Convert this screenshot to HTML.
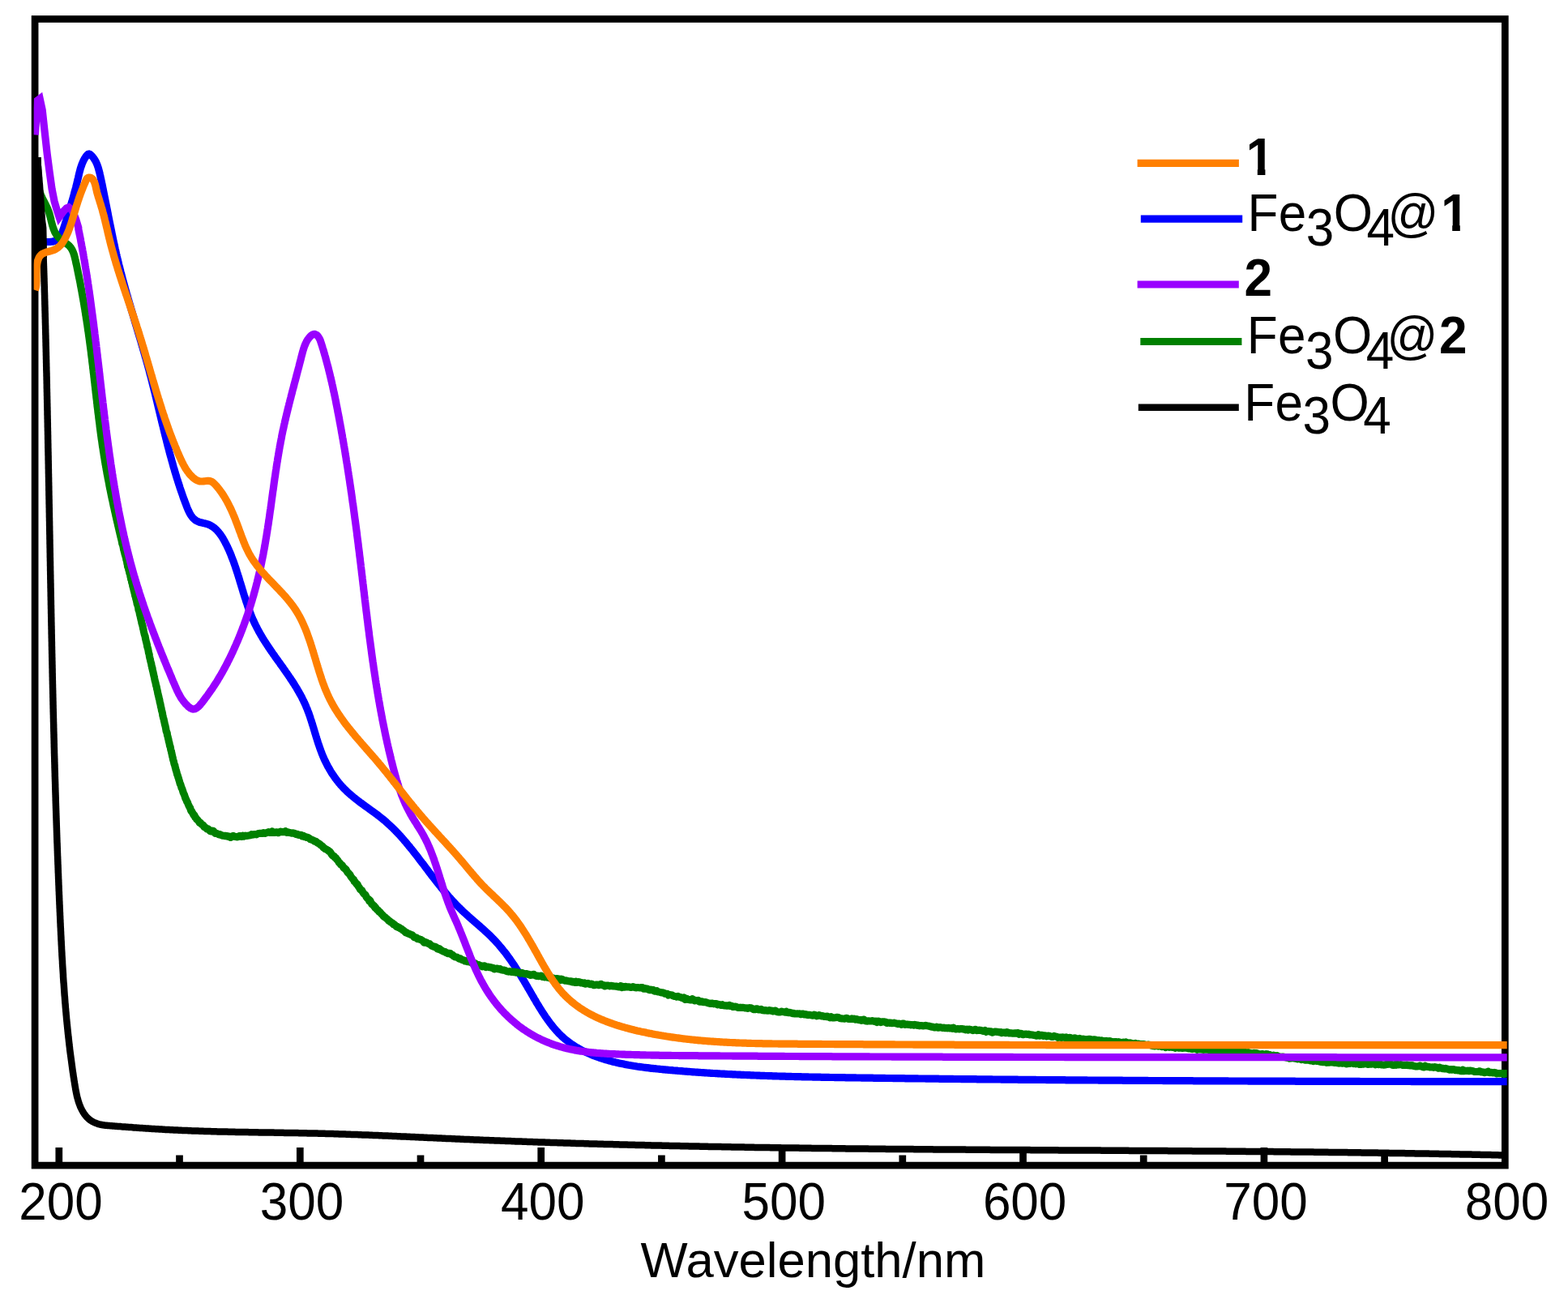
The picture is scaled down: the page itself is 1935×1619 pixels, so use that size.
<!DOCTYPE html>
<html lang="en"><head><meta charset="utf-8"><title>UV-Vis spectra</title>
<style>html,body{margin:0;padding:0;background:#fff}body{width:1935px;height:1619px;overflow:hidden}svg{display:block}text{font-family:"Liberation Sans",Arial,Helvetica,sans-serif;fill:#000}.c{fill:none;stroke-linejoin:miter;stroke-linecap:butt}</style></head><body>
<svg width="1935" height="1619" viewBox="0 0 1935 1619">
<defs><clipPath id="plot"><rect x="41.7" y="23.5" width="1818.0" height="1414.6"/></clipPath></defs>
<rect x="0" y="0" width="1935" height="1619" fill="#fff"/>
<rect x="43.1" y="23.5" width="1814.2" height="1414.6" fill="none" stroke="#000" stroke-width="8.7"/>
<line x1="72.8" y1="1438.1" x2="72.8" y2="1416.0" stroke="#000" stroke-width="8.7"/>
<line x1="221.5" y1="1438.1" x2="221.5" y2="1425.5" stroke="#000" stroke-width="8.7"/>
<line x1="370.3" y1="1438.1" x2="370.3" y2="1416.0" stroke="#000" stroke-width="8.7"/>
<line x1="519.0" y1="1438.1" x2="519.0" y2="1425.5" stroke="#000" stroke-width="8.7"/>
<line x1="667.7" y1="1438.1" x2="667.7" y2="1416.0" stroke="#000" stroke-width="8.7"/>
<line x1="816.4" y1="1438.1" x2="816.4" y2="1425.5" stroke="#000" stroke-width="8.7"/>
<line x1="965.1" y1="1438.1" x2="965.1" y2="1416.0" stroke="#000" stroke-width="8.7"/>
<line x1="1113.8" y1="1438.1" x2="1113.8" y2="1425.5" stroke="#000" stroke-width="8.7"/>
<line x1="1262.5" y1="1438.1" x2="1262.5" y2="1416.0" stroke="#000" stroke-width="8.7"/>
<line x1="1411.2" y1="1438.1" x2="1411.2" y2="1425.5" stroke="#000" stroke-width="8.7"/>
<line x1="1559.9" y1="1438.1" x2="1559.9" y2="1416.0" stroke="#000" stroke-width="8.7"/>
<line x1="1708.6" y1="1438.1" x2="1708.6" y2="1425.5" stroke="#000" stroke-width="8.7"/>
<g clip-path="url(#plot)">
<path class="c" d="M43.2,299.0 L44.5,298.7 L45.8,298.5 L47.2,298.4 L48.7,298.3 L50.2,298.3 L51.8,298.3 L53.4,298.4 L55.1,298.5 L56.7,298.5 L58.4,298.5 L60.1,298.5 L61.7,298.5 L63.3,298.3 L64.8,298.1 L66.2,297.8 L67.6,297.4 L68.9,296.8 L70.0,296.1 L71.1,295.3 L72.1,294.4 L73.0,293.4 L73.9,292.3 L74.6,291.1 L75.4,289.8 L76.0,288.5 L76.6,287.1 L77.2,285.7 L77.7,284.2 L78.3,282.7 L78.7,281.2 L79.2,279.7 L79.7,278.2 L80.2,276.7 L80.6,275.2 L81.1,273.8 L81.6,272.3 L82.0,270.8 L82.5,269.4 L82.9,267.9 L83.4,266.5 L83.8,265.1 L84.3,263.6 L84.7,262.2 L85.2,260.8 L85.6,259.4 L86.0,258.0 L86.4,256.6 L86.9,255.2 L87.3,253.8 L87.7,252.3 L88.1,250.9 L88.5,249.5 L89.0,248.1 L89.4,246.7 L89.8,245.3 L90.2,243.9 L90.6,242.5 L91.0,241.1 L91.4,239.6 L91.7,238.2 L92.1,236.8 L92.5,235.3 L92.9,233.9 L93.3,232.5 L93.7,231.0 L94.0,229.5 L94.4,228.1 L94.8,226.6 L95.1,225.1 L95.5,223.6 L95.8,222.1 L96.2,220.6 L96.6,219.0 L96.9,217.5 L97.3,216.0 L97.6,214.4 L98.0,212.9 L98.4,211.4 L98.8,209.8 L99.2,208.3 L99.7,206.8 L100.2,205.3 L100.7,203.9 L101.2,202.4 L101.8,201.0 L102.4,199.6 L103.0,198.3 L103.7,196.9 L104.4,195.7 L105.2,194.4 L106.0,193.2 L106.9,192.0 L107.9,191.0 L108.8,190.3 L109.9,190.0 L110.9,190.4 L111.9,191.1 L112.9,192.0 L113.9,193.0 L114.7,194.0 L115.6,195.1 L116.3,196.2 L117.1,197.4 L117.8,198.6 L118.4,199.8 L119.0,201.1 L119.6,202.4 L120.1,203.8 L120.6,205.2 L121.1,206.6 L121.5,208.0 L121.9,209.5 L122.3,211.0 L122.7,212.5 L123.1,214.0 L123.4,215.5 L123.8,217.1 L124.1,218.6 L124.4,220.1 L124.8,221.7 L125.1,223.2 L125.4,224.7 L125.7,226.2 L126.0,227.8 L126.4,229.3 L126.7,230.8 L127.0,232.3 L127.3,233.9 L127.6,235.4 L127.9,236.9 L128.2,238.4 L128.5,239.9 L128.8,241.4 L129.1,242.9 L129.4,244.4 L129.7,245.9 L130.0,247.4 L130.3,248.9 L130.6,250.4 L130.9,251.9 L131.2,253.4 L131.5,254.9 L131.8,256.4 L132.1,257.9 L132.4,259.3 L132.7,260.8 L133.0,262.3 L133.3,263.8 L133.5,265.3 L133.8,266.7 L134.1,268.2 L134.4,269.7 L134.7,271.2 L135.0,272.6 L135.3,274.1 L135.6,275.6 L135.9,277.1 L136.2,278.5 L136.5,280.0 L136.8,281.5 L137.1,282.9 L137.4,284.4 L137.7,285.8 L138.0,287.3 L138.3,288.8 L138.6,290.2 L138.9,291.7 L139.2,293.1 L139.5,294.6 L139.8,296.1 L140.1,297.5 L140.4,299.0 L140.7,300.4 L141.1,301.9 L141.4,303.3 L141.7,304.8 L142.0,306.2 L142.3,307.7 L142.7,309.1 L143.0,310.6 L143.3,312.0 L143.6,313.5 L144.0,314.9 L144.3,316.4 L144.7,317.8 L145.0,319.3 L145.3,320.7 L145.7,322.2 L146.0,323.6 L146.4,325.1 L146.7,326.5 L147.1,327.9 L147.5,329.4 L147.8,330.8 L148.2,332.3 L148.6,333.7 L148.9,335.2 L149.3,336.6 L149.7,338.1 L150.1,339.5 L150.5,341.0 L150.8,342.4 L151.2,343.9 L151.6,345.3 L152.0,346.7 L152.4,348.2 L152.8,349.6 L153.2,351.1 L153.6,352.5 L154.0,354.0 L154.4,355.4 L154.8,356.9 L155.2,358.3 L155.6,359.8 L156.0,361.2 L156.4,362.6 L156.9,364.1 L157.3,365.5 L157.7,367.0 L158.1,368.4 L158.5,369.9 L158.9,371.3 L159.4,372.8 L159.8,374.2 L160.2,375.6 L160.6,377.1 L161.1,378.5 L161.5,380.0 L161.9,381.4 L162.3,382.9 L162.8,384.3 L163.2,385.8 L163.6,387.2 L164.1,388.6 L164.5,390.1 L164.9,391.5 L165.4,393.0 L165.8,394.4 L166.2,395.9 L166.6,397.3 L167.1,398.8 L167.5,400.2 L167.9,401.6 L168.4,403.1 L168.8,404.5 L169.2,406.0 L169.7,407.4 L170.1,408.9 L170.5,410.3 L171.0,411.8 L171.4,413.2 L171.8,414.7 L172.3,416.1 L172.7,417.5 L173.1,419.0 L173.6,420.4 L174.0,421.9 L174.4,423.3 L174.8,424.8 L175.3,426.2 L175.7,427.7 L176.1,429.1 L176.5,430.6 L176.9,432.0 L177.4,433.5 L177.8,434.9 L178.2,436.4 L178.6,437.8 L179.0,439.3 L179.4,440.7 L179.9,442.1 L180.3,443.6 L180.7,445.0 L181.1,446.5 L181.5,447.9 L181.9,449.4 L182.3,450.8 L182.7,452.3 L183.1,453.7 L183.5,455.2 L183.9,456.6 L184.3,458.1 L184.6,459.5 L185.0,461.0 L185.4,462.4 L185.8,463.9 L186.2,465.3 L186.6,466.8 L186.9,468.2 L187.3,469.7 L187.7,471.1 L188.0,472.6 L188.4,474.1 L188.8,475.5 L189.1,477.0 L189.5,478.4 L189.9,479.9 L190.2,481.3 L190.6,482.8 L191.0,484.2 L191.3,485.7 L191.7,487.1 L192.0,488.6 L192.4,490.0 L192.7,491.5 L193.1,492.9 L193.4,494.4 L193.8,495.8 L194.1,497.3 L194.5,498.8 L194.8,500.2 L195.2,501.7 L195.5,503.1 L195.9,504.6 L196.2,506.0 L196.6,507.5 L196.9,508.9 L197.3,510.4 L197.6,511.8 L198.0,513.3 L198.3,514.7 L198.7,516.2 L199.0,517.6 L199.4,519.1 L199.7,520.6 L200.1,522.0 L200.4,523.5 L200.8,524.9 L201.2,526.4 L201.5,527.8 L201.9,529.3 L202.2,530.7 L202.6,532.2 L202.9,533.6 L203.3,535.1 L203.6,536.5 L204.0,538.0 L204.4,539.4 L204.7,540.9 L205.1,542.3 L205.5,543.8 L205.8,545.2 L206.2,546.7 L206.6,548.1 L206.9,549.6 L207.3,551.1 L207.7,552.5 L208.1,554.0 L208.5,555.4 L208.8,556.9 L209.2,558.3 L209.6,559.8 L210.0,561.2 L210.4,562.7 L210.8,564.1 L211.2,565.5 L211.6,567.0 L212.0,568.4 L212.4,569.9 L212.8,571.3 L213.2,572.8 L213.6,574.2 L214.0,575.7 L214.4,577.1 L214.9,578.6 L215.3,580.0 L215.7,581.5 L216.1,582.9 L216.6,584.4 L217.0,585.8 L217.4,587.2 L217.9,588.7 L218.3,590.1 L218.8,591.6 L219.2,593.0 L219.7,594.5 L220.2,595.9 L220.6,597.3 L221.1,598.8 L221.6,600.2 L222.0,601.7 L222.5,603.1 L223.0,604.5 L223.5,606.0 L224.0,607.4 L224.5,608.9 L225.0,610.3 L225.5,611.7 L226.0,613.2 L226.5,614.6 L227.0,616.0 L227.6,617.5 L228.1,618.9 L228.6,620.4 L229.2,621.8 L229.7,623.2 L230.3,624.7 L230.8,626.1 L231.4,627.5 L232.0,628.9 L232.6,630.3 L233.3,631.6 L233.9,633.0 L234.6,634.2 L235.4,635.5 L236.2,636.7 L237.0,637.8 L237.9,638.9 L238.9,639.9 L239.9,640.8 L241.0,641.7 L242.2,642.5 L243.5,643.2 L244.8,643.8 L246.2,644.3 L247.7,644.8 L249.3,645.1 L250.8,645.5 L252.4,645.8 L254.0,646.2 L255.5,646.6 L257.0,647.1 L258.4,647.7 L259.8,648.4 L261.1,649.1 L262.3,649.9 L263.5,650.7 L264.7,651.6 L265.8,652.6 L266.9,653.6 L267.9,654.6 L268.9,655.7 L269.9,656.9 L270.8,658.0 L271.7,659.2 L272.5,660.4 L273.4,661.6 L274.2,662.9 L275.0,664.2 L275.7,665.4 L276.5,666.7 L277.2,668.0 L277.9,669.4 L278.6,670.7 L279.3,672.0 L280.0,673.4 L280.6,674.7 L281.2,676.1 L281.9,677.5 L282.5,678.8 L283.1,680.2 L283.7,681.6 L284.3,683.0 L284.8,684.4 L285.4,685.8 L285.9,687.2 L286.5,688.6 L287.0,690.0 L287.5,691.4 L288.1,692.8 L288.6,694.2 L289.1,695.6 L289.6,697.1 L290.1,698.5 L290.6,699.9 L291.0,701.3 L291.5,702.8 L292.0,704.2 L292.4,705.6 L292.9,707.1 L293.4,708.5 L293.8,710.0 L294.3,711.4 L294.7,712.8 L295.2,714.3 L295.6,715.7 L296.0,717.2 L296.5,718.6 L296.9,720.1 L297.4,721.5 L297.8,723.0 L298.2,724.4 L298.7,725.8 L299.1,727.3 L299.6,728.7 L300.0,730.2 L300.4,731.6 L300.9,733.1 L301.3,734.5 L301.8,735.9 L302.2,737.4 L302.7,738.8 L303.2,740.2 L303.6,741.7 L304.1,743.1 L304.6,744.5 L305.1,745.9 L305.5,747.3 L306.0,748.8 L306.5,750.2 L307.0,751.6 L307.6,753.0 L308.1,754.4 L308.6,755.8 L309.2,757.2 L309.7,758.6 L310.3,759.9 L310.8,761.3 L311.4,762.7 L312.0,764.1 L312.6,765.4 L313.2,766.8 L313.8,768.1 L314.4,769.5 L315.1,770.8 L315.7,772.1 L316.4,773.5 L317.1,774.8 L317.8,776.1 L318.5,777.4 L319.2,778.7 L319.9,780.0 L320.6,781.3 L321.4,782.6 L322.1,783.9 L322.9,785.2 L323.7,786.5 L324.4,787.8 L325.2,789.0 L326.0,790.3 L326.8,791.6 L327.6,792.8 L328.4,794.1 L329.2,795.3 L330.1,796.6 L330.9,797.8 L331.7,799.1 L332.6,800.3 L333.4,801.6 L334.3,802.8 L335.1,804.1 L336.0,805.3 L336.8,806.5 L337.7,807.8 L338.6,809.0 L339.4,810.2 L340.3,811.5 L341.2,812.7 L342.1,813.9 L342.9,815.1 L343.8,816.4 L344.7,817.6 L345.6,818.8 L346.4,820.1 L347.3,821.3 L348.2,822.5 L349.1,823.7 L349.9,825.0 L350.8,826.2 L351.7,827.4 L352.5,828.7 L353.4,829.9 L354.3,831.1 L355.1,832.4 L356.0,833.6 L356.8,834.9 L357.7,836.1 L358.5,837.4 L359.3,838.6 L360.2,839.9 L361.0,841.1 L361.8,842.4 L362.6,843.6 L363.4,844.9 L364.2,846.2 L365.0,847.4 L365.8,848.7 L366.5,850.0 L367.3,851.3 L368.0,852.6 L368.8,853.9 L369.5,855.2 L370.2,856.5 L371.0,857.8 L371.7,859.1 L372.4,860.4 L373.0,861.7 L373.7,863.1 L374.4,864.4 L375.0,865.8 L375.6,867.1 L376.3,868.5 L376.9,869.8 L377.5,871.2 L378.0,872.6 L378.6,874.0 L379.2,875.3 L379.7,876.7 L380.2,878.1 L380.8,879.5 L381.3,880.9 L381.8,882.4 L382.3,883.8 L382.8,885.2 L383.2,886.6 L383.7,888.1 L384.2,889.5 L384.6,890.9 L385.1,892.4 L385.5,893.8 L386.0,895.3 L386.4,896.7 L386.9,898.1 L387.3,899.6 L387.7,901.0 L388.2,902.5 L388.6,903.9 L389.0,905.4 L389.5,906.8 L389.9,908.3 L390.4,909.7 L390.8,911.2 L391.3,912.6 L391.7,914.1 L392.2,915.5 L392.6,917.0 L393.1,918.4 L393.6,919.8 L394.1,921.3 L394.6,922.7 L395.1,924.1 L395.6,925.5 L396.1,926.9 L396.7,928.3 L397.2,929.8 L397.8,931.2 L398.3,932.5 L398.9,933.9 L399.5,935.3 L400.1,936.7 L400.8,938.1 L401.4,939.4 L402.1,940.8 L402.7,942.1 L403.4,943.5 L404.1,944.8 L404.8,946.1 L405.6,947.4 L406.3,948.7 L407.1,950.0 L407.8,951.3 L408.6,952.6 L409.4,953.9 L410.2,955.1 L411.1,956.4 L411.9,957.6 L412.8,958.8 L413.6,960.1 L414.5,961.3 L415.4,962.5 L416.3,963.6 L417.3,964.8 L418.2,966.0 L419.2,967.1 L420.1,968.3 L421.1,969.4 L422.1,970.5 L423.1,971.6 L424.2,972.7 L425.2,973.7 L426.3,974.8 L427.3,975.8 L428.4,976.9 L429.5,977.9 L430.6,978.9 L431.7,979.9 L432.9,980.9 L434.0,981.8 L435.2,982.8 L436.3,983.7 L437.5,984.7 L438.7,985.6 L439.8,986.5 L441.0,987.5 L442.2,988.4 L443.4,989.3 L444.6,990.2 L445.9,991.1 L447.1,992.0 L448.3,992.9 L449.5,993.8 L450.7,994.7 L452.0,995.5 L453.2,996.4 L454.4,997.3 L455.7,998.2 L456.9,999.1 L458.1,1000.0 L459.3,1000.8 L460.6,1001.7 L461.8,1002.6 L463.0,1003.5 L464.2,1004.4 L465.4,1005.3 L466.6,1006.2 L467.8,1007.2 L469.0,1008.1 L470.2,1009.0 L471.4,1010.0 L472.5,1010.9 L473.7,1011.9 L474.8,1012.8 L476.0,1013.8 L477.1,1014.8 L478.2,1015.8 L479.3,1016.8 L480.4,1017.8 L481.5,1018.8 L482.6,1019.9 L483.7,1020.9 L484.8,1021.9 L485.8,1023.0 L486.9,1024.0 L487.9,1025.1 L489.0,1026.2 L490.0,1027.3 L491.0,1028.3 L492.1,1029.4 L493.1,1030.5 L494.1,1031.6 L495.1,1032.8 L496.1,1033.9 L497.1,1035.0 L498.1,1036.1 L499.0,1037.3 L500.0,1038.4 L501.0,1039.5 L502.0,1040.7 L502.9,1041.8 L503.9,1043.0 L504.8,1044.2 L505.8,1045.3 L506.7,1046.5 L507.7,1047.6 L508.6,1048.8 L509.5,1050.0 L510.5,1051.2 L511.4,1052.4 L512.3,1053.5 L513.2,1054.7 L514.2,1055.9 L515.1,1057.1 L516.0,1058.3 L516.9,1059.5 L517.8,1060.7 L518.7,1061.9 L519.6,1063.1 L520.5,1064.3 L521.5,1065.4 L522.4,1066.6 L523.3,1067.8 L524.2,1069.0 L525.1,1070.2 L526.0,1071.4 L526.9,1072.6 L527.8,1073.8 L528.7,1075.0 L529.6,1076.2 L530.5,1077.4 L531.4,1078.6 L532.3,1079.8 L533.2,1080.9 L534.1,1082.1 L535.1,1083.3 L536.0,1084.5 L536.9,1085.7 L537.8,1086.8 L538.7,1088.0 L539.6,1089.2 L540.6,1090.4 L541.5,1091.5 L542.4,1092.7 L543.4,1093.9 L544.3,1095.0 L545.3,1096.2 L546.2,1097.3 L547.1,1098.5 L548.1,1099.6 L549.1,1100.8 L550.0,1101.9 L551.0,1103.0 L552.0,1104.2 L552.9,1105.3 L553.9,1106.4 L554.9,1107.6 L555.9,1108.7 L556.9,1109.8 L557.9,1110.9 L558.9,1112.0 L559.9,1113.1 L561.0,1114.2 L562.0,1115.3 L563.0,1116.4 L564.1,1117.4 L565.1,1118.5 L566.2,1119.6 L567.3,1120.6 L568.3,1121.7 L569.4,1122.7 L570.5,1123.8 L571.6,1124.8 L572.7,1125.9 L573.8,1126.9 L575.0,1127.9 L576.1,1128.9 L577.2,1130.0 L578.3,1131.0 L579.5,1132.0 L580.6,1133.0 L581.8,1134.0 L582.9,1135.0 L584.1,1136.0 L585.2,1137.0 L586.4,1138.0 L587.5,1139.0 L588.7,1140.0 L589.8,1141.0 L591.0,1142.0 L592.1,1143.0 L593.2,1144.0 L594.4,1145.0 L595.5,1146.0 L596.7,1147.0 L597.8,1148.0 L598.9,1149.1 L600.0,1150.1 L601.1,1151.1 L602.2,1152.1 L603.3,1153.2 L604.4,1154.2 L605.5,1155.3 L606.5,1156.3 L607.6,1157.4 L608.6,1158.5 L609.7,1159.5 L610.7,1160.6 L611.7,1161.7 L612.7,1162.8 L613.7,1163.9 L614.7,1165.0 L615.7,1166.1 L616.6,1167.3 L617.6,1168.4 L618.5,1169.5 L619.5,1170.7 L620.4,1171.8 L621.3,1173.0 L622.3,1174.1 L623.2,1175.3 L624.1,1176.5 L625.0,1177.6 L625.8,1178.8 L626.7,1180.0 L627.6,1181.2 L628.5,1182.4 L629.3,1183.6 L630.2,1184.8 L631.0,1186.0 L631.9,1187.3 L632.7,1188.5 L633.5,1189.7 L634.4,1190.9 L635.2,1192.2 L636.0,1193.4 L636.8,1194.7 L637.6,1195.9 L638.4,1197.2 L639.2,1198.4 L640.0,1199.7 L640.8,1201.0 L641.6,1202.2 L642.4,1203.5 L643.2,1204.8 L643.9,1206.1 L644.7,1207.4 L645.5,1208.7 L646.3,1209.9 L647.0,1211.2 L647.8,1212.5 L648.6,1213.8 L649.3,1215.1 L650.1,1216.4 L650.9,1217.8 L651.6,1219.1 L652.4,1220.4 L653.2,1221.7 L653.9,1223.0 L654.7,1224.3 L655.5,1225.7 L656.2,1227.0 L657.0,1228.3 L657.8,1229.6 L658.5,1230.9 L659.3,1232.3 L660.1,1233.6 L660.9,1234.9 L661.6,1236.2 L662.4,1237.6 L663.2,1238.9 L664.0,1240.2 L664.8,1241.5 L665.6,1242.8 L666.4,1244.1 L667.2,1245.4 L668.0,1246.7 L668.8,1248.0 L669.7,1249.3 L670.5,1250.6 L671.3,1251.8 L672.2,1253.1 L673.0,1254.4 L673.9,1255.6 L674.8,1256.9 L675.6,1258.1 L676.5,1259.3 L677.4,1260.5 L678.3,1261.7 L679.2,1262.9 L680.1,1264.1 L681.0,1265.3 L682.0,1266.5 L682.9,1267.6 L683.9,1268.8 L684.9,1269.9 L685.8,1271.0 L686.8,1272.1 L687.8,1273.2 L688.8,1274.3 L689.9,1275.4 L690.9,1276.4 L692.0,1277.4 L693.0,1278.5 L694.1,1279.5 L695.2,1280.5 L696.3,1281.4 L697.4,1282.4 L698.6,1283.3 L699.7,1284.2 L700.9,1285.1 L702.0,1286.0 L703.2,1286.9 L704.4,1287.8 L705.6,1288.6 L706.9,1289.4 L708.1,1290.2 L709.4,1291.0 L710.6,1291.8 L711.9,1292.6 L713.2,1293.3 L714.5,1294.1 L715.8,1294.8 L717.1,1295.5 L718.4,1296.2 L719.7,1296.9 L721.1,1297.5 L722.4,1298.2 L723.8,1298.8 L725.1,1299.4 L726.5,1300.0 L727.9,1300.6 L729.3,1301.2 L730.6,1301.8 L732.0,1302.4 L733.4,1302.9 L734.9,1303.4 L736.3,1304.0 L737.7,1304.5 L739.1,1305.0 L740.6,1305.5 L742.0,1305.9 L743.4,1306.4 L744.9,1306.9 L746.3,1307.3 L747.8,1307.8 L749.2,1308.2 L750.7,1308.6 L752.1,1309.0 L753.6,1309.4 L755.1,1309.8 L756.5,1310.2 L758.0,1310.5 L759.5,1310.9 L760.9,1311.2 L762.4,1311.6 L763.9,1311.9 L765.3,1312.2 L766.8,1312.5 L768.3,1312.8 L769.8,1313.1 L771.2,1313.4 L772.7,1313.7 L774.2,1314.0 L775.7,1314.3 L777.2,1314.5 L778.6,1314.8 L780.1,1315.0 L781.6,1315.3 L783.1,1315.5 L784.6,1315.7 L786.1,1316.0 L787.5,1316.2 L789.0,1316.4 L790.5,1316.6 L792.0,1316.8 L793.5,1317.0 L795.0,1317.2 L796.5,1317.4 L798.0,1317.6 L799.4,1317.7 L800.9,1317.9 L802.4,1318.1 L803.9,1318.3 L805.4,1318.4 L806.9,1318.6 L808.4,1318.7 L809.9,1318.9 L811.4,1319.0 L812.9,1319.2 L814.4,1319.3 L815.9,1319.5 L817.4,1319.6 L818.9,1319.8 L820.4,1319.9 L821.9,1320.1 L823.3,1320.2 L824.8,1320.3 L826.3,1320.5 L827.8,1320.6 L829.3,1320.7 L830.8,1320.9 L832.3,1321.0 L833.8,1321.1 L835.3,1321.2 L836.8,1321.4 L838.3,1321.5 L839.8,1321.6 L841.3,1321.7 L842.8,1321.8 L844.3,1322.0 L845.8,1322.1 L847.3,1322.2 L848.8,1322.3 L850.3,1322.4 L851.8,1322.5 L853.3,1322.7 L854.8,1322.8 L856.3,1322.9 L857.8,1323.0 L859.3,1323.1 L860.8,1323.2 L862.3,1323.3 L863.7,1323.4 L865.2,1323.5 L866.7,1323.6 L868.2,1323.7 L869.7,1323.8 L871.2,1323.9 L872.7,1324.0 L874.2,1324.1 L875.7,1324.2 L877.2,1324.3 L878.7,1324.4 L880.2,1324.5 L881.7,1324.5 L883.2,1324.6 L884.7,1324.7 L886.2,1324.8 L887.7,1324.9 L889.2,1325.0 L890.7,1325.1 L892.2,1325.1 L893.7,1325.2 L895.2,1325.3 L896.7,1325.4 L898.2,1325.5 L899.7,1325.5 L901.2,1325.6 L902.7,1325.7 L904.2,1325.8 L905.7,1325.8 L907.2,1325.9 L908.7,1326.0 L910.2,1326.1 L911.7,1326.1 L913.2,1326.2 L914.7,1326.3 L916.2,1326.3 L917.7,1326.4 L919.2,1326.5 L920.7,1326.5 L922.2,1326.6 L923.7,1326.7 L925.2,1326.7 L926.7,1326.8 L928.2,1326.9 L929.7,1326.9 L931.2,1327.0 L932.7,1327.0 L934.2,1327.1 L935.7,1327.2 L937.2,1327.2 L938.7,1327.3 L940.2,1327.3 L941.7,1327.4 L943.2,1327.4 L944.7,1327.5 L946.2,1327.5 L947.7,1327.6 L949.2,1327.6 L950.7,1327.7 L952.2,1327.7 L953.7,1327.8 L955.2,1327.8 L956.7,1327.9 L958.2,1327.9 L959.7,1328.0 L961.2,1328.0 L962.7,1328.1 L964.2,1328.1 L965.7,1328.1 L967.2,1328.2 L968.7,1328.2 L970.2,1328.3 L971.7,1328.3 L973.2,1328.4 L974.7,1328.4 L976.2,1328.4 L977.7,1328.5 L979.2,1328.5 L980.7,1328.6 L982.2,1328.6 L983.7,1328.6 L985.2,1328.7 L986.7,1328.7 L988.2,1328.7 L989.7,1328.8 L991.2,1328.8 L992.7,1328.8 L994.2,1328.9 L995.7,1328.9 L997.2,1328.9 L998.7,1329.0 L1000.2,1329.0 L1001.7,1329.0 L1003.2,1329.1 L1004.7,1329.1 L1006.2,1329.1 L1007.7,1329.2 L1009.2,1329.2 L1010.7,1329.2 L1012.2,1329.2 L1013.7,1329.3 L1015.2,1329.3 L1016.7,1329.3 L1018.2,1329.4 L1019.7,1329.4 L1021.2,1329.4 L1022.7,1329.4 L1024.2,1329.5 L1025.7,1329.5 L1027.2,1329.5 L1028.7,1329.5 L1030.2,1329.6 L1031.7,1329.6 L1033.2,1329.6 L1034.7,1329.6 L1036.2,1329.7 L1037.7,1329.7 L1039.2,1329.7 L1040.7,1329.7 L1042.2,1329.7 L1043.7,1329.8 L1045.2,1329.8 L1046.7,1329.8 L1048.2,1329.8 L1049.7,1329.9 L1051.2,1329.9 L1052.8,1329.9 L1054.3,1329.9 L1055.8,1329.9 L1057.3,1330.0 L1058.8,1330.0 L1060.3,1330.0 L1061.8,1330.0 L1063.3,1330.1 L1064.8,1330.1 L1066.3,1330.1 L1067.8,1330.1 L1069.3,1330.1 L1070.8,1330.2 L1072.3,1330.2 L1073.8,1330.2 L1075.3,1330.2 L1076.8,1330.2 L1078.3,1330.3 L1079.8,1330.3 L1081.3,1330.3 L1082.8,1330.3 L1084.3,1330.3 L1085.8,1330.4 L1087.3,1330.4 L1088.8,1330.4 L1090.3,1330.4 L1091.8,1330.4 L1093.3,1330.5 L1094.8,1330.5 L1096.3,1330.5 L1097.8,1330.5 L1099.3,1330.5 L1100.8,1330.5 L1102.3,1330.6 L1103.8,1330.6 L1105.3,1330.6 L1106.8,1330.6 L1108.3,1330.6 L1109.8,1330.7 L1111.3,1330.7 L1112.8,1330.7 L1114.3,1330.7 L1115.8,1330.7 L1117.3,1330.8 L1118.8,1330.8 L1120.3,1330.8 L1121.8,1330.8 L1123.3,1330.8 L1124.8,1330.8 L1126.3,1330.9 L1127.8,1330.9 L1129.3,1330.9 L1130.8,1330.9 L1132.3,1330.9 L1133.8,1331.0 L1135.3,1331.0 L1136.8,1331.0 L1138.3,1331.0 L1139.8,1331.0 L1141.3,1331.0 L1142.8,1331.1 L1144.3,1331.1 L1145.8,1331.1 L1147.3,1331.1 L1148.8,1331.1 L1150.3,1331.2 L1151.8,1331.2 L1153.4,1331.2 L1154.9,1331.2 L1156.4,1331.2 L1157.9,1331.2 L1159.4,1331.3 L1160.9,1331.3 L1162.4,1331.3 L1163.9,1331.3 L1165.4,1331.3 L1166.9,1331.3 L1168.4,1331.4 L1169.9,1331.4 L1171.4,1331.4 L1172.9,1331.4 L1174.4,1331.4 L1175.9,1331.4 L1177.4,1331.5 L1178.9,1331.5 L1180.4,1331.5 L1181.9,1331.5 L1183.4,1331.5 L1184.9,1331.5 L1186.4,1331.6 L1187.9,1331.6 L1189.4,1331.6 L1190.9,1331.6 L1192.4,1331.6 L1193.9,1331.6 L1195.4,1331.6 L1196.9,1331.7 L1198.4,1331.7 L1199.9,1331.7 L1201.4,1331.7 L1202.9,1331.7 L1204.4,1331.7 L1205.9,1331.8 L1207.4,1331.8 L1208.9,1331.8 L1210.4,1331.8 L1211.9,1331.8 L1213.4,1331.8 L1214.9,1331.8 L1216.4,1331.9 L1217.9,1331.9 L1219.4,1331.9 L1220.9,1331.9 L1222.4,1331.9 L1223.9,1331.9 L1225.4,1332.0 L1226.9,1332.0 L1228.4,1332.0 L1229.9,1332.0 L1231.4,1332.0 L1232.9,1332.0 L1234.4,1332.0 L1235.9,1332.1 L1237.4,1332.1 L1238.9,1332.1 L1240.4,1332.1 L1241.9,1332.1 L1243.4,1332.1 L1244.9,1332.1 L1246.4,1332.2 L1247.9,1332.2 L1249.4,1332.2 L1250.9,1332.2 L1252.4,1332.2 L1253.9,1332.2 L1255.4,1332.2 L1256.9,1332.3 L1258.4,1332.3 L1260.0,1332.3 L1261.5,1332.3 L1263.0,1332.3 L1264.5,1332.3 L1266.0,1332.3 L1267.5,1332.3 L1269.0,1332.4 L1270.5,1332.4 L1272.0,1332.4 L1273.5,1332.4 L1275.0,1332.4 L1276.5,1332.4 L1278.0,1332.4 L1279.5,1332.5 L1281.0,1332.5 L1282.5,1332.5 L1284.0,1332.5 L1285.5,1332.5 L1287.0,1332.5 L1288.5,1332.5 L1290.0,1332.5 L1291.5,1332.6 L1293.0,1332.6 L1294.5,1332.6 L1296.0,1332.6 L1297.5,1332.6 L1299.0,1332.6 L1300.5,1332.6 L1302.0,1332.6 L1303.5,1332.7 L1305.0,1332.7 L1306.5,1332.7 L1308.0,1332.7 L1309.5,1332.7 L1311.0,1332.7 L1312.5,1332.7 L1314.0,1332.7 L1315.5,1332.8 L1317.0,1332.8 L1318.5,1332.8 L1320.0,1332.8 L1321.5,1332.8 L1323.0,1332.8 L1324.5,1332.8 L1326.0,1332.8 L1327.5,1332.8 L1329.0,1332.9 L1330.5,1332.9 L1332.0,1332.9 L1333.5,1332.9 L1335.0,1332.9 L1336.5,1332.9 L1338.0,1332.9 L1339.5,1332.9 L1341.0,1332.9 L1342.5,1333.0 L1344.0,1333.0 L1345.5,1333.0 L1347.0,1333.0 L1348.5,1333.0 L1350.0,1333.0 L1351.5,1333.0 L1353.0,1333.0 L1354.5,1333.0 L1356.0,1333.1 L1357.5,1333.1 L1359.0,1333.1 L1360.5,1333.1 L1362.0,1333.1 L1363.5,1333.1 L1365.0,1333.1 L1366.5,1333.1 L1368.0,1333.1 L1369.5,1333.1 L1371.1,1333.2 L1372.6,1333.2 L1374.1,1333.2 L1375.6,1333.2 L1377.1,1333.2 L1378.6,1333.2 L1380.1,1333.2 L1381.6,1333.2 L1383.1,1333.2 L1384.6,1333.2 L1386.1,1333.3 L1387.6,1333.3 L1389.1,1333.3 L1390.6,1333.3 L1392.1,1333.3 L1393.6,1333.3 L1395.1,1333.3 L1396.6,1333.3 L1398.1,1333.3 L1399.6,1333.3 L1401.1,1333.4 L1402.6,1333.4 L1404.1,1333.4 L1405.6,1333.4 L1407.1,1333.4 L1408.6,1333.4 L1410.1,1333.4 L1411.6,1333.4 L1413.1,1333.4 L1414.6,1333.4 L1416.1,1333.4 L1417.6,1333.5 L1419.1,1333.5 L1420.6,1333.5 L1422.1,1333.5 L1423.6,1333.5 L1425.1,1333.5 L1426.6,1333.5 L1428.1,1333.5 L1429.6,1333.5 L1431.1,1333.5 L1432.6,1333.5 L1434.1,1333.5 L1435.6,1333.6 L1437.1,1333.6 L1438.6,1333.6 L1440.1,1333.6 L1441.6,1333.6 L1443.1,1333.6 L1444.6,1333.6 L1446.1,1333.6 L1447.6,1333.6 L1449.1,1333.6 L1450.6,1333.6 L1452.1,1333.6 L1453.6,1333.7 L1455.1,1333.7 L1456.6,1333.7 L1458.1,1333.7 L1459.6,1333.7 L1461.1,1333.7 L1462.6,1333.7 L1464.1,1333.7 L1465.6,1333.7 L1467.1,1333.7 L1468.6,1333.7 L1470.1,1333.7 L1471.6,1333.7 L1473.1,1333.8 L1474.6,1333.8 L1476.1,1333.8 L1477.6,1333.8 L1479.1,1333.8 L1480.6,1333.8 L1482.1,1333.8 L1483.6,1333.8 L1485.2,1333.8 L1486.7,1333.8 L1488.2,1333.8 L1489.7,1333.8 L1491.2,1333.8 L1492.7,1333.8 L1494.2,1333.9 L1495.7,1333.9 L1497.2,1333.9 L1498.7,1333.9 L1500.2,1333.9 L1501.7,1333.9 L1503.2,1333.9 L1504.7,1333.9 L1506.2,1333.9 L1507.7,1333.9 L1509.2,1333.9 L1510.7,1333.9 L1512.2,1333.9 L1513.7,1333.9 L1515.2,1333.9 L1516.7,1334.0 L1518.2,1334.0 L1519.7,1334.0 L1521.2,1334.0 L1522.7,1334.0 L1524.2,1334.0 L1525.7,1334.0 L1527.2,1334.0 L1528.7,1334.0 L1530.2,1334.0 L1531.7,1334.0 L1533.2,1334.0 L1534.7,1334.0 L1536.2,1334.0 L1537.7,1334.0 L1539.2,1334.0 L1540.7,1334.1 L1542.2,1334.1 L1543.7,1334.1 L1545.2,1334.1 L1546.7,1334.1 L1548.2,1334.1 L1549.7,1334.1 L1551.2,1334.1 L1552.7,1334.1 L1554.2,1334.1 L1555.7,1334.1 L1557.2,1334.1 L1558.7,1334.1 L1560.2,1334.1 L1561.7,1334.1 L1563.2,1334.1 L1564.7,1334.1 L1566.2,1334.1 L1567.7,1334.2 L1569.2,1334.2 L1570.7,1334.2 L1572.2,1334.2 L1573.7,1334.2 L1575.2,1334.2 L1576.7,1334.2 L1578.2,1334.2 L1579.7,1334.2 L1581.2,1334.2 L1582.7,1334.2 L1584.2,1334.2 L1585.7,1334.2 L1587.2,1334.2 L1588.7,1334.2 L1590.2,1334.2 L1591.7,1334.2 L1593.2,1334.2 L1594.7,1334.2 L1596.2,1334.2 L1597.7,1334.2 L1599.3,1334.3 L1600.8,1334.3 L1602.3,1334.3 L1603.8,1334.3 L1605.3,1334.3 L1606.8,1334.3 L1608.3,1334.3 L1609.8,1334.3 L1611.3,1334.3 L1612.8,1334.3 L1614.3,1334.3 L1615.8,1334.3 L1617.3,1334.3 L1618.8,1334.3 L1620.3,1334.3 L1621.8,1334.3 L1623.3,1334.3 L1624.8,1334.3 L1626.3,1334.3 L1627.8,1334.3 L1629.3,1334.3 L1630.8,1334.3 L1632.3,1334.3 L1633.8,1334.3 L1635.3,1334.4 L1636.8,1334.4 L1638.3,1334.4 L1639.8,1334.4 L1641.3,1334.4 L1642.8,1334.4 L1644.3,1334.4 L1645.8,1334.4 L1647.3,1334.4 L1648.8,1334.4 L1650.3,1334.4 L1651.8,1334.4 L1653.3,1334.4 L1654.8,1334.4 L1656.3,1334.4 L1657.8,1334.4 L1659.3,1334.4 L1660.8,1334.4 L1662.3,1334.4 L1663.8,1334.4 L1665.3,1334.4 L1666.8,1334.4 L1668.3,1334.4 L1669.8,1334.4 L1671.3,1334.4 L1672.8,1334.4 L1674.3,1334.4 L1675.8,1334.4 L1677.3,1334.4 L1678.8,1334.5 L1680.3,1334.5 L1681.8,1334.5 L1683.3,1334.5 L1684.8,1334.5 L1686.3,1334.5 L1687.8,1334.5 L1689.3,1334.5 L1690.8,1334.5 L1692.3,1334.5 L1693.8,1334.5 L1695.3,1334.5 L1696.8,1334.5 L1698.3,1334.5 L1699.8,1334.5 L1701.3,1334.5 L1702.8,1334.5 L1704.3,1334.5 L1705.8,1334.5 L1707.3,1334.5 L1708.9,1334.5 L1710.4,1334.5 L1711.9,1334.5 L1713.4,1334.5 L1714.9,1334.5 L1716.4,1334.5 L1717.9,1334.5 L1719.4,1334.5 L1720.9,1334.5 L1722.4,1334.5 L1723.9,1334.5 L1725.4,1334.5 L1726.9,1334.5 L1728.4,1334.5 L1729.9,1334.5 L1731.4,1334.5 L1732.9,1334.5 L1734.4,1334.5 L1735.9,1334.5 L1737.4,1334.5 L1738.9,1334.5 L1740.4,1334.5 L1741.9,1334.6 L1743.4,1334.6 L1744.9,1334.6 L1746.4,1334.6 L1747.9,1334.6 L1749.4,1334.6 L1750.9,1334.6 L1752.4,1334.6 L1753.9,1334.6 L1755.4,1334.6 L1756.9,1334.6 L1758.4,1334.6 L1759.9,1334.6 L1761.4,1334.6 L1762.9,1334.6 L1764.4,1334.6 L1765.9,1334.6 L1767.4,1334.6 L1768.9,1334.6 L1770.4,1334.6 L1771.9,1334.6 L1773.4,1334.6 L1774.9,1334.6 L1776.4,1334.6 L1777.9,1334.6 L1779.4,1334.6 L1780.9,1334.6 L1782.4,1334.6 L1783.9,1334.6 L1785.4,1334.6 L1786.9,1334.6 L1788.4,1334.6 L1789.9,1334.6 L1791.4,1334.6 L1792.9,1334.6 L1794.4,1334.6 L1795.9,1334.6 L1797.4,1334.6 L1798.9,1334.6 L1800.4,1334.6 L1801.9,1334.6 L1803.4,1334.6 L1804.9,1334.6 L1806.4,1334.6 L1807.9,1334.6 L1809.4,1334.6 L1811.0,1334.6 L1812.5,1334.6 L1814.0,1334.6 L1815.5,1334.6 L1817.0,1334.6 L1818.5,1334.6 L1820.0,1334.6 L1821.5,1334.6 L1823.0,1334.6 L1824.5,1334.6 L1826.0,1334.6 L1827.5,1334.6 L1829.0,1334.6 L1830.5,1334.6 L1832.0,1334.6 L1833.5,1334.6 L1835.0,1334.6 L1836.5,1334.6 L1838.0,1334.6 L1839.5,1334.6 L1841.0,1334.6 L1842.5,1334.6 L1844.0,1334.6 L1845.5,1334.6 L1847.0,1334.6 L1848.5,1334.6 L1850.0,1334.6 L1851.5,1334.6 L1853.0,1334.6 L1854.5,1334.6 L1856.0,1334.6 L1857.5,1334.6 L1859.0,1334.6 L1860.5,1334.6 L1862.0,1334.6" stroke="#0000ff" stroke-width="9.2"/>
<path class="c" d="M47.5,224.0 L47.5,225.7 L47.5,227.3 L47.6,228.9 L47.7,230.5 L48.0,232.0 L48.3,233.5 L48.6,235.0 L49.0,236.4 L49.5,237.8 L50.0,239.2 L50.5,240.6 L51.1,241.9 L51.7,243.2 L52.3,244.6 L52.9,245.9 L53.6,247.2 L54.2,248.5 L54.9,249.8 L55.6,251.1 L56.3,252.4 L56.9,253.7 L57.6,255.1 L58.2,256.4 L58.8,257.8 L59.4,259.2 L59.9,260.6 L60.4,262.0 L60.9,263.5 L61.3,265.0 L61.7,266.5 L62.1,268.0 L62.5,269.5 L62.9,271.0 L63.2,272.6 L63.6,274.1 L64.0,275.6 L64.4,277.1 L64.8,278.6 L65.3,280.1 L65.7,281.5 L66.3,282.9 L66.8,284.3 L67.4,285.7 L68.0,287.0 L68.7,288.2 L69.5,289.5 L70.3,290.6 L71.2,291.8 L72.2,292.8 L73.2,293.8 L74.3,294.8 L75.5,295.7 L76.6,296.6 L77.8,297.5 L79.0,298.4 L80.2,299.2 L81.4,300.1 L82.6,301.0 L83.7,301.9 L84.8,302.8 L85.8,303.8 L86.7,304.8 L87.6,306.0 L88.3,307.1 L89.0,308.3 L89.6,309.6 L90.2,310.9 L90.7,312.2 L91.2,313.6 L91.6,315.0 L92.0,316.5 L92.4,317.9 L92.7,319.4 L93.1,320.8 L93.4,322.3 L93.7,323.8 L94.0,325.3 L94.4,326.7 L94.7,328.2 L95.0,329.7 L95.3,331.2 L95.6,332.6 L95.9,334.1 L96.2,335.6 L96.5,337.1 L96.8,338.5 L97.1,340.0 L97.4,341.5 L97.7,343.0 L98.0,344.4 L98.3,345.9 L98.6,347.4 L98.9,348.9 L99.2,350.3 L99.4,351.8 L99.7,353.3 L100.0,354.8 L100.3,356.3 L100.5,357.7 L100.8,359.2 L101.1,360.7 L101.3,362.2 L101.6,363.7 L101.9,365.1 L102.1,366.6 L102.4,368.1 L102.7,369.6 L102.9,371.0 L103.2,372.5 L103.4,374.0 L103.7,375.5 L103.9,377.0 L104.2,378.5 L104.4,379.9 L104.7,381.4 L104.9,382.9 L105.1,384.4 L105.4,385.9 L105.6,387.3 L105.8,388.8 L106.1,390.3 L106.3,391.8 L106.5,393.3 L106.8,394.8 L107.0,396.2 L107.2,397.7 L107.4,399.2 L107.7,400.7 L107.9,402.2 L108.1,403.7 L108.3,405.1 L108.5,406.6 L108.7,408.1 L109.0,409.6 L109.2,411.1 L109.4,412.6 L109.6,414.1 L109.8,415.5 L110.0,417.0 L110.2,418.5 L110.4,420.0 L110.6,421.5 L110.8,423.0 L111.0,424.5 L111.2,426.0 L111.4,427.4 L111.6,428.9 L111.8,430.4 L112.0,431.9 L112.2,433.4 L112.4,434.9 L112.5,436.4 L112.7,437.9 L112.9,439.4 L113.1,440.9 L113.3,442.3 L113.5,443.8 L113.6,445.3 L113.8,446.8 L114.0,448.3 L114.2,449.8 L114.4,451.3 L114.5,452.8 L114.7,454.3 L114.9,455.8 L115.1,457.3 L115.2,458.8 L115.4,460.3 L115.6,461.7 L115.8,463.2 L115.9,464.7 L116.1,466.2 L116.3,467.7 L116.4,469.2 L116.6,470.7 L116.8,472.2 L117.0,473.7 L117.1,475.2 L117.3,476.7 L117.5,478.2 L117.6,479.7 L117.8,481.2 L118.0,482.7 L118.1,484.2 L118.3,485.7 L118.5,487.2 L118.7,488.6 L118.8,490.1 L119.0,491.6 L119.2,493.1 L119.4,494.6 L119.5,496.1 L119.7,497.6 L119.9,499.1 L120.0,500.6 L120.2,502.1 L120.4,503.6 L120.6,505.1 L120.8,506.6 L120.9,508.1 L121.1,509.6 L121.3,511.0 L121.5,512.5 L121.7,514.0 L121.8,515.5 L122.0,517.0 L122.2,518.5 L122.4,520.0 L122.6,521.5 L122.8,523.0 L123.0,524.5 L123.1,526.0 L123.3,527.5 L123.5,528.9 L123.7,530.4 L123.9,531.9 L124.1,533.4 L124.3,534.9 L124.5,536.4 L124.7,537.9 L124.9,539.4 L125.1,540.9 L125.3,542.3 L125.6,543.8 L125.8,545.3 L126.0,546.8 L126.2,548.3 L126.4,549.8 L126.6,551.3 L126.9,552.7 L127.1,554.2 L127.3,555.7 L127.5,557.2 L127.8,558.7 L128.0,560.2 L128.2,561.6 L128.5,563.1 L128.7,564.6 L129.0,566.1 L129.2,567.6 L129.4,569.0 L129.7,570.5 L129.9,572.0 L130.2,573.5 L130.5,575.0 L130.7,576.4 L131.0,577.9 L131.2,579.4 L131.5,580.9 L131.8,582.3 L132.0,583.8 L132.3,585.3 L132.6,586.8 L132.9,588.2 L133.1,589.7 L133.4,591.2 L133.7,592.7 L134.0,594.1 L134.3,595.6 L134.6,597.1 L134.8,598.5 L135.1,600.0 L135.4,601.5 L135.7,603.0 L136.0,604.4 L136.3,605.9 L136.6,607.4 L136.9,608.8 L137.2,610.3 L137.5,611.8 L137.8,613.2 L138.1,614.7 L138.4,616.2 L138.8,617.6 L139.1,619.1 L139.4,620.6 L139.7,622.0 L140.0,623.5 L140.3,625.0 L140.7,626.4 L141.0,627.9 L141.3,629.4 L141.6,630.8 L142.0,632.3 L142.3,633.7 L142.6,635.2 L142.9,636.7 L143.3,638.1 L143.6,639.6 L143.9,641.1 L144.3,642.5 L144.6,644.0 L145.0,645.4 L145.3,646.9 L145.6,648.4 L146.0,649.8 L146.3,651.3 L146.7,652.8 L147.0,654.2 L147.3,655.7 L147.7,657.1 L148.0,658.6 L148.4,660.1 L148.7,661.5 L149.1,663.0 L149.4,664.4 L149.8,665.9 L150.1,667.1 L150.5,669.2 L150.8,671.0 L151.2,671.7 L151.5,672.7 L151.9,674.1 L152.3,676.1 L152.6,678.0 L153.0,679.1 L153.3,680.7 L153.7,681.7 L154.0,683.5 L154.4,684.6 L154.8,686.2 L155.1,687.2 L155.5,688.5 L155.8,690.5 L156.2,691.6 L156.6,693.2 L156.9,695.4 L157.3,696.5 L157.6,699.3 L158.0,699.8 L158.4,700.6 L158.7,702.7 L159.1,704.0 L159.5,705.0 L159.8,707.2 L160.2,707.8 L160.6,708.3 L160.9,711.4 L161.3,712.3 L161.6,714.7 L162.0,715.2 L162.4,716.4 L162.7,719.1 L163.1,719.4 L163.5,721.4 L163.8,723.4 L164.2,724.3 L164.5,725.6 L164.9,727.2 L165.3,729.0 L165.6,729.7 L166.0,731.8 L166.4,733.2 L166.7,735.5 L167.1,735.7 L167.4,736.9 L167.8,739.1 L168.2,740.1 L168.5,741.8 L168.9,743.2 L169.2,745.2 L169.6,745.8 L170.0,747.5 L170.3,747.9 L170.7,750.1 L171.0,752.6 L171.4,753.1 L171.7,754.5 L172.1,755.8 L172.4,758.0 L172.8,759.3 L173.1,760.2 L173.5,762.5 L173.8,763.7 L174.2,765.4 L174.5,766.2 L174.9,768.8 L175.2,769.6 L175.6,770.9 L175.9,772.2 L176.3,773.7 L176.6,775.7 L177.0,776.7 L177.3,778.7 L177.6,780.0 L178.0,781.8 L178.3,783.0 L178.7,784.1 L179.0,784.7 L179.4,787.2 L179.7,788.8 L180.0,790.0 L180.4,791.7 L180.7,792.7 L181.0,794.2 L181.4,795.4 L181.7,797.9 L182.0,798.8 L182.4,800.0 L182.7,801.1 L183.1,803.1 L183.4,805.2 L183.7,806.3 L184.1,807.2 L184.4,809.6 L184.7,811.1 L185.0,812.4 L185.4,813.7 L185.7,815.4 L186.0,816.6 L186.4,818.1 L186.7,818.9 L187.0,821.4 L187.4,822.3 L187.7,824.6 L188.0,824.2 L188.3,826.9 L188.7,828.5 L189.0,829.4 L189.3,831.2 L189.7,832.8 L190.0,834.2 L190.3,835.1 L190.6,836.8 L191.0,838.8 L191.3,840.3 L191.6,841.3 L192.0,842.7 L192.3,844.3 L192.6,846.1 L192.9,846.6 L193.3,848.0 L193.6,850.1 L193.9,851.0 L194.3,852.7 L194.6,854.5 L194.9,856.1 L195.2,856.9 L195.6,859.2 L195.9,859.5 L196.2,862.0 L196.6,862.5 L196.9,864.1 L197.2,866.4 L197.5,867.4 L197.9,868.7 L198.2,870.3 L198.5,872.2 L198.9,873.4 L199.2,874.9 L199.5,876.9 L199.8,877.5 L200.2,879.1 L200.5,880.5 L200.8,882.8 L201.2,884.1 L201.5,885.7 L201.8,886.6 L202.2,888.0 L202.5,889.9 L202.8,890.8 L203.2,892.8 L203.5,894.3 L203.8,895.1 L204.2,896.8 L204.5,898.3 L204.9,900.6 L205.2,902.4 L205.5,902.7 L205.9,904.2 L206.2,904.6 L206.5,907.2 L206.9,908.5 L207.2,909.5 L207.6,911.8 L207.9,912.2 L208.2,914.3 L208.6,915.9 L208.9,916.7 L209.3,919.1 L209.6,920.7 L210.0,921.0 L210.3,922.5 L210.7,924.8 L211.0,926.0 L211.4,926.9 L211.7,928.8 L212.1,930.3 L212.4,931.8 L212.8,933.7 L213.2,934.9 L213.5,937.0 L213.9,938.3 L214.3,939.4 L214.6,941.0 L215.0,942.6 L215.4,943.8 L215.8,944.3 L216.2,946.7 L216.6,947.8 L217.0,950.0 L217.4,950.7 L217.8,952.3 L218.2,953.7 L218.6,955.7 L219.1,956.5 L219.5,957.7 L219.9,959.4 L220.4,960.5 L220.8,962.2 L221.3,963.6 L221.7,965.2 L222.2,967.3 L222.7,967.7 L223.2,969.3 L223.6,970.6 L224.1,972.5 L224.6,973.0 L225.2,974.7 L225.7,976.4 L226.2,978.1 L226.7,979.2 L227.3,980.4 L227.8,981.7 L228.4,983.7 L229.0,985.5 L229.6,986.4 L230.1,987.8 L230.7,989.3 L231.4,990.1 L232.0,991.8 L232.6,993.2 L233.3,994.8 L233.9,996.0 L234.6,996.9 L235.3,999.3 L236.0,1000.9 L236.7,1001.3 L237.5,1002.9 L238.3,1004.2 L239.0,1005.7 L239.9,1005.9 L240.7,1008.5 L241.6,1008.8 L242.5,1010.8 L243.4,1011.4 L244.3,1012.4 L245.3,1013.6 L246.3,1015.2 L247.4,1015.4 L248.4,1016.7 L249.5,1017.6 L250.7,1018.0 L251.8,1020.3 L253.0,1020.9 L254.2,1021.5 L255.4,1022.9 L256.7,1022.8 L257.9,1024.0 L259.2,1025.5 L260.5,1025.9 L261.8,1025.2 L263.2,1025.3 L264.5,1027.0 L265.9,1028.5 L267.3,1028.3 L268.7,1029.0 L270.1,1029.8 L271.5,1029.6 L273.0,1030.5 L274.4,1031.1 L275.9,1031.3 L277.3,1031.6 L278.8,1031.4 L280.3,1032.1 L281.8,1031.8 L283.3,1032.8 L284.7,1033.4 L286.2,1032.0 L287.7,1031.4 L289.2,1032.2 L290.7,1032.5 L292.2,1032.8 L293.7,1032.7 L295.3,1031.7 L296.8,1031.6 L298.3,1032.4 L299.8,1031.2 L301.3,1032.0 L302.8,1031.2 L304.3,1031.4 L305.8,1031.2 L307.3,1031.0 L308.9,1030.8 L310.4,1029.7 L311.9,1030.1 L313.4,1029.7 L314.9,1029.6 L316.4,1029.8 L317.9,1028.9 L319.4,1028.5 L320.9,1028.3 L322.4,1028.3 L323.9,1028.5 L325.4,1027.6 L326.9,1028.3 L328.4,1027.8 L329.9,1027.4 L331.4,1026.7 L332.8,1027.3 L334.3,1027.4 L335.8,1026.1 L337.3,1027.4 L338.8,1027.5 L340.3,1026.8 L341.8,1026.9 L343.3,1027.7 L344.7,1027.1 L346.2,1026.2 L347.7,1026.6 L349.2,1026.6 L350.7,1026.7 L352.2,1025.8 L353.7,1027.3 L355.2,1026.9 L356.6,1027.4 L358.1,1027.5 L359.6,1028.2 L361.1,1027.9 L362.6,1028.0 L364.1,1028.9 L365.6,1029.6 L367.1,1029.3 L368.5,1030.4 L370.0,1030.3 L371.5,1030.4 L372.9,1031.9 L374.4,1031.3 L375.8,1032.7 L377.2,1032.5 L378.6,1033.5 L380.0,1033.4 L381.4,1034.2 L382.8,1035.7 L384.1,1035.9 L385.5,1036.5 L386.8,1037.0 L388.1,1038.2 L389.4,1038.1 L390.7,1039.0 L391.9,1040.2 L393.2,1040.7 L394.4,1041.5 L395.6,1042.7 L396.8,1043.5 L398.0,1044.3 L399.2,1046.0 L400.3,1046.6 L401.5,1047.6 L402.6,1048.0 L403.8,1048.7 L404.9,1049.3 L406.0,1050.7 L407.1,1050.9 L408.2,1052.6 L409.2,1054.2 L410.3,1055.6 L411.3,1056.4 L412.4,1056.6 L413.4,1058.3 L414.5,1058.8 L415.5,1060.6 L416.5,1061.3 L417.5,1062.8 L418.5,1064.7 L419.5,1065.1 L420.5,1066.8 L421.4,1067.0 L422.4,1067.9 L423.4,1069.8 L424.3,1071.1 L425.3,1071.3 L426.2,1072.7 L427.2,1073.2 L428.1,1075.0 L429.0,1076.6 L430.0,1077.4 L430.9,1078.4 L431.8,1079.2 L432.7,1081.2 L433.7,1082.6 L434.6,1083.7 L435.5,1084.8 L436.4,1085.3 L437.3,1087.9 L438.2,1088.3 L439.1,1089.5 L440.1,1091.1 L441.0,1091.0 L441.9,1093.2 L442.8,1094.4 L443.7,1095.8 L444.6,1097.5 L445.5,1098.3 L446.4,1098.5 L447.4,1100.4 L448.3,1101.9 L449.2,1103.0 L450.1,1103.6 L451.1,1104.6 L452.0,1106.8 L452.9,1107.9 L453.9,1108.9 L454.8,1109.4 L455.8,1112.1 L456.7,1111.2 L457.7,1113.5 L458.7,1115.7 L459.6,1115.9 L460.6,1117.2 L461.6,1117.7 L462.6,1120.0 L463.6,1119.9 L464.6,1121.7 L465.6,1122.7 L466.7,1123.3 L467.7,1125.2 L468.7,1125.3 L469.8,1126.6 L470.9,1128.0 L471.9,1128.8 L473.0,1130.3 L474.1,1131.5 L475.2,1131.9 L476.3,1132.8 L477.4,1133.8 L478.6,1134.8 L479.7,1136.3 L480.9,1136.7 L482.0,1137.9 L483.2,1138.6 L484.4,1139.1 L485.6,1140.8 L486.8,1140.8 L488.0,1142.1 L489.3,1143.6 L490.5,1143.3 L491.7,1144.6 L493.0,1144.7 L494.3,1146.0 L495.5,1146.3 L496.8,1147.6 L498.1,1148.3 L499.4,1149.4 L500.7,1150.8 L502.0,1150.9 L503.3,1151.9 L504.6,1152.3 L505.9,1152.9 L507.2,1153.4 L508.5,1153.7 L509.9,1155.2 L511.2,1156.6 L512.5,1156.8 L513.9,1157.0 L515.2,1158.7 L516.6,1158.5 L517.9,1159.1 L519.3,1159.5 L520.6,1160.3 L522.0,1161.3 L523.3,1163.0 L524.7,1162.6 L526.0,1162.9 L527.4,1163.8 L528.8,1164.6 L530.1,1164.6 L531.5,1166.1 L532.8,1167.1 L534.2,1167.6 L535.5,1168.4 L536.9,1168.2 L538.2,1168.7 L539.6,1170.7 L541.0,1171.3 L542.3,1170.7 L543.7,1172.2 L545.0,1172.8 L546.4,1173.7 L547.7,1174.2 L549.1,1174.5 L550.4,1175.5 L551.8,1176.1 L553.1,1176.6 L554.5,1176.4 L555.9,1176.6 L557.2,1178.2 L558.6,1178.4 L559.9,1179.8 L561.3,1180.7 L562.7,1181.0 L564.1,1181.3 L565.4,1182.1 L566.8,1183.2 L568.2,1182.9 L569.6,1184.1 L571.0,1184.6 L572.4,1184.9 L573.8,1185.9 L575.2,1185.5 L576.6,1186.7 L578.0,1186.3 L579.4,1186.9 L580.8,1187.2 L582.3,1188.3 L583.7,1188.1 L585.1,1189.0 L586.5,1188.9 L588.0,1190.3 L589.4,1191.1 L590.9,1190.7 L592.3,1191.8 L593.7,1191.7 L595.2,1192.8 L596.6,1192.2 L598.1,1191.8 L599.6,1193.5 L601.0,1193.1 L602.5,1193.1 L603.9,1193.6 L605.4,1193.5 L606.9,1194.4 L608.3,1194.3 L609.8,1195.8 L611.3,1195.7 L612.8,1195.0 L614.2,1195.3 L615.7,1196.0 L617.2,1195.7 L618.7,1196.8 L620.1,1197.1 L621.6,1197.1 L623.1,1197.4 L624.6,1198.2 L626.1,1198.8 L627.6,1199.1 L629.1,1198.7 L630.6,1199.3 L632.0,1198.9 L633.5,1199.6 L635.0,1199.2 L636.5,1200.2 L638.0,1199.6 L639.5,1200.0 L641.0,1200.6 L642.5,1201.1 L644.0,1200.4 L645.5,1201.1 L647.0,1201.6 L648.5,1201.9 L650.0,1201.6 L651.4,1202.3 L652.9,1202.3 L654.4,1203.3 L655.9,1203.2 L657.4,1202.6 L658.9,1202.4 L660.4,1203.7 L661.9,1204.4 L663.4,1204.2 L664.9,1204.7 L666.3,1204.3 L667.8,1204.2 L669.3,1205.4 L670.8,1205.3 L672.3,1205.8 L673.8,1205.1 L675.2,1206.1 L676.7,1206.0 L678.2,1206.9 L679.7,1206.5 L681.2,1206.7 L682.6,1207.0 L684.1,1208.1 L685.6,1207.8 L687.1,1207.6 L688.6,1207.8 L690.0,1208.0 L691.5,1209.4 L693.0,1208.2 L694.5,1208.8 L695.9,1209.7 L697.4,1210.2 L698.9,1209.9 L700.4,1210.5 L701.8,1210.8 L703.3,1211.1 L704.8,1210.9 L706.3,1211.9 L707.7,1211.4 L709.2,1212.3 L710.7,1211.3 L712.2,1212.4 L713.7,1211.7 L715.1,1211.8 L716.6,1212.9 L718.1,1212.5 L719.6,1213.3 L721.1,1212.8 L722.5,1214.2 L724.0,1213.7 L725.5,1213.4 L727.0,1214.2 L728.5,1214.7 L729.9,1214.1 L731.4,1214.9 L732.9,1215.7 L734.4,1215.4 L735.9,1215.1 L737.4,1215.1 L738.9,1215.7 L740.4,1214.9 L741.8,1214.4 L743.3,1215.6 L744.8,1215.5 L746.3,1216.9 L747.8,1216.4 L749.3,1216.0 L750.8,1216.0 L752.3,1216.8 L753.8,1216.4 L755.3,1216.6 L756.8,1216.9 L758.3,1217.0 L759.8,1217.1 L761.3,1217.2 L762.8,1217.8 L764.3,1218.0 L765.9,1216.6 L767.4,1218.6 L768.9,1217.5 L770.4,1218.1 L771.9,1217.3 L773.4,1217.8 L774.9,1217.8 L776.4,1217.9 L777.9,1218.3 L779.4,1218.3 L780.9,1217.7 L782.4,1218.2 L783.9,1218.7 L785.4,1218.8 L786.9,1218.5 L788.4,1218.7 L789.9,1218.9 L791.4,1218.6 L792.9,1218.7 L794.4,1220.2 L795.9,1219.6 L797.3,1220.1 L798.8,1220.0 L800.3,1221.2 L801.8,1221.7 L803.2,1221.1 L804.7,1221.8 L806.1,1221.6 L807.6,1223.1 L809.1,1223.1 L810.5,1222.7 L812.0,1224.0 L813.4,1224.0 L814.9,1224.5 L816.3,1224.9 L817.8,1224.8 L819.2,1225.3 L820.7,1226.2 L822.1,1226.3 L823.6,1226.3 L825.0,1228.1 L826.5,1227.5 L827.9,1227.7 L829.4,1228.0 L830.8,1229.0 L832.3,1229.5 L833.8,1229.5 L835.2,1230.2 L836.7,1229.5 L838.1,1230.3 L839.6,1230.6 L841.1,1231.2 L842.5,1231.7 L844.0,1230.9 L845.5,1233.5 L846.9,1232.1 L848.4,1232.9 L849.9,1233.5 L851.3,1233.8 L852.8,1233.8 L854.3,1232.7 L855.7,1233.8 L857.2,1234.9 L858.7,1234.4 L860.2,1234.7 L861.6,1234.3 L863.1,1236.2 L864.6,1236.2 L866.1,1235.8 L867.5,1236.4 L869.0,1236.7 L870.5,1236.5 L872.0,1237.1 L873.5,1237.6 L874.9,1238.0 L876.4,1238.5 L877.9,1238.2 L879.4,1238.2 L880.9,1238.8 L882.3,1238.6 L883.8,1238.5 L885.3,1239.8 L886.8,1239.4 L888.3,1239.8 L889.8,1240.3 L891.3,1239.7 L892.7,1240.7 L894.2,1240.8 L895.7,1240.8 L897.2,1241.2 L898.7,1240.9 L900.2,1240.4 L901.7,1241.5 L903.2,1241.4 L904.6,1242.4 L906.1,1242.3 L907.6,1242.1 L909.1,1242.6 L910.6,1243.3 L912.1,1243.4 L913.6,1243.2 L915.1,1243.4 L916.6,1243.3 L918.1,1243.5 L919.6,1244.0 L921.0,1243.9 L922.5,1244.3 L924.0,1243.8 L925.5,1243.7 L927.0,1243.9 L928.5,1244.6 L930.0,1245.6 L931.5,1245.7 L933.0,1244.8 L934.5,1244.8 L936.0,1246.0 L937.5,1246.0 L939.0,1245.3 L940.5,1246.6 L942.0,1246.3 L943.5,1247.0 L944.9,1246.7 L946.4,1247.1 L947.9,1247.1 L949.4,1246.6 L950.9,1247.1 L952.4,1247.1 L953.9,1247.9 L955.4,1247.3 L956.9,1247.2 L958.4,1248.3 L959.9,1248.7 L961.4,1249.0 L962.9,1249.0 L964.4,1248.0 L965.9,1248.5 L967.4,1248.7 L968.9,1249.1 L970.3,1248.3 L971.8,1249.5 L973.3,1249.7 L974.8,1249.3 L976.3,1250.0 L977.8,1250.6 L979.3,1250.3 L980.8,1250.9 L982.3,1251.0 L983.8,1250.9 L985.3,1251.0 L986.8,1250.9 L988.3,1251.7 L989.8,1251.1 L991.3,1251.2 L992.8,1252.0 L994.3,1251.5 L995.7,1252.2 L997.2,1252.6 L998.7,1252.3 L1000.2,1252.5 L1001.7,1253.0 L1003.2,1253.1 L1004.7,1252.2 L1006.2,1252.5 L1007.7,1253.8 L1009.2,1253.5 L1010.7,1252.6 L1012.2,1253.1 L1013.7,1253.8 L1015.2,1253.5 L1016.7,1254.3 L1018.2,1254.3 L1019.6,1254.6 L1021.1,1254.1 L1022.6,1255.0 L1024.1,1255.8 L1025.6,1254.7 L1027.1,1255.8 L1028.6,1255.8 L1030.1,1255.8 L1031.6,1255.6 L1033.1,1255.3 L1034.6,1255.5 L1036.1,1256.4 L1037.6,1256.7 L1039.1,1256.9 L1040.6,1257.0 L1042.1,1257.1 L1043.6,1256.6 L1045.0,1256.4 L1046.5,1257.2 L1048.0,1257.5 L1049.5,1257.5 L1051.0,1256.9 L1052.5,1257.5 L1054.0,1257.2 L1055.5,1258.1 L1057.0,1257.7 L1058.5,1258.2 L1060.0,1258.6 L1061.5,1258.7 L1063.0,1259.4 L1064.5,1258.4 L1066.0,1258.1 L1067.5,1259.6 L1069.0,1260.0 L1070.5,1260.1 L1071.9,1259.8 L1073.4,1260.0 L1074.9,1260.0 L1076.4,1259.5 L1077.9,1260.0 L1079.4,1260.6 L1080.9,1260.2 L1082.4,1261.5 L1083.9,1260.1 L1085.4,1260.7 L1086.9,1261.6 L1088.4,1260.9 L1089.9,1260.8 L1091.4,1260.9 L1092.9,1261.3 L1094.4,1262.5 L1095.9,1262.1 L1097.4,1262.3 L1098.8,1262.0 L1100.3,1262.7 L1101.8,1262.5 L1103.3,1262.2 L1104.8,1262.6 L1106.3,1263.0 L1107.8,1263.6 L1109.3,1263.1 L1110.8,1263.5 L1112.3,1264.4 L1113.8,1263.2 L1115.3,1263.2 L1116.8,1264.3 L1118.3,1264.2 L1119.8,1264.1 L1121.3,1264.4 L1122.8,1264.3 L1124.3,1264.8 L1125.8,1264.5 L1127.3,1265.2 L1128.8,1264.4 L1130.2,1264.7 L1131.7,1265.3 L1133.2,1265.1 L1134.7,1265.8 L1136.2,1265.6 L1137.7,1265.5 L1139.2,1266.0 L1140.7,1265.8 L1142.2,1265.4 L1143.7,1265.8 L1145.2,1266.0 L1146.7,1266.3 L1148.2,1266.7 L1149.7,1267.2 L1151.2,1267.2 L1152.7,1267.9 L1154.2,1267.8 L1155.7,1267.2 L1157.2,1268.2 L1158.7,1268.1 L1160.2,1267.5 L1161.7,1268.0 L1163.2,1268.5 L1164.7,1268.2 L1166.1,1268.7 L1167.6,1268.5 L1169.1,1268.8 L1170.6,1268.4 L1172.1,1268.9 L1173.6,1268.7 L1175.1,1269.3 L1176.6,1268.3 L1178.1,1269.4 L1179.6,1269.9 L1181.1,1269.7 L1182.6,1269.6 L1184.1,1270.0 L1185.6,1269.5 L1187.1,1269.6 L1188.6,1269.9 L1190.1,1270.1 L1191.6,1270.8 L1193.1,1270.1 L1194.6,1271.0 L1196.1,1270.0 L1197.6,1270.5 L1199.1,1270.9 L1200.6,1271.6 L1202.1,1270.9 L1203.6,1270.3 L1205.1,1271.6 L1206.6,1271.5 L1208.1,1271.2 L1209.6,1271.3 L1211.0,1271.6 L1212.5,1272.1 L1214.0,1272.5 L1215.5,1271.6 L1217.0,1273.4 L1218.5,1272.5 L1220.0,1272.5 L1221.5,1273.1 L1223.0,1272.9 L1224.5,1274.1 L1226.0,1273.6 L1227.5,1273.1 L1229.0,1273.2 L1230.5,1273.3 L1232.0,1273.5 L1233.5,1274.0 L1235.0,1273.6 L1236.5,1274.7 L1238.0,1274.0 L1239.5,1274.1 L1241.0,1274.7 L1242.5,1273.6 L1244.0,1274.1 L1245.5,1275.0 L1247.0,1274.8 L1248.5,1274.9 L1250.0,1275.2 L1251.5,1274.9 L1253.0,1275.2 L1254.5,1274.8 L1256.0,1274.7 L1257.5,1276.2 L1259.0,1275.3 L1260.5,1275.6 L1262.0,1276.6 L1263.4,1276.6 L1264.9,1276.0 L1266.4,1276.1 L1267.9,1276.4 L1269.4,1276.2 L1270.9,1277.0 L1272.4,1276.9 L1273.9,1277.0 L1275.4,1277.4 L1276.9,1277.5 L1278.4,1278.1 L1279.9,1278.1 L1281.4,1276.8 L1282.9,1278.1 L1284.4,1277.3 L1285.9,1277.3 L1287.4,1278.4 L1288.9,1277.9 L1290.4,1278.1 L1291.9,1278.9 L1293.4,1278.2 L1294.9,1278.3 L1296.4,1278.9 L1297.9,1279.4 L1299.4,1279.3 L1300.9,1278.4 L1302.4,1279.0 L1303.9,1279.3 L1305.4,1280.4 L1306.9,1280.0 L1308.4,1280.1 L1309.9,1280.4 L1311.4,1279.9 L1312.8,1280.3 L1314.3,1280.5 L1315.8,1279.9 L1317.3,1280.5 L1318.8,1280.9 L1320.3,1280.3 L1321.8,1281.2 L1323.3,1281.3 L1324.8,1281.6 L1326.3,1280.9 L1327.8,1281.4 L1329.3,1282.2 L1330.8,1282.0 L1332.3,1281.4 L1333.8,1282.0 L1335.3,1282.7 L1336.8,1282.1 L1338.3,1282.5 L1339.8,1283.6 L1341.3,1282.5 L1342.8,1282.6 L1344.3,1282.3 L1345.8,1282.6 L1347.3,1283.7 L1348.8,1283.1 L1350.3,1282.8 L1351.8,1283.0 L1353.3,1283.6 L1354.7,1284.1 L1356.2,1283.5 L1357.7,1284.3 L1359.2,1283.9 L1360.7,1284.4 L1362.2,1284.6 L1363.7,1284.8 L1365.2,1284.4 L1366.7,1284.7 L1368.2,1285.1 L1369.7,1284.5 L1371.2,1285.3 L1372.7,1285.6 L1374.2,1285.9 L1375.7,1285.6 L1377.2,1285.6 L1378.7,1285.9 L1380.2,1285.7 L1381.7,1286.0 L1383.2,1286.5 L1384.7,1286.5 L1386.2,1286.1 L1387.6,1286.6 L1389.1,1285.9 L1390.6,1287.3 L1392.1,1286.9 L1393.6,1287.4 L1395.1,1286.9 L1396.6,1287.5 L1398.1,1287.9 L1399.6,1288.3 L1401.1,1287.4 L1402.6,1288.5 L1404.1,1288.2 L1405.6,1288.1 L1407.1,1288.8 L1408.6,1288.6 L1410.1,1288.7 L1411.6,1288.7 L1413.1,1289.2 L1414.6,1289.3 L1416.0,1289.3 L1417.5,1289.1 L1419.0,1289.5 L1420.5,1290.0 L1422.0,1290.6 L1423.5,1290.1 L1425.0,1290.9 L1426.5,1290.4 L1428.0,1290.1 L1429.5,1291.0 L1431.0,1290.4 L1432.5,1291.1 L1434.0,1291.6 L1435.5,1291.1 L1437.0,1291.3 L1438.5,1292.6 L1440.0,1291.7 L1441.5,1291.9 L1443.0,1292.3 L1444.5,1292.0 L1446.0,1292.1 L1447.4,1292.5 L1448.9,1291.3 L1450.4,1293.2 L1451.9,1292.2 L1453.4,1292.3 L1454.9,1293.2 L1456.4,1293.1 L1457.9,1292.6 L1459.4,1293.4 L1460.9,1292.9 L1462.4,1293.2 L1463.9,1293.0 L1465.4,1293.4 L1466.9,1294.0 L1468.4,1294.0 L1469.9,1294.2 L1471.4,1294.6 L1472.9,1294.3 L1474.4,1294.1 L1475.9,1294.4 L1477.4,1295.3 L1478.9,1294.7 L1480.4,1294.9 L1481.9,1294.8 L1483.4,1295.1 L1484.9,1295.3 L1486.4,1295.2 L1487.9,1295.2 L1489.4,1295.0 L1490.9,1295.1 L1492.4,1295.7 L1493.9,1296.0 L1495.4,1296.1 L1496.9,1295.8 L1498.4,1295.5 L1499.9,1296.3 L1501.4,1296.4 L1502.9,1295.5 L1504.4,1296.7 L1505.9,1296.7 L1507.4,1297.2 L1508.9,1296.1 L1510.4,1296.1 L1511.9,1297.1 L1513.3,1296.1 L1514.8,1296.7 L1516.3,1296.6 L1517.8,1296.7 L1519.3,1296.4 L1520.8,1297.3 L1522.3,1298.0 L1523.8,1297.8 L1525.3,1297.9 L1526.8,1297.7 L1528.3,1298.6 L1529.8,1298.3 L1531.3,1298.7 L1532.8,1297.7 L1534.3,1298.6 L1535.8,1298.1 L1537.3,1298.9 L1538.8,1299.0 L1540.3,1298.5 L1541.8,1299.3 L1543.3,1299.9 L1544.8,1299.7 L1546.3,1299.9 L1547.8,1299.4 L1549.2,1299.7 L1550.7,1299.6 L1552.2,1300.4 L1553.7,1301.0 L1555.2,1300.8 L1556.7,1300.8 L1558.2,1300.5 L1559.7,1301.4 L1561.2,1301.2 L1562.7,1300.7 L1564.2,1300.9 L1565.7,1301.8 L1567.1,1301.7 L1568.6,1303.0 L1570.1,1302.5 L1571.6,1302.2 L1573.1,1302.6 L1574.6,1303.8 L1576.1,1302.8 L1577.6,1303.8 L1579.1,1303.8 L1580.6,1304.5 L1582.0,1304.3 L1583.5,1304.0 L1585.0,1304.6 L1586.5,1304.6 L1588.0,1305.2 L1589.5,1305.0 L1591.0,1306.1 L1592.5,1305.3 L1594.0,1305.8 L1595.5,1305.5 L1596.9,1306.0 L1598.4,1306.2 L1599.9,1306.4 L1601.4,1306.9 L1602.9,1306.5 L1604.4,1306.5 L1605.9,1307.6 L1607.4,1307.2 L1608.9,1307.2 L1610.4,1308.2 L1611.9,1308.2 L1613.3,1306.8 L1614.8,1308.0 L1616.3,1308.7 L1617.8,1308.9 L1619.3,1308.5 L1620.8,1309.6 L1622.3,1308.7 L1623.8,1309.1 L1625.3,1309.4 L1626.8,1309.5 L1628.3,1310.0 L1629.8,1310.3 L1631.3,1309.9 L1632.7,1310.7 L1634.2,1309.9 L1635.7,1310.3 L1637.2,1311.3 L1638.7,1310.7 L1640.2,1311.2 L1641.7,1310.7 L1643.2,1310.9 L1644.7,1311.0 L1646.2,1311.3 L1647.7,1311.2 L1649.2,1311.4 L1650.7,1311.8 L1652.2,1312.1 L1653.7,1311.7 L1655.2,1312.0 L1656.7,1312.2 L1658.2,1311.4 L1659.7,1311.3 L1661.2,1312.8 L1662.7,1312.7 L1664.2,1312.2 L1665.7,1312.4 L1667.2,1311.9 L1668.7,1311.7 L1670.2,1312.5 L1671.7,1311.8 L1673.2,1312.9 L1674.7,1312.2 L1676.2,1312.7 L1677.7,1313.5 L1679.2,1313.5 L1680.7,1312.6 L1682.2,1313.2 L1683.7,1312.3 L1685.2,1312.6 L1686.7,1313.0 L1688.2,1313.5 L1689.7,1312.7 L1691.2,1313.2 L1692.7,1313.1 L1694.2,1312.5 L1695.7,1313.0 L1697.2,1313.8 L1698.7,1313.1 L1700.2,1313.4 L1701.7,1313.6 L1703.2,1313.0 L1704.7,1313.9 L1706.2,1314.0 L1707.7,1314.1 L1709.2,1314.0 L1710.7,1313.3 L1712.2,1313.3 L1713.8,1313.2 L1715.3,1313.2 L1716.8,1313.3 L1718.3,1314.2 L1719.8,1314.5 L1721.3,1313.6 L1722.8,1314.3 L1724.3,1313.4 L1725.8,1313.9 L1727.3,1313.7 L1728.8,1313.5 L1730.3,1314.3 L1731.8,1314.4 L1733.3,1314.3 L1734.8,1314.3 L1736.3,1314.2 L1737.8,1314.7 L1739.3,1314.6 L1740.7,1315.0 L1742.2,1314.5 L1743.7,1315.2 L1745.2,1315.5 L1746.7,1315.9 L1748.2,1316.0 L1749.7,1315.7 L1751.2,1315.4 L1752.7,1315.0 L1754.2,1316.0 L1755.7,1316.7 L1757.2,1316.9 L1758.7,1315.2 L1760.2,1316.1 L1761.7,1316.4 L1763.2,1316.3 L1764.7,1316.9 L1766.2,1317.0 L1767.7,1316.9 L1769.2,1317.3 L1770.7,1316.7 L1772.2,1317.1 L1773.7,1317.3 L1775.2,1318.2 L1776.7,1317.2 L1778.2,1318.0 L1779.7,1318.6 L1781.1,1318.4 L1782.6,1318.9 L1784.1,1318.4 L1785.6,1319.0 L1787.1,1319.4 L1788.6,1320.1 L1790.1,1319.6 L1791.6,1320.1 L1793.1,1319.6 L1794.6,1319.8 L1796.1,1320.6 L1797.6,1320.3 L1799.1,1320.8 L1800.6,1320.6 L1802.1,1321.4 L1803.6,1321.7 L1805.1,1320.4 L1806.6,1321.7 L1808.1,1321.2 L1809.6,1321.4 L1811.1,1321.2 L1812.6,1321.7 L1814.0,1321.1 L1815.5,1321.4 L1817.0,1321.5 L1818.5,1322.1 L1820.0,1322.5 L1821.5,1322.5 L1823.0,1322.5 L1824.5,1322.2 L1826.0,1321.8 L1827.5,1322.9 L1829.0,1322.9 L1830.5,1323.1 L1832.0,1323.7 L1833.5,1323.1 L1835.0,1323.2 L1836.5,1322.3 L1838.0,1323.7 L1839.5,1323.6 L1841.0,1323.4 L1842.5,1324.0 L1844.0,1323.4 L1845.5,1323.7 L1847.0,1324.9 L1848.5,1324.5 L1850.0,1324.6 L1851.5,1324.6 L1853.0,1324.6 L1854.5,1324.5 L1856.0,1325.5 L1857.5,1324.5 L1859.0,1324.9 L1860.5,1324.6 L1862.0,1324.6" stroke="#008000" stroke-width="9.2" style="stroke-linejoin:round"/>
<path class="c" d="M43.3,166.5 L46.3,124.0 L49.2,121.8 L52.2,135.7 L55.2,163.0 L58.2,190.0 L61.1,212.0 L64.1,233.5 L67.1,248.5 L70.0,258.5 L73.1,268.0 L76.0,264.0 L79.0,260.0 L82.0,257.0 L84.9,255.8 L87.9,258.3 L90.9,263.5 L93.8,271.0 L96.8,281.0 L96.8,282.6 L97.1,284.1 L97.4,285.6 L97.7,287.0 L98.0,288.5 L98.3,290.0 L98.6,291.4 L98.9,292.9 L99.2,294.4 L99.5,295.8 L99.7,297.3 L100.0,298.8 L100.3,300.2 L100.6,301.7 L100.8,303.2 L101.1,304.6 L101.4,306.1 L101.7,307.6 L101.9,309.1 L102.2,310.5 L102.5,312.0 L102.7,313.5 L103.0,314.9 L103.2,316.4 L103.5,317.9 L103.7,319.4 L104.0,320.8 L104.3,322.3 L104.5,323.8 L104.8,325.3 L105.0,326.7 L105.2,328.2 L105.5,329.7 L105.7,331.2 L106.0,332.7 L106.2,334.1 L106.4,335.6 L106.7,337.1 L106.9,338.6 L107.1,340.0 L107.4,341.5 L107.6,343.0 L107.8,344.5 L108.1,346.0 L108.3,347.4 L108.5,348.9 L108.7,350.4 L109.0,351.9 L109.2,353.4 L109.4,354.9 L109.6,356.3 L109.8,357.8 L110.1,359.3 L110.3,360.8 L110.5,362.3 L110.7,363.8 L110.9,365.2 L111.1,366.7 L111.3,368.2 L111.5,369.7 L111.7,371.2 L111.9,372.7 L112.1,374.2 L112.3,375.7 L112.5,377.1 L112.7,378.6 L112.9,380.1 L113.1,381.6 L113.3,383.1 L113.5,384.6 L113.7,386.1 L113.9,387.6 L114.1,389.0 L114.3,390.5 L114.5,392.0 L114.7,393.5 L114.9,395.0 L115.1,396.5 L115.3,398.0 L115.5,399.5 L115.7,401.0 L115.8,402.5 L116.0,403.9 L116.2,405.4 L116.4,406.9 L116.6,408.4 L116.8,409.9 L116.9,411.4 L117.1,412.9 L117.3,414.4 L117.5,415.9 L117.7,417.4 L117.9,418.9 L118.0,420.4 L118.2,421.8 L118.4,423.3 L118.6,424.8 L118.8,426.3 L118.9,427.8 L119.1,429.3 L119.3,430.8 L119.5,432.3 L119.6,433.8 L119.8,435.3 L120.0,436.8 L120.2,438.3 L120.3,439.8 L120.5,441.3 L120.7,442.8 L120.9,444.3 L121.0,445.7 L121.2,447.2 L121.4,448.7 L121.6,450.2 L121.7,451.7 L121.9,453.2 L122.1,454.7 L122.2,456.2 L122.4,457.7 L122.6,459.2 L122.8,460.7 L122.9,462.2 L123.1,463.7 L123.3,465.2 L123.4,466.7 L123.6,468.2 L123.8,469.7 L124.0,471.2 L124.1,472.6 L124.3,474.1 L124.5,475.6 L124.7,477.1 L124.8,478.6 L125.0,480.1 L125.2,481.6 L125.4,483.1 L125.5,484.6 L125.7,486.1 L125.9,487.6 L126.0,489.1 L126.2,490.6 L126.4,492.1 L126.6,493.6 L126.8,495.1 L126.9,496.6 L127.1,498.1 L127.3,499.5 L127.5,501.0 L127.6,502.5 L127.8,504.0 L128.0,505.5 L128.2,507.0 L128.4,508.5 L128.5,510.0 L128.7,511.5 L128.9,513.0 L129.1,514.5 L129.3,516.0 L129.4,517.5 L129.6,519.0 L129.8,520.4 L130.0,521.9 L130.2,523.4 L130.4,524.9 L130.6,526.4 L130.8,527.9 L130.9,529.4 L131.1,530.9 L131.3,532.4 L131.5,533.9 L131.7,535.4 L131.9,536.8 L132.1,538.3 L132.3,539.8 L132.5,541.3 L132.7,542.8 L132.9,544.3 L133.1,545.8 L133.3,547.3 L133.5,548.8 L133.7,550.3 L133.9,551.7 L134.1,553.2 L134.3,554.7 L134.5,556.2 L134.7,557.7 L134.9,559.2 L135.1,560.7 L135.3,562.2 L135.5,563.6 L135.8,565.1 L136.0,566.6 L136.2,568.1 L136.4,569.6 L136.6,571.1 L136.8,572.6 L137.1,574.0 L137.3,575.5 L137.5,577.0 L137.7,578.5 L138.0,580.0 L138.2,581.5 L138.4,582.9 L138.6,584.4 L138.9,585.9 L139.1,587.4 L139.3,588.9 L139.6,590.3 L139.8,591.8 L140.0,593.3 L140.3,594.8 L140.5,596.3 L140.8,597.7 L141.0,599.2 L141.3,600.7 L141.5,602.2 L141.8,603.7 L142.0,605.1 L142.3,606.6 L142.5,608.1 L142.8,609.6 L143.0,611.0 L143.3,612.5 L143.5,614.0 L143.8,615.5 L144.1,616.9 L144.3,618.4 L144.6,619.9 L144.9,621.4 L145.2,622.8 L145.4,624.3 L145.7,625.8 L146.0,627.2 L146.3,628.7 L146.5,630.2 L146.8,631.7 L147.1,633.1 L147.4,634.6 L147.7,636.1 L148.0,637.5 L148.3,639.0 L148.6,640.5 L148.9,641.9 L149.2,643.4 L149.5,644.9 L149.8,646.3 L150.1,647.8 L150.4,649.3 L150.7,650.7 L151.0,652.2 L151.3,653.7 L151.6,655.1 L152.0,656.6 L152.3,658.0 L152.6,659.5 L152.9,661.0 L153.3,662.4 L153.6,663.9 L153.9,665.3 L154.3,666.8 L154.6,668.3 L154.9,669.7 L155.3,671.2 L155.6,672.6 L156.0,674.1 L156.3,675.5 L156.7,677.0 L157.0,678.4 L157.4,679.9 L157.8,681.3 L158.1,682.8 L158.5,684.2 L158.9,685.7 L159.2,687.1 L159.6,688.6 L160.0,690.0 L160.4,691.5 L160.7,692.9 L161.1,694.4 L161.5,695.8 L161.9,697.3 L162.3,698.7 L162.7,700.2 L163.1,701.6 L163.5,703.1 L163.9,704.5 L164.3,705.9 L164.7,707.4 L165.1,708.8 L165.5,710.3 L166.0,711.7 L166.4,713.1 L166.8,714.6 L167.2,716.0 L167.7,717.5 L168.1,718.9 L168.5,720.3 L169.0,721.8 L169.4,723.2 L169.9,724.6 L170.3,726.1 L170.8,727.5 L171.2,728.9 L171.7,730.3 L172.1,731.8 L172.6,733.2 L173.1,734.6 L173.5,736.1 L174.0,737.5 L174.5,738.9 L174.9,740.3 L175.4,741.8 L175.9,743.2 L176.4,744.6 L176.9,746.0 L177.3,747.5 L177.8,748.9 L178.3,750.3 L178.8,751.7 L179.3,753.1 L179.8,754.6 L180.3,756.0 L180.8,757.4 L181.3,758.8 L181.8,760.2 L182.3,761.7 L182.9,763.1 L183.4,764.5 L183.9,765.9 L184.4,767.3 L184.9,768.7 L185.4,770.1 L186.0,771.6 L186.5,773.0 L187.0,774.4 L187.5,775.8 L188.1,777.2 L188.6,778.6 L189.1,780.0 L189.7,781.4 L190.2,782.8 L190.8,784.2 L191.3,785.7 L191.8,787.1 L192.4,788.5 L192.9,789.9 L193.5,791.3 L194.0,792.7 L194.6,794.1 L195.1,795.5 L195.7,796.9 L196.2,798.3 L196.8,799.7 L197.4,801.1 L197.9,802.5 L198.5,803.9 L199.0,805.3 L199.6,806.7 L200.2,808.1 L200.7,809.5 L201.3,810.9 L201.9,812.3 L202.4,813.7 L203.0,815.1 L203.6,816.5 L204.1,817.9 L204.7,819.3 L205.3,820.7 L205.9,822.1 L206.4,823.5 L207.0,824.9 L207.6,826.3 L208.2,827.6 L208.8,829.0 L209.3,830.4 L209.9,831.8 L210.5,833.2 L211.1,834.6 L211.7,836.0 L212.2,837.4 L212.8,838.8 L213.4,840.2 L214.0,841.6 L214.6,842.9 L215.2,844.3 L215.8,845.7 L216.4,847.1 L217.0,848.5 L217.6,849.8 L218.2,851.2 L218.8,852.6 L219.5,853.9 L220.2,855.2 L220.8,856.5 L221.6,857.8 L222.3,859.1 L223.0,860.4 L223.8,861.7 L224.6,862.9 L225.5,864.1 L226.4,865.3 L227.3,866.4 L228.2,867.6 L229.2,868.7 L230.3,869.8 L231.3,870.8 L232.4,871.9 L233.6,872.8 L234.8,873.7 L236.0,874.3 L237.2,874.8 L238.4,875.1 L239.5,875.0 L240.7,874.8 L241.8,874.3 L242.9,873.6 L244.0,872.7 L245.1,871.8 L246.2,870.7 L247.2,869.5 L248.2,868.2 L249.3,867.0 L250.3,865.7 L251.3,864.4 L252.3,863.1 L253.2,861.8 L254.2,860.5 L255.2,859.3 L256.1,858.0 L257.0,856.7 L257.9,855.4 L258.8,854.1 L259.7,852.8 L260.6,851.6 L261.5,850.3 L262.4,849.0 L263.2,847.7 L264.1,846.4 L264.9,845.1 L265.7,843.9 L266.6,842.6 L267.4,841.3 L268.2,840.0 L269.0,838.7 L269.7,837.4 L270.5,836.1 L271.3,834.9 L272.0,833.6 L272.8,832.3 L273.5,831.0 L274.3,829.7 L275.0,828.4 L275.7,827.1 L276.4,825.8 L277.1,824.5 L277.8,823.2 L278.5,821.9 L279.2,820.6 L279.9,819.3 L280.6,817.9 L281.2,816.6 L281.9,815.3 L282.6,814.0 L283.2,812.7 L283.9,811.3 L284.5,810.0 L285.2,808.7 L285.8,807.3 L286.4,806.0 L287.1,804.7 L287.7,803.3 L288.3,802.0 L288.9,800.6 L289.5,799.3 L290.1,797.9 L290.7,796.6 L291.3,795.2 L291.9,793.8 L292.5,792.5 L293.1,791.1 L293.7,789.7 L294.2,788.4 L294.8,787.0 L295.4,785.6 L295.9,784.2 L296.5,782.9 L297.0,781.5 L297.6,780.1 L298.1,778.7 L298.7,777.3 L299.2,775.9 L299.7,774.5 L300.3,773.1 L300.8,771.7 L301.3,770.3 L301.8,768.9 L302.3,767.5 L302.8,766.1 L303.3,764.7 L303.8,763.3 L304.3,761.9 L304.8,760.4 L305.3,759.0 L305.8,757.6 L306.2,756.2 L306.7,754.8 L307.2,753.3 L307.6,751.9 L308.1,750.5 L308.6,749.0 L309.0,747.6 L309.5,746.2 L309.9,744.7 L310.3,743.3 L310.8,741.9 L311.2,740.4 L311.6,739.0 L312.0,737.5 L312.5,736.1 L312.9,734.7 L313.3,733.2 L313.7,731.8 L314.1,730.3 L314.5,728.9 L314.9,727.4 L315.3,725.9 L315.7,724.5 L316.1,723.0 L316.4,721.6 L316.8,720.1 L317.2,718.7 L317.5,717.2 L317.9,715.7 L318.3,714.3 L318.6,712.8 L319.0,711.3 L319.3,709.9 L319.7,708.4 L320.0,706.9 L320.4,705.5 L320.7,704.0 L321.0,702.5 L321.3,701.1 L321.7,699.6 L322.0,698.1 L322.3,696.6 L322.6,695.2 L322.9,693.7 L323.2,692.2 L323.5,690.7 L323.8,689.3 L324.1,687.8 L324.4,686.3 L324.7,684.8 L325.0,683.4 L325.2,681.9 L325.5,680.4 L325.8,678.9 L326.1,677.4 L326.3,676.0 L326.6,674.5 L326.9,673.0 L327.1,671.5 L327.4,670.0 L327.6,668.6 L327.9,667.1 L328.1,665.6 L328.4,664.1 L328.6,662.6 L328.9,661.1 L329.1,659.6 L329.3,658.2 L329.6,656.7 L329.8,655.2 L330.0,653.7 L330.3,652.2 L330.5,650.7 L330.7,649.2 L331.0,647.8 L331.2,646.3 L331.4,644.8 L331.6,643.3 L331.8,641.8 L332.1,640.3 L332.3,638.8 L332.5,637.4 L332.7,635.9 L332.9,634.4 L333.1,632.9 L333.3,631.4 L333.5,629.9 L333.8,628.4 L334.0,626.9 L334.2,625.5 L334.4,624.0 L334.6,622.5 L334.8,621.0 L335.0,619.5 L335.2,618.0 L335.4,616.5 L335.6,615.0 L335.8,613.6 L336.0,612.1 L336.2,610.6 L336.4,609.1 L336.6,607.6 L336.8,606.1 L337.1,604.6 L337.3,603.1 L337.5,601.7 L337.7,600.2 L337.9,598.7 L338.1,597.2 L338.3,595.7 L338.5,594.2 L338.7,592.8 L338.9,591.3 L339.1,589.8 L339.4,588.3 L339.6,586.8 L339.8,585.3 L340.0,583.9 L340.2,582.4 L340.4,580.9 L340.7,579.4 L340.9,577.9 L341.1,576.5 L341.3,575.0 L341.6,573.5 L341.8,572.0 L342.0,570.5 L342.3,569.1 L342.5,567.6 L342.7,566.1 L343.0,564.6 L343.2,563.2 L343.5,561.7 L343.7,560.2 L344.0,558.7 L344.2,557.3 L344.5,555.8 L344.7,554.3 L345.0,552.9 L345.2,551.4 L345.5,549.9 L345.8,548.5 L346.1,547.0 L346.3,545.5 L346.6,544.1 L346.9,542.6 L347.2,541.1 L347.5,539.7 L347.7,538.2 L348.0,536.7 L348.3,535.3 L348.6,533.8 L348.9,532.4 L349.2,530.9 L349.6,529.4 L349.9,528.0 L350.2,526.5 L350.5,525.1 L350.8,523.6 L351.2,522.2 L351.5,520.7 L351.8,519.2 L352.2,517.8 L352.5,516.3 L352.8,514.9 L353.2,513.4 L353.5,512.0 L353.9,510.5 L354.2,509.1 L354.6,507.6 L354.9,506.2 L355.3,504.7 L355.6,503.3 L356.0,501.8 L356.4,500.4 L356.7,498.9 L357.1,497.4 L357.5,496.0 L357.8,494.5 L358.2,493.1 L358.6,491.6 L359.0,490.2 L359.3,488.7 L359.7,487.3 L360.1,485.8 L360.5,484.3 L360.8,482.9 L361.2,481.4 L361.6,480.0 L362.0,478.5 L362.4,477.0 L362.8,475.6 L363.1,474.1 L363.5,472.6 L363.9,471.2 L364.3,469.7 L364.7,468.2 L365.1,466.8 L365.5,465.3 L365.9,463.8 L366.2,462.3 L366.6,460.9 L367.0,459.4 L367.4,457.9 L367.8,456.4 L368.2,454.9 L368.6,453.4 L369.0,452.0 L369.3,450.5 L369.7,449.0 L370.1,447.5 L370.5,446.0 L370.9,444.5 L371.3,443.0 L371.6,441.5 L372.0,440.0 L372.4,438.5 L372.8,437.0 L373.2,435.5 L373.6,434.0 L374.0,432.5 L374.5,431.1 L374.9,429.6 L375.4,428.2 L375.9,426.8 L376.5,425.5 L377.0,424.1 L377.7,422.8 L378.3,421.5 L379.0,420.3 L379.7,419.1 L380.5,418.0 L381.4,416.9 L382.3,415.8 L383.2,414.8 L384.3,413.9 L385.3,413.1 L386.4,412.6 L387.5,412.4 L388.6,412.4 L389.7,412.8 L390.7,413.4 L391.7,414.2 L392.6,415.2 L393.3,416.3 L394.0,417.5 L394.7,418.8 L395.3,420.2 L395.8,421.7 L396.3,423.2 L396.8,424.7 L397.3,426.3 L397.8,427.8 L398.2,429.4 L398.7,430.9 L399.2,432.4 L399.6,434.0 L400.1,435.5 L400.5,437.0 L400.9,438.5 L401.4,440.0 L401.8,441.5 L402.2,443.1 L402.6,444.6 L403.0,446.1 L403.4,447.6 L403.8,449.1 L404.2,450.5 L404.6,452.0 L405.0,453.5 L405.4,455.0 L405.7,456.5 L406.1,458.0 L406.5,459.5 L406.8,460.9 L407.2,462.4 L407.5,463.9 L407.9,465.4 L408.2,466.8 L408.6,468.3 L408.9,469.8 L409.3,471.2 L409.6,472.7 L409.9,474.2 L410.3,475.6 L410.6,477.1 L410.9,478.5 L411.2,480.0 L411.5,481.4 L411.8,482.9 L412.2,484.4 L412.5,485.8 L412.8,487.3 L413.1,488.7 L413.4,490.2 L413.7,491.6 L414.0,493.1 L414.3,494.5 L414.6,496.0 L414.8,497.5 L415.1,498.9 L415.4,500.4 L415.7,501.8 L416.0,503.3 L416.3,504.7 L416.6,506.2 L416.8,507.6 L417.1,509.1 L417.4,510.6 L417.7,512.0 L418.0,513.5 L418.2,514.9 L418.5,516.4 L418.8,517.9 L419.0,519.3 L419.3,520.8 L419.6,522.3 L419.9,523.7 L420.1,525.2 L420.4,526.7 L420.7,528.1 L420.9,529.6 L421.2,531.1 L421.4,532.5 L421.7,534.0 L422.0,535.5 L422.2,536.9 L422.5,538.4 L422.7,539.9 L423.0,541.3 L423.3,542.8 L423.5,544.3 L423.8,545.8 L424.0,547.2 L424.3,548.7 L424.5,550.2 L424.8,551.6 L425.0,553.1 L425.3,554.6 L425.5,556.1 L425.8,557.6 L426.0,559.0 L426.2,560.5 L426.5,562.0 L426.7,563.5 L427.0,564.9 L427.2,566.4 L427.4,567.9 L427.7,569.4 L427.9,570.9 L428.2,572.3 L428.4,573.8 L428.6,575.3 L428.9,576.8 L429.1,578.3 L429.3,579.7 L429.5,581.2 L429.8,582.7 L430.0,584.2 L430.2,585.7 L430.5,587.2 L430.7,588.6 L430.9,590.1 L431.1,591.6 L431.4,593.1 L431.6,594.6 L431.8,596.1 L432.0,597.6 L432.2,599.0 L432.5,600.5 L432.7,602.0 L432.9,603.5 L433.1,605.0 L433.3,606.5 L433.6,608.0 L433.8,609.5 L434.0,610.9 L434.2,612.4 L434.4,613.9 L434.6,615.4 L434.8,616.9 L435.0,618.4 L435.2,619.9 L435.5,621.4 L435.7,622.9 L435.9,624.3 L436.1,625.8 L436.3,627.3 L436.5,628.8 L436.7,630.3 L436.9,631.8 L437.1,633.3 L437.3,634.8 L437.5,636.3 L437.7,637.8 L437.9,639.3 L438.1,640.8 L438.3,642.2 L438.5,643.7 L438.7,645.2 L438.9,646.7 L439.1,648.2 L439.3,649.7 L439.5,651.2 L439.7,652.7 L439.9,654.2 L440.1,655.7 L440.3,657.2 L440.5,658.7 L440.6,660.2 L440.8,661.7 L441.0,663.2 L441.2,664.6 L441.4,666.1 L441.6,667.6 L441.8,669.1 L442.0,670.6 L442.2,672.1 L442.3,673.6 L442.5,675.1 L442.7,676.6 L442.9,678.1 L443.1,679.6 L443.3,681.1 L443.5,682.6 L443.6,684.1 L443.8,685.6 L444.0,687.1 L444.2,688.5 L444.4,690.0 L444.5,691.5 L444.7,693.0 L444.9,694.5 L445.1,696.0 L445.3,697.5 L445.4,699.0 L445.6,700.5 L445.8,702.0 L446.0,703.5 L446.2,705.0 L446.3,706.5 L446.5,708.0 L446.7,709.5 L446.9,711.0 L447.1,712.4 L447.2,713.9 L447.4,715.4 L447.6,716.9 L447.8,718.4 L447.9,719.9 L448.1,721.4 L448.3,722.9 L448.5,724.4 L448.6,725.9 L448.8,727.4 L449.0,728.9 L449.2,730.4 L449.4,731.8 L449.5,733.3 L449.7,734.8 L449.9,736.3 L450.1,737.8 L450.2,739.3 L450.4,740.8 L450.6,742.3 L450.8,743.8 L451.0,745.3 L451.1,746.8 L451.3,748.3 L451.5,749.7 L451.7,751.2 L451.8,752.7 L452.0,754.2 L452.2,755.7 L452.4,757.2 L452.6,758.7 L452.8,760.2 L452.9,761.7 L453.1,763.2 L453.3,764.7 L453.5,766.1 L453.7,767.6 L453.9,769.1 L454.0,770.6 L454.2,772.1 L454.4,773.6 L454.6,775.1 L454.8,776.6 L455.0,778.1 L455.2,779.5 L455.4,781.0 L455.5,782.5 L455.7,784.0 L455.9,785.5 L456.1,787.0 L456.3,788.5 L456.5,790.0 L456.7,791.4 L456.9,792.9 L457.1,794.4 L457.3,795.9 L457.5,797.4 L457.7,798.9 L457.9,800.4 L458.1,801.8 L458.3,803.3 L458.5,804.8 L458.7,806.3 L458.9,807.8 L459.1,809.3 L459.3,810.8 L459.5,812.2 L459.7,813.7 L459.9,815.2 L460.1,816.7 L460.4,818.2 L460.6,819.7 L460.8,821.1 L461.0,822.6 L461.2,824.1 L461.4,825.6 L461.6,827.1 L461.9,828.6 L462.1,830.0 L462.3,831.5 L462.5,833.0 L462.8,834.5 L463.0,836.0 L463.2,837.4 L463.4,838.9 L463.7,840.4 L463.9,841.9 L464.1,843.4 L464.4,844.8 L464.6,846.3 L464.8,847.8 L465.1,849.3 L465.3,850.8 L465.6,852.2 L465.8,853.7 L466.0,855.2 L466.3,856.7 L466.5,858.1 L466.8,859.6 L467.0,861.1 L467.3,862.6 L467.5,864.1 L467.8,865.5 L468.1,867.0 L468.3,868.5 L468.6,870.0 L468.8,871.4 L469.1,872.9 L469.4,874.4 L469.6,875.8 L469.9,877.3 L470.2,878.8 L470.5,880.3 L470.7,881.7 L471.0,883.2 L471.3,884.7 L471.6,886.2 L471.8,887.6 L472.1,889.1 L472.4,890.6 L472.7,892.0 L473.0,893.5 L473.3,895.0 L473.6,896.5 L473.9,897.9 L474.2,899.4 L474.5,900.9 L474.8,902.3 L475.1,903.8 L475.4,905.3 L475.7,906.7 L476.0,908.2 L476.3,909.7 L476.6,911.1 L477.0,912.6 L477.3,914.1 L477.6,915.5 L477.9,917.0 L478.3,918.5 L478.6,919.9 L478.9,921.4 L479.3,922.8 L479.6,924.3 L479.9,925.8 L480.3,927.2 L480.6,928.7 L481.0,930.2 L481.3,931.6 L481.7,933.1 L482.0,934.5 L482.4,936.0 L482.7,937.5 L483.1,938.9 L483.5,940.4 L483.8,941.8 L484.2,943.3 L484.6,944.8 L484.9,946.2 L485.3,947.7 L485.7,949.1 L486.1,950.6 L486.5,952.0 L486.9,953.5 L487.3,954.9 L487.7,956.4 L488.1,957.8 L488.5,959.3 L488.9,960.7 L489.3,962.2 L489.8,963.6 L490.2,965.0 L490.7,966.5 L491.1,967.9 L491.6,969.3 L492.0,970.8 L492.5,972.2 L493.0,973.6 L493.5,975.0 L494.0,976.4 L494.5,977.8 L495.0,979.2 L495.5,980.7 L496.1,982.0 L496.6,983.4 L497.2,984.8 L497.8,986.2 L498.3,987.6 L498.9,989.0 L499.5,990.3 L500.1,991.7 L500.8,993.1 L501.4,994.4 L502.0,995.8 L502.7,997.1 L503.4,998.5 L504.1,999.8 L504.8,1001.1 L505.5,1002.5 L506.2,1003.8 L506.9,1005.1 L507.7,1006.4 L508.4,1007.7 L509.2,1009.0 L510.0,1010.3 L510.8,1011.6 L511.6,1012.9 L512.4,1014.1 L513.2,1015.4 L514.0,1016.7 L514.8,1018.0 L515.6,1019.3 L516.4,1020.6 L517.2,1021.8 L518.0,1023.1 L518.8,1024.4 L519.6,1025.7 L520.4,1027.0 L521.1,1028.3 L521.9,1029.6 L522.6,1030.9 L523.3,1032.3 L524.0,1033.6 L524.7,1034.9 L525.4,1036.2 L526.1,1037.6 L526.7,1038.9 L527.4,1040.3 L528.0,1041.7 L528.6,1043.0 L529.2,1044.4 L529.8,1045.8 L530.4,1047.1 L531.0,1048.5 L531.5,1049.9 L532.1,1051.3 L532.6,1052.7 L533.2,1054.1 L533.7,1055.5 L534.2,1056.9 L534.7,1058.3 L535.3,1059.7 L535.8,1061.2 L536.2,1062.6 L536.7,1064.0 L537.2,1065.4 L537.7,1066.8 L538.2,1068.3 L538.6,1069.7 L539.1,1071.1 L539.6,1072.6 L540.0,1074.0 L540.5,1075.4 L540.9,1076.9 L541.4,1078.3 L541.8,1079.7 L542.3,1081.2 L542.7,1082.6 L543.2,1084.1 L543.6,1085.5 L544.1,1086.9 L544.5,1088.4 L545.0,1089.8 L545.4,1091.2 L545.9,1092.7 L546.3,1094.1 L546.8,1095.6 L547.2,1097.0 L547.7,1098.4 L548.2,1099.8 L548.6,1101.3 L549.1,1102.7 L549.6,1104.1 L550.1,1105.5 L550.6,1107.0 L551.1,1108.4 L551.6,1109.8 L552.1,1111.2 L552.6,1112.6 L553.1,1114.0 L553.6,1115.4 L554.2,1116.8 L554.7,1118.2 L555.3,1119.6 L555.8,1121.0 L556.4,1122.4 L557.0,1123.7 L557.6,1125.1 L558.2,1126.5 L558.8,1127.9 L559.4,1129.2 L560.0,1130.6 L560.6,1131.9 L561.2,1133.3 L561.8,1134.7 L562.5,1136.0 L563.1,1137.4 L563.7,1138.8 L564.3,1140.1 L564.9,1141.5 L565.5,1142.9 L566.0,1144.3 L566.6,1145.7 L567.2,1147.0 L567.8,1148.4 L568.3,1149.8 L568.9,1151.2 L569.5,1152.6 L570.0,1154.0 L570.6,1155.4 L571.1,1156.8 L571.7,1158.2 L572.2,1159.6 L572.8,1161.0 L573.3,1162.4 L573.9,1163.8 L574.4,1165.2 L575.0,1166.6 L575.5,1168.0 L576.1,1169.4 L576.6,1170.8 L577.2,1172.2 L577.7,1173.6 L578.3,1175.0 L578.8,1176.4 L579.4,1177.8 L579.9,1179.2 L580.5,1180.6 L581.0,1182.0 L581.6,1183.4 L582.2,1184.8 L582.8,1186.2 L583.3,1187.6 L583.9,1189.0 L584.5,1190.4 L585.1,1191.7 L585.7,1193.1 L586.3,1194.5 L586.9,1195.9 L587.5,1197.2 L588.2,1198.6 L588.8,1200.0 L589.4,1201.3 L590.1,1202.7 L590.7,1204.0 L591.4,1205.4 L592.1,1206.7 L592.7,1208.0 L593.4,1209.4 L594.1,1210.7 L594.8,1212.0 L595.6,1213.3 L596.3,1214.6 L597.0,1215.9 L597.8,1217.2 L598.5,1218.5 L599.3,1219.8 L600.1,1221.1 L600.9,1222.4 L601.7,1223.6 L602.5,1224.9 L603.3,1226.1 L604.1,1227.4 L605.0,1228.6 L605.8,1229.9 L606.7,1231.1 L607.6,1232.3 L608.5,1233.5 L609.4,1234.7 L610.3,1235.9 L611.2,1237.1 L612.1,1238.3 L613.1,1239.4 L614.0,1240.6 L615.0,1241.8 L616.0,1242.9 L616.9,1244.0 L617.9,1245.2 L618.9,1246.3 L619.9,1247.4 L621.0,1248.5 L622.0,1249.6 L623.0,1250.7 L624.1,1251.7 L625.2,1252.8 L626.2,1253.8 L627.3,1254.9 L628.4,1255.9 L629.5,1256.9 L630.6,1258.0 L631.7,1259.0 L632.9,1259.9 L634.0,1260.9 L635.2,1261.9 L636.3,1262.8 L637.5,1263.8 L638.7,1264.7 L639.8,1265.7 L641.0,1266.6 L642.2,1267.5 L643.5,1268.3 L644.7,1269.2 L645.9,1270.1 L647.2,1270.9 L648.4,1271.8 L649.7,1272.6 L650.9,1273.4 L652.2,1274.2 L653.5,1275.0 L654.8,1275.8 L656.1,1276.5 L657.4,1277.3 L658.7,1278.0 L660.0,1278.8 L661.4,1279.5 L662.7,1280.2 L664.0,1280.9 L665.4,1281.5 L666.7,1282.2 L668.1,1282.8 L669.5,1283.5 L670.8,1284.1 L672.2,1284.7 L673.6,1285.3 L675.0,1285.9 L676.4,1286.4 L677.8,1287.0 L679.2,1287.5 L680.6,1288.1 L682.0,1288.6 L683.4,1289.1 L684.8,1289.6 L686.3,1290.0 L687.7,1290.5 L689.1,1290.9 L690.6,1291.4 L692.0,1291.8 L693.4,1292.2 L694.9,1292.6 L696.3,1293.0 L697.8,1293.3 L699.2,1293.7 L700.7,1294.0 L702.1,1294.4 L703.6,1294.7 L705.0,1295.0 L706.5,1295.3 L708.0,1295.6 L709.4,1295.9 L710.9,1296.1 L712.4,1296.4 L713.8,1296.6 L715.3,1296.9 L716.8,1297.1 L718.3,1297.3 L719.8,1297.5 L721.2,1297.7 L722.7,1297.9 L724.2,1298.1 L725.7,1298.3 L727.2,1298.5 L728.7,1298.6 L730.2,1298.8 L731.7,1298.9 L733.2,1299.1 L734.7,1299.2 L736.1,1299.4 L737.6,1299.5 L739.1,1299.6 L740.6,1299.7 L742.1,1299.8 L743.6,1299.9 L745.1,1300.0 L746.6,1300.1 L748.2,1300.2 L749.7,1300.3 L751.2,1300.4 L752.7,1300.5 L754.2,1300.5 L755.7,1300.6 L757.2,1300.7 L758.7,1300.7 L760.2,1300.8 L761.7,1300.9 L763.2,1300.9 L764.7,1301.0 L766.2,1301.0 L767.7,1301.1 L769.2,1301.1 L770.7,1301.2 L772.2,1301.3 L773.7,1301.3 L775.2,1301.4 L776.7,1301.4 L778.3,1301.4 L779.8,1301.5 L781.3,1301.5 L782.8,1301.6 L784.3,1301.6 L785.8,1301.7 L787.3,1301.7 L788.8,1301.7 L790.3,1301.8 L791.8,1301.8 L793.3,1301.8 L794.8,1301.9 L796.3,1301.9 L797.8,1302.0 L799.3,1302.0 L800.8,1302.0 L802.3,1302.0 L803.8,1302.1 L805.3,1302.1 L806.8,1302.1 L808.3,1302.2 L809.8,1302.2 L811.3,1302.2 L812.8,1302.2 L814.3,1302.3 L815.8,1302.3 L817.3,1302.3 L818.8,1302.3 L820.3,1302.3 L821.8,1302.4 L823.3,1302.4 L824.8,1302.4 L826.3,1302.4 L827.8,1302.4 L829.3,1302.5 L830.8,1302.5 L832.3,1302.5 L833.8,1302.5 L835.3,1302.5 L836.8,1302.5 L838.3,1302.6 L839.8,1302.6 L841.3,1302.6 L842.8,1302.6 L844.3,1302.6 L845.8,1302.6 L847.3,1302.6 L848.8,1302.6 L850.3,1302.7 L851.8,1302.7 L853.3,1302.7 L854.8,1302.7 L856.3,1302.7 L857.8,1302.7 L859.3,1302.7 L860.8,1302.7 L862.3,1302.8 L863.8,1302.8 L865.3,1302.8 L866.8,1302.8 L868.3,1302.8 L869.8,1302.8 L871.3,1302.8 L872.8,1302.8 L874.3,1302.8 L875.8,1302.9 L877.3,1302.9 L878.8,1302.9 L880.3,1302.9 L881.8,1302.9 L883.3,1302.9 L884.8,1302.9 L886.3,1302.9 L887.8,1302.9 L889.3,1303.0 L890.8,1303.0 L892.3,1303.0 L893.8,1303.0 L895.3,1303.0 L896.8,1303.0 L898.3,1303.0 L899.8,1303.0 L901.3,1303.0 L902.8,1303.0 L904.3,1303.1 L905.8,1303.1 L907.3,1303.1 L908.8,1303.1 L910.3,1303.1 L911.8,1303.1 L913.3,1303.1 L914.8,1303.1 L916.3,1303.1 L917.8,1303.1 L919.3,1303.2 L920.8,1303.2 L922.3,1303.2 L923.8,1303.2 L925.3,1303.2 L926.8,1303.2 L928.3,1303.2 L929.8,1303.2 L931.3,1303.2 L932.8,1303.2 L934.3,1303.2 L935.8,1303.3 L937.3,1303.3 L938.8,1303.3 L940.3,1303.3 L941.8,1303.3 L943.3,1303.3 L944.8,1303.3 L946.3,1303.3 L947.9,1303.3 L949.4,1303.3 L950.9,1303.3 L952.4,1303.4 L953.9,1303.4 L955.4,1303.4 L956.9,1303.4 L958.4,1303.4 L959.9,1303.4 L961.4,1303.4 L962.9,1303.4 L964.4,1303.4 L965.9,1303.4 L967.4,1303.4 L968.9,1303.5 L970.4,1303.5 L971.9,1303.5 L973.4,1303.5 L974.9,1303.5 L976.4,1303.5 L977.9,1303.5 L979.4,1303.5 L980.9,1303.5 L982.4,1303.5 L983.9,1303.5 L985.4,1303.5 L986.9,1303.6 L988.4,1303.6 L989.9,1303.6 L991.4,1303.6 L992.9,1303.6 L994.4,1303.6 L995.9,1303.6 L997.4,1303.6 L998.9,1303.6 L1000.4,1303.6 L1001.9,1303.6 L1003.4,1303.6 L1004.9,1303.6 L1006.4,1303.7 L1007.9,1303.7 L1009.4,1303.7 L1010.9,1303.7 L1012.4,1303.7 L1013.9,1303.7 L1015.4,1303.7 L1016.9,1303.7 L1018.4,1303.7 L1019.9,1303.7 L1021.4,1303.7 L1022.9,1303.7 L1024.4,1303.7 L1025.9,1303.7 L1027.4,1303.8 L1028.9,1303.8 L1030.4,1303.8 L1031.9,1303.8 L1033.4,1303.8 L1034.9,1303.8 L1036.4,1303.8 L1037.9,1303.8 L1039.4,1303.8 L1040.9,1303.8 L1042.4,1303.8 L1043.9,1303.8 L1045.4,1303.8 L1046.9,1303.8 L1048.4,1303.8 L1049.9,1303.9 L1051.4,1303.9 L1052.9,1303.9 L1054.4,1303.9 L1055.9,1303.9 L1057.4,1303.9 L1058.9,1303.9 L1060.4,1303.9 L1061.9,1303.9 L1063.4,1303.9 L1064.9,1303.9 L1066.4,1303.9 L1067.9,1303.9 L1069.4,1303.9 L1070.9,1303.9 L1072.4,1303.9 L1073.9,1304.0 L1075.4,1304.0 L1076.9,1304.0 L1078.4,1304.0 L1079.9,1304.0 L1081.4,1304.0 L1082.9,1304.0 L1084.4,1304.0 L1085.9,1304.0 L1087.4,1304.0 L1088.9,1304.0 L1090.4,1304.0 L1091.9,1304.0 L1093.4,1304.0 L1094.9,1304.0 L1096.4,1304.0 L1097.9,1304.0 L1099.4,1304.0 L1100.9,1304.1 L1102.4,1304.1 L1103.9,1304.1 L1105.4,1304.1 L1106.9,1304.1 L1108.4,1304.1 L1109.9,1304.1 L1111.4,1304.1 L1112.9,1304.1 L1114.4,1304.1 L1115.9,1304.1 L1117.4,1304.1 L1118.9,1304.1 L1120.4,1304.1 L1121.9,1304.1 L1123.4,1304.1 L1124.9,1304.1 L1126.4,1304.1 L1127.9,1304.1 L1129.4,1304.1 L1130.9,1304.2 L1132.4,1304.2 L1133.9,1304.2 L1135.4,1304.2 L1136.9,1304.2 L1138.4,1304.2 L1139.9,1304.2 L1141.4,1304.2 L1143.0,1304.2 L1144.5,1304.2 L1146.0,1304.2 L1147.5,1304.2 L1149.0,1304.2 L1150.5,1304.2 L1152.0,1304.2 L1153.5,1304.2 L1155.0,1304.2 L1156.5,1304.2 L1158.0,1304.2 L1159.5,1304.2 L1161.0,1304.2 L1162.5,1304.2 L1164.0,1304.3 L1165.5,1304.3 L1167.0,1304.3 L1168.5,1304.3 L1170.0,1304.3 L1171.5,1304.3 L1173.0,1304.3 L1174.5,1304.3 L1176.0,1304.3 L1177.5,1304.3 L1179.0,1304.3 L1180.5,1304.3 L1182.0,1304.3 L1183.5,1304.3 L1185.0,1304.3 L1186.5,1304.3 L1188.0,1304.3 L1189.5,1304.3 L1191.0,1304.3 L1192.5,1304.3 L1194.0,1304.3 L1195.5,1304.3 L1197.0,1304.3 L1198.5,1304.3 L1200.0,1304.3 L1201.5,1304.3 L1203.0,1304.3 L1204.5,1304.4 L1206.0,1304.4 L1207.5,1304.4 L1209.0,1304.4 L1210.5,1304.4 L1212.0,1304.4 L1213.5,1304.4 L1215.0,1304.4 L1216.5,1304.4 L1218.0,1304.4 L1219.5,1304.4 L1221.0,1304.4 L1222.5,1304.4 L1224.0,1304.4 L1225.5,1304.4 L1227.0,1304.4 L1228.5,1304.4 L1230.0,1304.4 L1231.5,1304.4 L1233.0,1304.4 L1234.5,1304.4 L1236.0,1304.4 L1237.5,1304.4 L1239.0,1304.4 L1240.5,1304.4 L1242.0,1304.4 L1243.5,1304.4 L1245.0,1304.4 L1246.5,1304.4 L1248.0,1304.4 L1249.5,1304.4 L1251.0,1304.5 L1252.5,1304.5 L1254.0,1304.5 L1255.5,1304.5 L1257.0,1304.5 L1258.5,1304.5 L1260.0,1304.5 L1261.5,1304.5 L1263.0,1304.5 L1264.5,1304.5 L1266.0,1304.5 L1267.5,1304.5 L1269.0,1304.5 L1270.5,1304.5 L1272.0,1304.5 L1273.6,1304.5 L1275.1,1304.5 L1276.6,1304.5 L1278.1,1304.5 L1279.6,1304.5 L1281.1,1304.5 L1282.6,1304.5 L1284.1,1304.5 L1285.6,1304.5 L1287.1,1304.5 L1288.6,1304.5 L1290.1,1304.5 L1291.6,1304.5 L1293.1,1304.5 L1294.6,1304.5 L1296.1,1304.5 L1297.6,1304.5 L1299.1,1304.5 L1300.6,1304.5 L1302.1,1304.5 L1303.6,1304.5 L1305.1,1304.5 L1306.6,1304.5 L1308.1,1304.5 L1309.6,1304.5 L1311.1,1304.5 L1312.6,1304.5 L1314.1,1304.6 L1315.6,1304.6 L1317.1,1304.6 L1318.6,1304.6 L1320.1,1304.6 L1321.6,1304.6 L1323.1,1304.6 L1324.6,1304.6 L1326.1,1304.6 L1327.6,1304.6 L1329.1,1304.6 L1330.6,1304.6 L1332.1,1304.6 L1333.6,1304.6 L1335.1,1304.6 L1336.6,1304.6 L1338.1,1304.6 L1339.6,1304.6 L1341.1,1304.6 L1342.6,1304.6 L1344.1,1304.6 L1345.6,1304.6 L1347.1,1304.6 L1348.6,1304.6 L1350.1,1304.6 L1351.6,1304.6 L1353.1,1304.6 L1354.6,1304.6 L1356.1,1304.6 L1357.6,1304.6 L1359.1,1304.6 L1360.6,1304.6 L1362.1,1304.6 L1363.6,1304.6 L1365.1,1304.6 L1366.6,1304.6 L1368.1,1304.6 L1369.6,1304.6 L1371.1,1304.6 L1372.6,1304.6 L1374.1,1304.6 L1375.6,1304.6 L1377.1,1304.6 L1378.6,1304.6 L1380.1,1304.6 L1381.6,1304.6 L1383.1,1304.6 L1384.6,1304.6 L1386.1,1304.6 L1387.6,1304.6 L1389.2,1304.6 L1390.7,1304.6 L1392.2,1304.6 L1393.7,1304.6 L1395.2,1304.6 L1396.7,1304.6 L1398.2,1304.6 L1399.7,1304.6 L1401.2,1304.6 L1402.7,1304.6 L1404.2,1304.6 L1405.7,1304.6 L1407.2,1304.6 L1408.7,1304.6 L1410.2,1304.6 L1411.7,1304.6 L1413.2,1304.6 L1414.7,1304.7 L1416.2,1304.7 L1417.7,1304.7 L1419.2,1304.7 L1420.7,1304.7 L1422.2,1304.7 L1423.7,1304.7 L1425.2,1304.7 L1426.7,1304.7 L1428.2,1304.7 L1429.7,1304.7 L1431.2,1304.7 L1432.7,1304.7 L1434.2,1304.7 L1435.7,1304.7 L1437.2,1304.7 L1438.7,1304.7 L1440.2,1304.7 L1441.7,1304.7 L1443.2,1304.7 L1444.7,1304.7 L1446.2,1304.7 L1447.7,1304.7 L1449.2,1304.7 L1450.7,1304.7 L1452.2,1304.7 L1453.7,1304.7 L1455.2,1304.7 L1456.7,1304.7 L1458.2,1304.7 L1459.7,1304.7 L1461.2,1304.7 L1462.7,1304.7 L1464.2,1304.7 L1465.7,1304.7 L1467.2,1304.7 L1468.7,1304.7 L1470.2,1304.7 L1471.7,1304.7 L1473.2,1304.7 L1474.7,1304.7 L1476.2,1304.7 L1477.7,1304.7 L1479.2,1304.7 L1480.7,1304.7 L1482.2,1304.7 L1483.7,1304.7 L1485.2,1304.7 L1486.7,1304.7 L1488.2,1304.7 L1489.7,1304.7 L1491.2,1304.7 L1492.7,1304.7 L1494.2,1304.7 L1495.7,1304.7 L1497.2,1304.7 L1498.7,1304.7 L1500.2,1304.7 L1501.7,1304.7 L1503.3,1304.7 L1504.8,1304.7 L1506.3,1304.7 L1507.8,1304.7 L1509.3,1304.7 L1510.8,1304.7 L1512.3,1304.7 L1513.8,1304.7 L1515.3,1304.7 L1516.8,1304.7 L1518.3,1304.7 L1519.8,1304.7 L1521.3,1304.7 L1522.8,1304.7 L1524.3,1304.7 L1525.8,1304.7 L1527.3,1304.7 L1528.8,1304.7 L1530.3,1304.7 L1531.8,1304.7 L1533.3,1304.7 L1534.8,1304.7 L1536.3,1304.7 L1537.8,1304.7 L1539.3,1304.7 L1540.8,1304.7 L1542.3,1304.7 L1543.8,1304.7 L1545.3,1304.7 L1546.8,1304.7 L1548.3,1304.7 L1549.8,1304.7 L1551.3,1304.7 L1552.8,1304.7 L1554.3,1304.7 L1555.8,1304.7 L1557.3,1304.7 L1558.8,1304.7 L1560.3,1304.7 L1561.8,1304.7 L1563.3,1304.7 L1564.8,1304.7 L1566.3,1304.7 L1567.8,1304.7 L1569.3,1304.7 L1570.8,1304.7 L1572.3,1304.7 L1573.8,1304.7 L1575.3,1304.7 L1576.8,1304.7 L1578.3,1304.7 L1579.8,1304.7 L1581.3,1304.7 L1582.8,1304.7 L1584.3,1304.7 L1585.8,1304.7 L1587.3,1304.7 L1588.8,1304.7 L1590.3,1304.7 L1591.8,1304.7 L1593.3,1304.7 L1594.8,1304.7 L1596.3,1304.7 L1597.8,1304.7 L1599.3,1304.7 L1600.8,1304.7 L1602.3,1304.7 L1603.8,1304.7 L1605.3,1304.7 L1606.8,1304.7 L1608.3,1304.7 L1609.8,1304.7 L1611.3,1304.7 L1612.8,1304.7 L1614.3,1304.7 L1615.8,1304.7 L1617.3,1304.7 L1618.8,1304.7 L1620.3,1304.7 L1621.8,1304.7 L1623.4,1304.7 L1624.9,1304.7 L1626.4,1304.7 L1627.9,1304.7 L1629.4,1304.7 L1630.9,1304.7 L1632.4,1304.7 L1633.9,1304.7 L1635.4,1304.7 L1636.9,1304.7 L1638.4,1304.7 L1639.9,1304.7 L1641.4,1304.7 L1642.9,1304.7 L1644.4,1304.7 L1645.9,1304.7 L1647.4,1304.7 L1648.9,1304.7 L1650.4,1304.8 L1651.9,1304.8 L1653.4,1304.8 L1654.9,1304.8 L1656.4,1304.8 L1657.9,1304.8 L1659.4,1304.8 L1660.9,1304.8 L1662.4,1304.8 L1663.9,1304.8 L1665.4,1304.8 L1666.9,1304.8 L1668.4,1304.8 L1669.9,1304.8 L1671.4,1304.8 L1672.9,1304.8 L1674.4,1304.8 L1675.9,1304.8 L1677.4,1304.8 L1678.9,1304.8 L1680.4,1304.8 L1681.9,1304.8 L1683.4,1304.8 L1684.9,1304.8 L1686.4,1304.8 L1687.9,1304.8 L1689.4,1304.8 L1690.9,1304.8 L1692.4,1304.8 L1693.9,1304.8 L1695.4,1304.8 L1696.9,1304.8 L1698.4,1304.8 L1699.9,1304.8 L1701.4,1304.8 L1702.9,1304.8 L1704.4,1304.8 L1705.9,1304.8 L1707.4,1304.8 L1708.9,1304.8 L1710.4,1304.8 L1711.9,1304.8 L1713.4,1304.8 L1714.9,1304.8 L1716.4,1304.8 L1717.9,1304.8 L1719.4,1304.8 L1720.9,1304.8 L1722.4,1304.8 L1723.9,1304.8 L1725.4,1304.8 L1726.9,1304.8 L1728.4,1304.8 L1729.9,1304.8 L1731.4,1304.8 L1732.9,1304.8 L1734.4,1304.8 L1735.9,1304.8 L1737.4,1304.8 L1738.9,1304.8 L1740.4,1304.8 L1741.9,1304.8 L1743.4,1304.8 L1744.9,1304.8 L1746.4,1304.8 L1747.9,1304.8 L1749.4,1304.8 L1750.9,1304.8 L1752.4,1304.8 L1753.9,1304.8 L1755.4,1304.8 L1756.9,1304.8 L1758.4,1304.8 L1759.9,1304.8 L1761.4,1304.8 L1762.9,1304.8 L1764.4,1304.8 L1765.9,1304.8 L1767.4,1304.8 L1768.9,1304.8 L1770.5,1304.8 L1772.0,1304.8 L1773.5,1304.8 L1775.0,1304.8 L1776.5,1304.8 L1778.0,1304.8 L1779.5,1304.8 L1781.0,1304.8 L1782.5,1304.8 L1784.0,1304.8 L1785.5,1304.8 L1787.0,1304.8 L1788.5,1304.8 L1790.0,1304.8 L1791.5,1304.8 L1793.0,1304.8 L1794.5,1304.8 L1796.0,1304.8 L1797.5,1304.8 L1799.0,1304.8 L1800.5,1304.8 L1802.0,1304.8 L1803.5,1304.8 L1805.0,1304.8 L1806.5,1304.9 L1808.0,1304.9 L1809.5,1304.9 L1811.0,1304.9 L1812.5,1304.9 L1814.0,1304.9 L1815.5,1304.9 L1817.0,1304.9 L1818.5,1304.9 L1820.0,1304.9 L1821.5,1304.9 L1823.0,1304.9 L1824.5,1304.9 L1826.0,1304.9 L1827.5,1304.9 L1829.0,1304.9 L1830.5,1304.9 L1832.0,1304.9 L1833.5,1304.9 L1835.0,1304.9 L1836.5,1304.9 L1838.0,1304.9 L1839.5,1304.9 L1841.0,1304.9 L1842.5,1304.9 L1844.0,1304.9 L1845.5,1304.9 L1847.0,1304.9 L1848.5,1304.9 L1850.0,1304.9 L1851.5,1304.9 L1853.0,1304.9 L1854.5,1304.9 L1856.0,1304.9 L1857.5,1304.9 L1859.0,1304.9 L1860.5,1304.9 L1862.0,1304.9" stroke="#9900ff" stroke-width="9.2"/>
<path d="M41.7,194 L50.6,194 L52.3,232 L55,263 L57.4,281 L57.8,301 L58,318 L41.7,318 Z" fill="#000"/>
<path class="c" d="M46.4,194.0 L46.4,195.5 L46.4,197.0 L46.4,198.5 L46.4,200.0 L46.5,201.5 L46.7,203.0 L46.8,204.5 L47.0,206.0 L47.1,207.5 L47.2,209.0 L47.4,210.5 L47.5,212.0 L47.6,213.5 L47.8,215.0 L47.9,216.5 L48.0,218.0 L48.2,219.5 L48.3,221.0 L48.4,222.5 L48.5,224.0 L48.6,225.5 L48.8,226.9 L48.9,228.4 L49.0,229.9 L49.1,231.4 L49.2,232.9 L49.3,234.4 L49.4,235.9 L49.5,237.4 L49.6,238.9 L49.8,240.4 L49.9,241.9 L50.0,243.4 L50.1,244.9 L50.2,246.4 L50.3,247.9 L50.4,249.4 L50.4,250.9 L50.5,252.4 L50.6,253.9 L50.7,255.4 L50.8,256.9 L50.9,258.4 L51.0,259.9 L51.1,261.4 L51.2,262.9 L51.3,264.4 L51.3,265.9 L51.4,267.4 L51.5,268.9 L51.6,270.4 L51.7,271.9 L51.7,273.4 L51.8,274.9 L51.9,276.4 L52.0,277.9 L52.0,279.4 L52.1,280.9 L52.2,282.4 L52.2,283.9 L52.3,285.4 L52.4,286.9 L52.5,288.4 L52.5,289.8 L52.6,291.3 L52.6,292.8 L52.7,294.3 L52.8,295.8 L52.8,297.3 L52.9,298.8 L53.0,300.3 L53.0,301.8 L53.1,303.3 L53.1,304.8 L53.2,306.3 L53.3,307.8 L53.3,309.3 L53.4,310.8 L53.4,312.3 L53.5,313.8 L53.5,315.3 L53.6,316.8 L53.6,318.3 L53.7,319.8 L53.7,321.3 L53.8,322.8 L53.8,324.3 L53.9,325.8 L53.9,327.3 L54.0,328.8 L54.0,330.3 L54.1,331.8 L54.1,333.3 L54.2,334.8 L54.2,336.3 L54.3,337.8 L54.3,339.3 L54.4,340.8 L54.4,342.3 L54.5,343.8 L54.5,345.3 L54.5,346.8 L54.6,348.3 L54.6,349.8 L54.7,351.3 L54.7,352.8 L54.8,354.3 L54.8,355.8 L54.8,357.3 L54.9,358.8 L54.9,360.3 L55.0,361.8 L55.0,363.3 L55.1,364.8 L55.1,366.3 L55.1,367.8 L55.2,369.3 L55.2,370.8 L55.3,372.3 L55.3,373.8 L55.3,375.3 L55.4,376.8 L55.4,378.3 L55.5,379.8 L55.5,381.3 L55.5,382.8 L55.6,384.3 L55.6,385.8 L55.7,387.3 L55.7,388.8 L55.7,390.3 L55.8,391.8 L55.8,393.3 L55.9,394.8 L55.9,396.3 L55.9,397.8 L56.0,399.3 L56.0,400.8 L56.1,402.3 L56.1,403.8 L56.1,405.3 L56.2,406.8 L56.2,408.3 L56.2,409.8 L56.3,411.3 L56.3,412.8 L56.4,414.3 L56.4,415.8 L56.4,417.3 L56.5,418.8 L56.5,420.3 L56.5,421.8 L56.6,423.3 L56.6,424.8 L56.6,426.3 L56.7,427.8 L56.7,429.3 L56.8,430.8 L56.8,432.3 L56.8,433.8 L56.9,435.3 L56.9,436.8 L56.9,438.3 L57.0,439.8 L57.0,441.3 L57.0,442.8 L57.1,444.3 L57.1,445.8 L57.1,447.3 L57.2,448.8 L57.2,450.3 L57.2,451.8 L57.3,453.3 L57.3,454.8 L57.3,456.3 L57.4,457.8 L57.4,459.3 L57.5,460.8 L57.5,462.3 L57.5,463.8 L57.6,465.3 L57.6,466.8 L57.6,468.3 L57.7,469.8 L57.7,471.3 L57.7,472.8 L57.8,474.3 L57.8,475.8 L57.8,477.3 L57.8,478.8 L57.9,480.3 L57.9,481.8 L57.9,483.3 L58.0,484.8 L58.0,486.3 L58.0,487.8 L58.1,489.3 L58.1,490.8 L58.1,492.3 L58.2,493.8 L58.2,495.3 L58.2,496.8 L58.3,498.3 L58.3,499.8 L58.3,501.3 L58.4,502.8 L58.4,504.3 L58.4,505.8 L58.5,507.3 L58.5,508.8 L58.5,510.3 L58.5,511.8 L58.6,513.3 L58.6,514.8 L58.6,516.3 L58.7,517.8 L58.7,519.3 L58.7,520.8 L58.8,522.3 L58.8,523.8 L58.8,525.3 L58.8,526.8 L58.9,528.3 L58.9,529.8 L58.9,531.3 L59.0,532.8 L59.0,534.3 L59.0,535.8 L59.1,537.3 L59.1,538.8 L59.1,540.3 L59.1,541.8 L59.2,543.3 L59.2,544.8 L59.2,546.3 L59.3,547.8 L59.3,549.3 L59.3,550.8 L59.3,552.3 L59.4,553.8 L59.4,555.3 L59.4,556.8 L59.5,558.3 L59.5,559.8 L59.5,561.3 L59.6,562.8 L59.6,564.3 L59.6,565.8 L59.6,567.3 L59.7,568.8 L59.7,570.3 L59.7,571.8 L59.8,573.3 L59.8,574.8 L59.8,576.3 L59.8,577.8 L59.9,579.3 L59.9,580.8 L59.9,582.3 L59.9,583.8 L60.0,585.3 L60.0,586.8 L60.0,588.3 L60.1,589.8 L60.1,591.3 L60.1,592.8 L60.1,594.3 L60.2,595.8 L60.2,597.3 L60.2,598.8 L60.3,600.3 L60.3,601.9 L60.3,603.4 L60.3,604.9 L60.4,606.4 L60.4,607.9 L60.4,609.4 L60.4,610.9 L60.5,612.4 L60.5,613.9 L60.5,615.4 L60.6,616.9 L60.6,618.4 L60.6,619.9 L60.6,621.4 L60.7,622.9 L60.7,624.4 L60.7,625.9 L60.8,627.4 L60.8,628.9 L60.8,630.4 L60.8,631.9 L60.9,633.4 L60.9,634.9 L60.9,636.4 L60.9,637.9 L61.0,639.4 L61.0,640.9 L61.0,642.4 L61.1,643.9 L61.1,645.4 L61.1,646.9 L61.1,648.4 L61.2,649.9 L61.2,651.4 L61.2,652.9 L61.2,654.4 L61.3,655.9 L61.3,657.4 L61.3,658.9 L61.4,660.4 L61.4,661.9 L61.4,663.4 L61.4,664.9 L61.5,666.4 L61.5,667.9 L61.5,669.4 L61.5,670.9 L61.6,672.4 L61.6,673.9 L61.6,675.4 L61.7,676.9 L61.7,678.4 L61.7,679.9 L61.7,681.4 L61.8,682.9 L61.8,684.4 L61.8,685.9 L61.8,687.4 L61.9,688.9 L61.9,690.4 L61.9,691.9 L62.0,693.4 L62.0,694.9 L62.0,696.4 L62.0,697.9 L62.1,699.4 L62.1,700.9 L62.1,702.4 L62.1,703.9 L62.2,705.4 L62.2,706.9 L62.2,708.4 L62.3,709.9 L62.3,711.4 L62.3,713.0 L62.3,714.5 L62.4,716.0 L62.4,717.5 L62.4,719.0 L62.5,720.5 L62.5,722.0 L62.5,723.5 L62.5,725.0 L62.6,726.5 L62.6,728.0 L62.6,729.5 L62.7,731.0 L62.7,732.5 L62.7,734.0 L62.7,735.5 L62.8,737.0 L62.8,738.5 L62.8,740.0 L62.9,741.5 L62.9,743.0 L62.9,744.5 L62.9,746.0 L63.0,747.5 L63.0,749.0 L63.0,750.5 L63.1,752.0 L63.1,753.5 L63.1,755.0 L63.1,756.5 L63.2,758.0 L63.2,759.5 L63.2,761.0 L63.3,762.5 L63.3,764.0 L63.3,765.5 L63.3,767.0 L63.4,768.5 L63.4,770.0 L63.4,771.5 L63.5,773.0 L63.5,774.5 L63.5,776.0 L63.6,777.5 L63.6,779.0 L63.6,780.5 L63.6,782.0 L63.7,783.5 L63.7,785.0 L63.7,786.5 L63.8,788.0 L63.8,789.5 L63.8,791.0 L63.9,792.5 L63.9,794.0 L63.9,795.5 L63.9,797.0 L64.0,798.5 L64.0,800.0 L64.0,801.5 L64.1,803.0 L64.1,804.5 L64.1,806.0 L64.2,807.5 L64.2,809.0 L64.2,810.5 L64.3,812.0 L64.3,813.5 L64.3,815.0 L64.4,816.5 L64.4,818.0 L64.4,819.5 L64.5,821.0 L64.5,822.5 L64.5,824.0 L64.6,825.5 L64.6,827.0 L64.6,828.5 L64.6,830.0 L64.7,831.5 L64.7,833.0 L64.7,834.6 L64.8,836.1 L64.8,837.6 L64.8,839.1 L64.9,840.6 L64.9,842.1 L64.9,843.6 L65.0,845.1 L65.0,846.6 L65.0,848.1 L65.1,849.6 L65.1,851.1 L65.2,852.6 L65.2,854.1 L65.2,855.6 L65.3,857.1 L65.3,858.6 L65.3,860.1 L65.4,861.6 L65.4,863.1 L65.4,864.6 L65.5,866.1 L65.5,867.6 L65.5,869.1 L65.6,870.6 L65.6,872.1 L65.6,873.6 L65.7,875.1 L65.7,876.6 L65.7,878.1 L65.8,879.6 L65.8,881.1 L65.9,882.6 L65.9,884.1 L65.9,885.6 L66.0,887.1 L66.0,888.6 L66.0,890.1 L66.1,891.6 L66.1,893.1 L66.2,894.6 L66.2,896.1 L66.2,897.6 L66.3,899.1 L66.3,900.6 L66.3,902.1 L66.4,903.6 L66.4,905.1 L66.5,906.6 L66.5,908.1 L66.5,909.6 L66.6,911.1 L66.6,912.6 L66.7,914.1 L66.7,915.6 L66.7,917.1 L66.8,918.6 L66.8,920.1 L66.8,921.6 L66.9,923.1 L66.9,924.6 L67.0,926.1 L67.0,927.6 L67.0,929.1 L67.1,930.6 L67.1,932.1 L67.2,933.6 L67.2,935.1 L67.3,936.6 L67.3,938.1 L67.3,939.6 L67.4,941.1 L67.4,942.6 L67.5,944.1 L67.5,945.6 L67.5,947.1 L67.6,948.6 L67.6,950.1 L67.7,951.6 L67.7,953.1 L67.8,954.6 L67.8,956.1 L67.8,957.6 L67.9,959.1 L67.9,960.6 L68.0,962.1 L68.0,963.6 L68.1,965.1 L68.1,966.6 L68.2,968.1 L68.2,969.6 L68.2,971.1 L68.3,972.6 L68.3,974.1 L68.4,975.6 L68.4,977.1 L68.5,978.6 L68.5,980.1 L68.6,981.6 L68.6,983.1 L68.7,984.6 L68.7,986.1 L68.7,987.6 L68.8,989.1 L68.8,990.6 L68.9,992.1 L68.9,993.6 L69.0,995.1 L69.0,996.6 L69.1,998.1 L69.1,999.6 L69.2,1001.1 L69.2,1002.6 L69.3,1004.1 L69.3,1005.6 L69.4,1007.1 L69.4,1008.6 L69.5,1010.1 L69.5,1011.6 L69.6,1013.1 L69.6,1014.6 L69.7,1016.1 L69.7,1017.6 L69.8,1019.1 L69.8,1020.6 L69.9,1022.1 L69.9,1023.6 L70.0,1025.1 L70.0,1026.6 L70.1,1028.1 L70.1,1029.6 L70.2,1031.1 L70.2,1032.6 L70.3,1034.1 L70.3,1035.6 L70.4,1037.1 L70.4,1038.6 L70.5,1040.1 L70.6,1041.6 L70.6,1043.1 L70.7,1044.6 L70.7,1046.1 L70.8,1047.6 L70.8,1049.1 L70.9,1050.6 L70.9,1052.1 L71.0,1053.6 L71.0,1055.1 L71.1,1056.6 L71.2,1058.1 L71.2,1059.5 L71.3,1061.0 L71.3,1062.5 L71.4,1064.0 L71.4,1065.5 L71.5,1067.0 L71.6,1068.5 L71.6,1070.0 L71.7,1071.5 L71.7,1073.0 L71.8,1074.5 L71.8,1076.0 L71.9,1077.5 L72.0,1079.0 L72.0,1080.5 L72.1,1082.0 L72.1,1083.5 L72.2,1085.0 L72.3,1086.5 L72.3,1088.0 L72.4,1089.5 L72.4,1091.0 L72.5,1092.5 L72.6,1094.0 L72.6,1095.5 L72.7,1097.0 L72.7,1098.5 L72.8,1100.0 L72.9,1101.5 L72.9,1103.0 L73.0,1104.5 L73.1,1106.0 L73.1,1107.5 L73.2,1109.0 L73.2,1110.5 L73.3,1112.0 L73.4,1113.5 L73.4,1115.0 L73.5,1116.5 L73.6,1118.0 L73.6,1119.5 L73.7,1121.0 L73.8,1122.5 L73.8,1124.0 L73.9,1125.5 L74.0,1127.0 L74.0,1128.5 L74.1,1130.0 L74.2,1131.5 L74.2,1133.0 L74.3,1134.5 L74.4,1135.9 L74.4,1137.4 L74.5,1138.9 L74.6,1140.4 L74.6,1141.9 L74.7,1143.4 L74.8,1144.9 L74.9,1146.4 L74.9,1147.9 L75.0,1149.4 L75.1,1150.9 L75.1,1152.4 L75.2,1153.9 L75.3,1155.4 L75.4,1156.9 L75.4,1158.4 L75.5,1159.9 L75.6,1161.4 L75.7,1162.9 L75.7,1164.4 L75.8,1165.9 L75.9,1167.4 L76.0,1168.9 L76.0,1170.4 L76.1,1171.9 L76.2,1173.4 L76.3,1174.9 L76.4,1176.4 L76.4,1177.9 L76.5,1179.4 L76.6,1180.9 L76.7,1182.4 L76.8,1183.9 L76.9,1185.3 L77.0,1186.8 L77.0,1188.3 L77.1,1189.8 L77.2,1191.3 L77.3,1192.8 L77.4,1194.3 L77.5,1195.8 L77.6,1197.3 L77.7,1198.8 L77.8,1200.3 L77.9,1201.8 L78.0,1203.3 L78.0,1204.8 L78.1,1206.3 L78.2,1207.8 L78.3,1209.3 L78.4,1210.8 L78.5,1212.3 L78.7,1213.8 L78.8,1215.3 L78.9,1216.8 L79.0,1218.3 L79.1,1219.8 L79.2,1221.3 L79.3,1222.8 L79.4,1224.3 L79.5,1225.8 L79.6,1227.2 L79.7,1228.7 L79.9,1230.2 L80.0,1231.7 L80.1,1233.2 L80.2,1234.7 L80.3,1236.2 L80.4,1237.7 L80.6,1239.2 L80.7,1240.7 L80.8,1242.2 L80.9,1243.7 L81.1,1245.2 L81.2,1246.7 L81.3,1248.2 L81.5,1249.7 L81.6,1251.2 L81.7,1252.7 L81.9,1254.2 L82.0,1255.7 L82.1,1257.2 L82.3,1258.7 L82.4,1260.2 L82.6,1261.7 L82.7,1263.2 L82.9,1264.7 L83.0,1266.1 L83.2,1267.6 L83.3,1269.1 L83.5,1270.6 L83.6,1272.1 L83.8,1273.6 L83.9,1275.1 L84.1,1276.6 L84.3,1278.1 L84.4,1279.6 L84.6,1281.1 L84.8,1282.6 L84.9,1284.1 L85.1,1285.6 L85.3,1287.1 L85.4,1288.6 L85.6,1290.1 L85.8,1291.6 L86.0,1293.1 L86.1,1294.6 L86.3,1296.1 L86.5,1297.6 L86.7,1299.1 L86.9,1300.6 L87.1,1302.0 L87.3,1303.5 L87.5,1305.0 L87.7,1306.5 L87.9,1308.0 L88.1,1309.5 L88.3,1311.0 L88.5,1312.5 L88.7,1314.0 L88.9,1315.5 L89.1,1317.0 L89.3,1318.5 L89.5,1320.0 L89.7,1321.5 L89.9,1323.0 L90.2,1324.5 L90.4,1326.0 L90.6,1327.5 L90.8,1329.0 L91.1,1330.5 L91.3,1332.0 L91.5,1333.5 L91.8,1335.0 L92.0,1336.5 L92.2,1338.0 L92.5,1339.4 L92.7,1340.9 L93.0,1342.4 L93.2,1343.9 L93.5,1345.4 L93.8,1346.9 L94.1,1348.4 L94.4,1349.9 L94.7,1351.3 L95.0,1352.8 L95.4,1354.3 L95.8,1355.7 L96.2,1357.2 L96.6,1358.6 L97.0,1360.0 L97.5,1361.4 L98.0,1362.8 L98.6,1364.2 L99.1,1365.6 L99.7,1367.0 L100.4,1368.3 L101.0,1369.6 L101.8,1371.0 L102.5,1372.2 L103.3,1373.5 L104.1,1374.7 L105.0,1375.9 L105.9,1377.1 L106.9,1378.2 L107.9,1379.2 L108.9,1380.2 L110.0,1381.2 L111.1,1382.1 L112.3,1382.9 L113.5,1383.6 L114.7,1384.4 L116.0,1385.0 L117.3,1385.6 L118.7,1386.1 L120.0,1386.6 L121.4,1387.1 L122.8,1387.4 L124.3,1387.8 L125.7,1388.0 L127.2,1388.3 L128.7,1388.5 L130.2,1388.7 L131.7,1388.8 L133.2,1389.0 L134.7,1389.1 L136.3,1389.2 L137.8,1389.3 L139.3,1389.5 L140.8,1389.6 L142.4,1389.7 L143.9,1389.8 L145.4,1389.9 L146.9,1390.0 L148.5,1390.1 L150.0,1390.3 L151.5,1390.4 L153.0,1390.5 L154.5,1390.6 L156.0,1390.7 L157.5,1390.8 L159.0,1390.9 L160.6,1391.0 L162.1,1391.1 L163.6,1391.2 L165.1,1391.4 L166.6,1391.5 L168.1,1391.6 L169.6,1391.7 L171.1,1391.8 L172.6,1391.9 L174.1,1392.0 L175.6,1392.1 L177.1,1392.2 L178.6,1392.3 L180.1,1392.4 L181.6,1392.5 L183.1,1392.6 L184.6,1392.7 L186.1,1392.8 L187.6,1392.9 L189.1,1393.0 L190.6,1393.1 L192.1,1393.2 L193.6,1393.2 L195.1,1393.3 L196.6,1393.4 L198.1,1393.5 L199.6,1393.6 L201.1,1393.7 L202.6,1393.8 L204.1,1393.9 L205.6,1393.9 L207.0,1394.0 L208.5,1394.1 L210.0,1394.2 L211.5,1394.2 L213.0,1394.3 L214.5,1394.4 L216.0,1394.5 L217.5,1394.5 L219.0,1394.6 L220.5,1394.7 L222.0,1394.8 L223.5,1394.8 L225.0,1394.9 L226.5,1394.9 L228.0,1395.0 L229.5,1395.1 L231.0,1395.1 L232.5,1395.2 L234.0,1395.3 L235.5,1395.3 L237.0,1395.4 L238.5,1395.4 L240.0,1395.5 L241.5,1395.5 L243.0,1395.6 L244.5,1395.6 L246.0,1395.7 L247.5,1395.7 L249.0,1395.8 L250.5,1395.8 L252.0,1395.9 L253.5,1395.9 L255.0,1396.0 L256.5,1396.0 L258.0,1396.1 L259.5,1396.1 L261.0,1396.2 L262.5,1396.2 L263.9,1396.2 L265.4,1396.3 L266.9,1396.3 L268.4,1396.4 L269.9,1396.4 L271.4,1396.4 L272.9,1396.5 L274.4,1396.5 L275.9,1396.5 L277.4,1396.6 L278.9,1396.6 L280.4,1396.6 L281.9,1396.7 L283.4,1396.7 L284.9,1396.7 L286.4,1396.8 L287.9,1396.8 L289.4,1396.8 L290.9,1396.9 L292.4,1396.9 L293.9,1396.9 L295.4,1397.0 L296.9,1397.0 L298.4,1397.0 L299.9,1397.0 L301.4,1397.1 L302.9,1397.1 L304.4,1397.1 L305.9,1397.1 L307.4,1397.2 L308.9,1397.2 L310.4,1397.2 L311.9,1397.2 L313.4,1397.3 L314.9,1397.3 L316.4,1397.3 L317.9,1397.3 L319.4,1397.4 L320.9,1397.4 L322.5,1397.4 L324.0,1397.4 L325.5,1397.5 L327.0,1397.5 L328.5,1397.5 L330.0,1397.5 L331.5,1397.6 L333.0,1397.6 L334.5,1397.6 L336.0,1397.6 L337.5,1397.6 L339.0,1397.7 L340.5,1397.7 L342.0,1397.7 L343.5,1397.7 L345.0,1397.8 L346.5,1397.8 L348.0,1397.8 L349.5,1397.8 L351.0,1397.9 L352.5,1397.9 L354.0,1397.9 L355.5,1397.9 L357.0,1398.0 L358.5,1398.0 L360.0,1398.0 L361.5,1398.0 L363.0,1398.1 L364.5,1398.1 L366.0,1398.1 L367.5,1398.1 L369.0,1398.2 L370.5,1398.2 L372.0,1398.2 L373.5,1398.3 L375.0,1398.3 L376.5,1398.3 L378.0,1398.3 L379.5,1398.4 L381.0,1398.4 L382.5,1398.4 L384.0,1398.5 L385.5,1398.5 L387.0,1398.5 L388.5,1398.6 L390.0,1398.6 L391.5,1398.6 L393.0,1398.7 L394.5,1398.7 L396.0,1398.7 L397.5,1398.8 L399.0,1398.8 L400.5,1398.8 L402.0,1398.9 L403.5,1398.9 L405.0,1399.0 L406.5,1399.0 L408.0,1399.0 L409.5,1399.1 L411.0,1399.1 L412.5,1399.2 L414.0,1399.2 L415.5,1399.3 L417.0,1399.3 L418.5,1399.4 L420.0,1399.4 L421.5,1399.5 L423.0,1399.5 L424.5,1399.6 L426.0,1399.6 L427.5,1399.7 L429.0,1399.7 L430.5,1399.8 L432.0,1399.8 L433.5,1399.9 L435.0,1399.9 L436.5,1400.0 L438.0,1400.0 L439.5,1400.1 L441.0,1400.1 L442.5,1400.2 L444.0,1400.2 L445.5,1400.3 L447.0,1400.4 L448.5,1400.4 L450.0,1400.5 L451.5,1400.5 L453.0,1400.6 L454.5,1400.6 L456.0,1400.7 L457.5,1400.8 L459.0,1400.8 L460.5,1400.9 L462.0,1400.9 L463.5,1401.0 L465.0,1401.1 L466.5,1401.1 L468.0,1401.2 L469.5,1401.3 L471.0,1401.3 L472.5,1401.4 L474.0,1401.4 L475.5,1401.5 L477.0,1401.6 L478.5,1401.6 L480.0,1401.7 L481.5,1401.8 L483.0,1401.8 L484.5,1401.9 L486.0,1402.0 L487.5,1402.0 L489.0,1402.1 L490.5,1402.2 L492.0,1402.2 L493.5,1402.3 L495.0,1402.4 L496.5,1402.4 L498.0,1402.5 L499.5,1402.6 L501.0,1402.6 L502.5,1402.7 L504.0,1402.8 L505.5,1402.8 L507.0,1402.9 L508.5,1403.0 L510.0,1403.0 L511.5,1403.1 L513.0,1403.2 L514.5,1403.2 L516.0,1403.3 L517.5,1403.4 L519.0,1403.5 L520.5,1403.5 L522.0,1403.6 L523.5,1403.7 L525.0,1403.7 L526.5,1403.8 L528.0,1403.9 L529.5,1403.9 L531.0,1404.0 L532.5,1404.1 L534.0,1404.1 L535.5,1404.2 L537.0,1404.3 L538.5,1404.3 L540.0,1404.4 L541.5,1404.5 L543.0,1404.5 L544.5,1404.6 L546.0,1404.7 L547.5,1404.7 L549.0,1404.8 L550.5,1404.9 L552.0,1404.9 L553.5,1405.0 L555.0,1405.1 L556.5,1405.1 L558.0,1405.2 L559.5,1405.3 L561.0,1405.3 L562.5,1405.4 L564.0,1405.5 L565.5,1405.5 L567.0,1405.6 L568.5,1405.7 L570.0,1405.7 L571.5,1405.8 L573.0,1405.9 L574.5,1405.9 L576.0,1406.0 L577.5,1406.1 L579.0,1406.1 L580.5,1406.2 L582.0,1406.2 L583.5,1406.3 L585.0,1406.4 L586.5,1406.4 L588.0,1406.5 L589.5,1406.5 L591.0,1406.6 L592.5,1406.7 L594.0,1406.7 L595.5,1406.8 L597.0,1406.9 L598.5,1406.9 L600.0,1407.0 L601.5,1407.0 L603.0,1407.1 L604.5,1407.2 L606.0,1407.2 L607.5,1407.3 L609.0,1407.3 L610.5,1407.4 L612.0,1407.4 L613.5,1407.5 L615.0,1407.6 L616.5,1407.6 L618.0,1407.7 L619.5,1407.7 L621.0,1407.8 L622.5,1407.8 L624.0,1407.9 L625.5,1408.0 L627.0,1408.0 L628.5,1408.1 L630.0,1408.1 L631.5,1408.2 L633.0,1408.2 L634.5,1408.3 L636.0,1408.4 L637.5,1408.4 L639.0,1408.5 L640.5,1408.5 L642.0,1408.6 L643.5,1408.6 L645.0,1408.7 L646.4,1408.7 L647.9,1408.8 L649.4,1408.8 L650.9,1408.9 L652.4,1408.9 L653.9,1409.0 L655.4,1409.1 L656.9,1409.1 L658.4,1409.2 L659.9,1409.2 L661.4,1409.3 L662.9,1409.3 L664.4,1409.4 L665.9,1409.4 L667.4,1409.5 L668.9,1409.5 L670.4,1409.6 L671.9,1409.6 L673.4,1409.7 L674.9,1409.7 L676.4,1409.8 L677.9,1409.8 L679.4,1409.9 L680.9,1409.9 L682.4,1410.0 L683.9,1410.0 L685.4,1410.1 L686.9,1410.1 L688.4,1410.2 L689.9,1410.2 L691.4,1410.3 L692.9,1410.3 L694.4,1410.3 L695.9,1410.4 L697.4,1410.4 L698.9,1410.5 L700.4,1410.5 L701.9,1410.6 L703.4,1410.6 L704.9,1410.7 L706.4,1410.7 L707.9,1410.8 L709.4,1410.8 L710.9,1410.9 L712.4,1410.9 L713.9,1411.0 L715.4,1411.0 L716.9,1411.0 L718.4,1411.1 L719.9,1411.1 L721.4,1411.2 L722.9,1411.2 L724.4,1411.3 L725.9,1411.3 L727.4,1411.4 L728.9,1411.4 L730.4,1411.4 L731.9,1411.5 L733.4,1411.5 L734.9,1411.6 L736.4,1411.6 L737.9,1411.7 L739.4,1411.7 L740.9,1411.7 L742.4,1411.8 L743.9,1411.8 L745.4,1411.9 L746.9,1411.9 L748.4,1411.9 L749.9,1412.0 L751.4,1412.0 L752.9,1412.1 L754.4,1412.1 L755.9,1412.1 L757.4,1412.2 L758.9,1412.2 L760.4,1412.3 L761.9,1412.3 L763.4,1412.3 L764.9,1412.4 L766.4,1412.4 L767.9,1412.5 L769.4,1412.5 L770.9,1412.5 L772.4,1412.6 L773.9,1412.6 L775.4,1412.7 L776.9,1412.7 L778.4,1412.7 L779.9,1412.8 L781.4,1412.8 L782.9,1412.8 L784.4,1412.9 L785.9,1412.9 L787.4,1413.0 L788.9,1413.0 L790.4,1413.0 L791.9,1413.1 L793.4,1413.1 L794.9,1413.1 L796.4,1413.2 L798.0,1413.2 L799.5,1413.3 L801.0,1413.3 L802.5,1413.3 L804.0,1413.4 L805.5,1413.4 L807.0,1413.4 L808.5,1413.5 L810.0,1413.5 L811.5,1413.5 L813.0,1413.6 L814.5,1413.6 L816.0,1413.6 L817.5,1413.7 L819.0,1413.7 L820.5,1413.7 L822.0,1413.8 L823.5,1413.8 L825.0,1413.8 L826.5,1413.9 L828.0,1413.9 L829.5,1413.9 L831.0,1414.0 L832.5,1414.0 L834.0,1414.0 L835.5,1414.1 L837.0,1414.1 L838.5,1414.1 L840.0,1414.2 L841.5,1414.2 L843.0,1414.2 L844.5,1414.3 L846.0,1414.3 L847.5,1414.3 L849.0,1414.3 L850.5,1414.4 L852.0,1414.4 L853.5,1414.4 L855.0,1414.5 L856.5,1414.5 L858.0,1414.5 L859.5,1414.6 L861.0,1414.6 L862.5,1414.6 L864.0,1414.7 L865.5,1414.7 L867.0,1414.7 L868.5,1414.7 L870.0,1414.8 L871.5,1414.8 L873.0,1414.8 L874.5,1414.9 L876.0,1414.9 L877.5,1414.9 L879.0,1414.9 L880.5,1415.0 L882.0,1415.0 L883.5,1415.0 L885.0,1415.1 L886.5,1415.1 L888.0,1415.1 L889.5,1415.1 L891.0,1415.2 L892.5,1415.2 L894.0,1415.2 L895.5,1415.2 L897.0,1415.3 L898.5,1415.3 L900.0,1415.3 L901.5,1415.3 L903.0,1415.4 L904.5,1415.4 L906.0,1415.4 L907.5,1415.5 L909.0,1415.5 L910.5,1415.5 L912.0,1415.5 L913.5,1415.6 L915.0,1415.6 L916.5,1415.6 L918.0,1415.6 L919.5,1415.7 L921.0,1415.7 L922.5,1415.7 L924.0,1415.7 L925.5,1415.8 L927.0,1415.8 L928.5,1415.8 L930.0,1415.8 L931.5,1415.9 L933.0,1415.9 L934.5,1415.9 L936.0,1415.9 L937.5,1415.9 L939.0,1416.0 L940.5,1416.0 L942.0,1416.0 L943.5,1416.0 L945.0,1416.1 L946.5,1416.1 L948.0,1416.1 L949.5,1416.1 L951.0,1416.2 L952.5,1416.2 L954.0,1416.2 L955.5,1416.2 L957.0,1416.2 L958.5,1416.3 L960.0,1416.3 L961.5,1416.3 L963.0,1416.3 L964.5,1416.4 L966.0,1416.4 L967.5,1416.4 L969.0,1416.4 L970.5,1416.4 L972.0,1416.5 L973.5,1416.5 L975.0,1416.5 L976.5,1416.5 L978.0,1416.5 L979.5,1416.6 L981.0,1416.6 L982.5,1416.6 L984.0,1416.6 L985.5,1416.6 L987.0,1416.7 L988.5,1416.7 L990.0,1416.7 L991.5,1416.7 L993.0,1416.7 L994.5,1416.8 L996.0,1416.8 L997.5,1416.8 L999.0,1416.8 L1000.5,1416.8 L1002.0,1416.9 L1003.5,1416.9 L1005.0,1416.9 L1006.5,1416.9 L1008.0,1416.9 L1009.5,1417.0 L1011.0,1417.0 L1012.5,1417.0 L1014.0,1417.0 L1015.5,1417.0 L1017.0,1417.0 L1018.5,1417.1 L1020.0,1417.1 L1021.5,1417.1 L1023.0,1417.1 L1024.5,1417.1 L1026.0,1417.1 L1027.5,1417.2 L1029.0,1417.2 L1030.5,1417.2 L1032.0,1417.2 L1033.5,1417.2 L1035.0,1417.3 L1036.5,1417.3 L1038.0,1417.3 L1039.5,1417.3 L1041.0,1417.3 L1042.5,1417.3 L1044.0,1417.4 L1045.5,1417.4 L1047.0,1417.4 L1048.5,1417.4 L1050.0,1417.4 L1051.5,1417.4 L1053.0,1417.5 L1054.5,1417.5 L1056.0,1417.5 L1057.5,1417.5 L1059.0,1417.5 L1060.6,1417.5 L1062.1,1417.5 L1063.6,1417.6 L1065.1,1417.6 L1066.6,1417.6 L1068.1,1417.6 L1069.6,1417.6 L1071.1,1417.6 L1072.6,1417.7 L1074.1,1417.7 L1075.6,1417.7 L1077.1,1417.7 L1078.6,1417.7 L1080.1,1417.7 L1081.6,1417.7 L1083.1,1417.8 L1084.6,1417.8 L1086.1,1417.8 L1087.6,1417.8 L1089.1,1417.8 L1090.6,1417.8 L1092.1,1417.8 L1093.6,1417.9 L1095.1,1417.9 L1096.6,1417.9 L1098.1,1417.9 L1099.6,1417.9 L1101.1,1417.9 L1102.6,1417.9 L1104.1,1418.0 L1105.6,1418.0 L1107.1,1418.0 L1108.6,1418.0 L1110.1,1418.0 L1111.6,1418.0 L1113.1,1418.0 L1114.6,1418.0 L1116.1,1418.1 L1117.6,1418.1 L1119.1,1418.1 L1120.6,1418.1 L1122.1,1418.1 L1123.6,1418.1 L1125.1,1418.1 L1126.6,1418.1 L1128.1,1418.2 L1129.6,1418.2 L1131.1,1418.2 L1132.6,1418.2 L1134.1,1418.2 L1135.6,1418.2 L1137.1,1418.2 L1138.6,1418.2 L1140.1,1418.3 L1141.6,1418.3 L1143.1,1418.3 L1144.6,1418.3 L1146.1,1418.3 L1147.6,1418.3 L1149.1,1418.3 L1150.6,1418.3 L1152.1,1418.4 L1153.6,1418.4 L1155.1,1418.4 L1156.6,1418.4 L1158.1,1418.4 L1159.6,1418.4 L1161.1,1418.4 L1162.6,1418.4 L1164.1,1418.4 L1165.6,1418.5 L1167.1,1418.5 L1168.6,1418.5 L1170.1,1418.5 L1171.6,1418.5 L1173.1,1418.5 L1174.6,1418.5 L1176.1,1418.5 L1177.6,1418.5 L1179.1,1418.6 L1180.6,1418.6 L1182.1,1418.6 L1183.6,1418.6 L1185.1,1418.6 L1186.6,1418.6 L1188.1,1418.6 L1189.6,1418.6 L1191.1,1418.6 L1192.6,1418.7 L1194.1,1418.7 L1195.6,1418.7 L1197.1,1418.7 L1198.6,1418.7 L1200.1,1418.7 L1201.6,1418.7 L1203.1,1418.7 L1204.6,1418.7 L1206.1,1418.7 L1207.6,1418.8 L1209.1,1418.8 L1210.6,1418.8 L1212.1,1418.8 L1213.6,1418.8 L1215.1,1418.8 L1216.6,1418.8 L1218.1,1418.8 L1219.6,1418.8 L1221.1,1418.8 L1222.6,1418.9 L1224.2,1418.9 L1225.7,1418.9 L1227.2,1418.9 L1228.7,1418.9 L1230.2,1418.9 L1231.7,1418.9 L1233.2,1418.9 L1234.7,1418.9 L1236.2,1418.9 L1237.7,1418.9 L1239.2,1419.0 L1240.7,1419.0 L1242.2,1419.0 L1243.7,1419.0 L1245.2,1419.0 L1246.7,1419.0 L1248.2,1419.0 L1249.7,1419.0 L1251.2,1419.0 L1252.7,1419.0 L1254.2,1419.0 L1255.7,1419.1 L1257.2,1419.1 L1258.7,1419.1 L1260.2,1419.1 L1261.7,1419.1 L1263.2,1419.1 L1264.7,1419.1 L1266.2,1419.1 L1267.7,1419.1 L1269.2,1419.1 L1270.7,1419.1 L1272.2,1419.2 L1273.7,1419.2 L1275.2,1419.2 L1276.7,1419.2 L1278.2,1419.2 L1279.7,1419.2 L1281.2,1419.2 L1282.7,1419.2 L1284.2,1419.2 L1285.7,1419.2 L1287.2,1419.2 L1288.7,1419.3 L1290.2,1419.3 L1291.7,1419.3 L1293.2,1419.3 L1294.7,1419.3 L1296.2,1419.3 L1297.7,1419.3 L1299.2,1419.3 L1300.7,1419.3 L1302.2,1419.3 L1303.7,1419.3 L1305.2,1419.3 L1306.7,1419.4 L1308.2,1419.4 L1309.7,1419.4 L1311.2,1419.4 L1312.7,1419.4 L1314.2,1419.4 L1315.7,1419.4 L1317.2,1419.4 L1318.7,1419.4 L1320.2,1419.4 L1321.7,1419.4 L1323.2,1419.5 L1324.7,1419.5 L1326.2,1419.5 L1327.7,1419.5 L1329.2,1419.5 L1330.7,1419.5 L1332.2,1419.5 L1333.7,1419.5 L1335.2,1419.5 L1336.7,1419.5 L1338.2,1419.5 L1339.7,1419.5 L1341.2,1419.6 L1342.7,1419.6 L1344.2,1419.6 L1345.7,1419.6 L1347.2,1419.6 L1348.7,1419.6 L1350.2,1419.6 L1351.7,1419.6 L1353.2,1419.6 L1354.7,1419.6 L1356.2,1419.6 L1357.7,1419.6 L1359.2,1419.7 L1360.7,1419.7 L1362.2,1419.7 L1363.7,1419.7 L1365.2,1419.7 L1366.7,1419.7 L1368.2,1419.7 L1369.7,1419.7 L1371.3,1419.7 L1372.8,1419.7 L1374.3,1419.7 L1375.8,1419.8 L1377.3,1419.8 L1378.8,1419.8 L1380.3,1419.8 L1381.8,1419.8 L1383.3,1419.8 L1384.8,1419.8 L1386.3,1419.8 L1387.8,1419.8 L1389.3,1419.8 L1390.8,1419.8 L1392.3,1419.8 L1393.8,1419.9 L1395.3,1419.9 L1396.8,1419.9 L1398.3,1419.9 L1399.8,1419.9 L1401.3,1419.9 L1402.8,1419.9 L1404.3,1419.9 L1405.8,1419.9 L1407.3,1419.9 L1408.8,1419.9 L1410.3,1420.0 L1411.8,1420.0 L1413.3,1420.0 L1414.8,1420.0 L1416.3,1420.0 L1417.8,1420.0 L1419.3,1420.0 L1420.8,1420.0 L1422.3,1420.0 L1423.8,1420.0 L1425.3,1420.0 L1426.8,1420.1 L1428.3,1420.1 L1429.8,1420.1 L1431.3,1420.1 L1432.8,1420.1 L1434.3,1420.1 L1435.8,1420.1 L1437.3,1420.1 L1438.8,1420.1 L1440.3,1420.1 L1441.8,1420.2 L1443.3,1420.2 L1444.8,1420.2 L1446.3,1420.2 L1447.8,1420.2 L1449.3,1420.2 L1450.8,1420.2 L1452.3,1420.2 L1453.8,1420.2 L1455.3,1420.2 L1456.8,1420.3 L1458.3,1420.3 L1459.8,1420.3 L1461.3,1420.3 L1462.8,1420.3 L1464.3,1420.3 L1465.8,1420.3 L1467.3,1420.3 L1468.8,1420.3 L1470.3,1420.3 L1471.8,1420.4 L1473.3,1420.4 L1474.8,1420.4 L1476.3,1420.4 L1477.8,1420.4 L1479.3,1420.4 L1480.8,1420.4 L1482.3,1420.4 L1483.8,1420.4 L1485.3,1420.4 L1486.8,1420.5 L1488.3,1420.5 L1489.8,1420.5 L1491.3,1420.5 L1492.8,1420.5 L1494.3,1420.5 L1495.8,1420.5 L1497.3,1420.5 L1498.8,1420.5 L1500.3,1420.6 L1501.8,1420.6 L1503.3,1420.6 L1504.8,1420.6 L1506.3,1420.6 L1507.8,1420.6 L1509.3,1420.6 L1510.8,1420.6 L1512.3,1420.6 L1513.8,1420.7 L1515.3,1420.7 L1516.8,1420.7 L1518.3,1420.7 L1519.8,1420.7 L1521.3,1420.7 L1522.8,1420.7 L1524.3,1420.7 L1525.9,1420.8 L1527.4,1420.8 L1528.9,1420.8 L1530.4,1420.8 L1531.9,1420.8 L1533.4,1420.8 L1534.9,1420.8 L1536.4,1420.8 L1537.9,1420.9 L1539.4,1420.9 L1540.9,1420.9 L1542.4,1420.9 L1543.9,1420.9 L1545.4,1420.9 L1546.9,1420.9 L1548.4,1420.9 L1549.9,1421.0 L1551.4,1421.0 L1552.9,1421.0 L1554.4,1421.0 L1555.9,1421.0 L1557.4,1421.0 L1558.9,1421.0 L1560.4,1421.0 L1561.9,1421.1 L1563.4,1421.1 L1564.9,1421.1 L1566.4,1421.1 L1567.9,1421.1 L1569.4,1421.1 L1570.9,1421.1 L1572.4,1421.2 L1573.9,1421.2 L1575.4,1421.2 L1576.9,1421.2 L1578.4,1421.2 L1579.9,1421.2 L1581.4,1421.2 L1582.9,1421.3 L1584.4,1421.3 L1585.9,1421.3 L1587.4,1421.3 L1588.9,1421.3 L1590.4,1421.3 L1591.9,1421.3 L1593.4,1421.4 L1594.9,1421.4 L1596.4,1421.4 L1597.9,1421.4 L1599.4,1421.4 L1600.9,1421.4 L1602.4,1421.5 L1603.9,1421.5 L1605.4,1421.5 L1606.9,1421.5 L1608.4,1421.5 L1609.9,1421.5 L1611.4,1421.5 L1612.9,1421.6 L1614.4,1421.6 L1615.9,1421.6 L1617.4,1421.6 L1618.9,1421.6 L1620.4,1421.6 L1621.9,1421.7 L1623.4,1421.7 L1624.9,1421.7 L1626.4,1421.7 L1627.9,1421.7 L1629.4,1421.7 L1630.9,1421.8 L1632.4,1421.8 L1633.9,1421.8 L1635.4,1421.8 L1636.9,1421.8 L1638.4,1421.8 L1639.9,1421.9 L1641.4,1421.9 L1642.9,1421.9 L1644.4,1421.9 L1645.9,1421.9 L1647.4,1422.0 L1648.9,1422.0 L1650.4,1422.0 L1651.9,1422.0 L1653.4,1422.0 L1654.9,1422.0 L1656.4,1422.1 L1657.9,1422.1 L1659.4,1422.1 L1660.9,1422.1 L1662.4,1422.1 L1663.9,1422.2 L1665.4,1422.2 L1666.9,1422.2 L1668.4,1422.2 L1669.9,1422.2 L1671.4,1422.2 L1672.9,1422.3 L1674.4,1422.3 L1675.9,1422.3 L1677.4,1422.3 L1678.9,1422.3 L1680.4,1422.4 L1681.9,1422.4 L1683.4,1422.4 L1684.9,1422.4 L1686.4,1422.4 L1687.9,1422.5 L1689.4,1422.5 L1690.9,1422.5 L1692.4,1422.5 L1693.9,1422.6 L1695.4,1422.6 L1696.9,1422.6 L1698.4,1422.6 L1699.9,1422.6 L1701.4,1422.7 L1702.9,1422.7 L1704.4,1422.7 L1705.9,1422.7 L1707.4,1422.7 L1708.9,1422.8 L1710.4,1422.8 L1711.9,1422.8 L1713.4,1422.8 L1714.9,1422.9 L1716.4,1422.9 L1717.9,1422.9 L1719.4,1422.9 L1720.9,1422.9 L1722.4,1423.0 L1723.9,1423.0 L1725.5,1423.0 L1727.0,1423.0 L1728.5,1423.1 L1730.0,1423.1 L1731.5,1423.1 L1733.0,1423.1 L1734.5,1423.2 L1736.0,1423.2 L1737.5,1423.2 L1739.0,1423.2 L1740.5,1423.3 L1742.0,1423.3 L1743.5,1423.3 L1745.0,1423.3 L1746.5,1423.4 L1748.0,1423.4 L1749.5,1423.4 L1751.0,1423.4 L1752.5,1423.5 L1754.0,1423.5 L1755.5,1423.5 L1757.0,1423.5 L1758.5,1423.6 L1760.0,1423.6 L1761.5,1423.6 L1763.0,1423.6 L1764.5,1423.7 L1766.0,1423.7 L1767.5,1423.7 L1769.0,1423.7 L1770.5,1423.8 L1772.0,1423.8 L1773.5,1423.8 L1775.0,1423.8 L1776.5,1423.9 L1778.0,1423.9 L1779.5,1423.9 L1781.0,1424.0 L1782.5,1424.0 L1784.0,1424.0 L1785.5,1424.0 L1787.0,1424.1 L1788.5,1424.1 L1790.0,1424.1 L1791.5,1424.2 L1793.0,1424.2 L1794.5,1424.2 L1796.0,1424.2 L1797.5,1424.3 L1799.0,1424.3 L1800.5,1424.3 L1802.0,1424.4 L1803.5,1424.4 L1805.0,1424.4 L1806.5,1424.4 L1808.0,1424.5 L1809.5,1424.5 L1811.0,1424.5 L1812.5,1424.6 L1814.0,1424.6 L1815.5,1424.6 L1817.0,1424.7 L1818.5,1424.7 L1820.0,1424.7 L1821.5,1424.8 L1823.0,1424.8 L1824.5,1424.8 L1826.0,1424.8 L1827.5,1424.9 L1829.0,1424.9 L1830.5,1424.9 L1832.0,1425.0 L1833.5,1425.0 L1835.0,1425.0 L1836.5,1425.1 L1838.0,1425.1 L1839.5,1425.1 L1841.0,1425.2 L1842.5,1425.2 L1844.0,1425.2 L1845.5,1425.3 L1847.0,1425.3 L1848.5,1425.3 L1850.0,1425.4 L1851.5,1425.4 L1853.0,1425.4 L1854.5,1425.5 L1856.0,1425.5 L1857.5,1425.5 L1859.0,1425.6 L1860.5,1425.6 L1862.0,1425.5" stroke="#000" stroke-width="8.5"/>
<path class="c" d="M43.3,358.0 L43.7,356.8 L44.0,355.7 L44.3,354.5 L44.5,353.2 L44.7,351.8 L44.8,350.3 L44.9,348.8 L45.0,347.2 L45.0,345.6 L45.0,344.0 L45.0,342.3 L45.0,340.6 L45.0,338.9 L45.0,337.1 L45.1,335.4 L45.1,333.7 L45.2,332.0 L45.3,330.3 L45.4,328.6 L45.6,327.0 L45.8,325.4 L46.1,323.8 L46.4,322.3 L46.9,320.9 L47.4,319.5 L47.9,318.2 L48.6,317.0 L49.4,315.9 L50.3,314.9 L51.2,314.0 L52.3,313.2 L53.6,312.6 L54.9,312.0 L56.3,311.5 L57.7,311.0 L59.2,310.6 L60.7,310.2 L62.2,309.8 L63.7,309.4 L65.2,308.9 L66.6,308.4 L67.9,307.8 L69.2,307.1 L70.4,306.3 L71.5,305.5 L72.6,304.6 L73.7,303.6 L74.6,302.6 L75.6,301.5 L76.5,300.4 L77.3,299.2 L78.1,298.0 L78.9,296.7 L79.6,295.5 L80.3,294.2 L81.0,292.8 L81.6,291.5 L82.3,290.1 L82.9,288.8 L83.5,287.4 L84.1,286.0 L84.6,284.6 L85.2,283.2 L85.7,281.7 L86.2,280.3 L86.7,278.9 L87.2,277.4 L87.7,276.0 L88.2,274.5 L88.6,273.1 L89.1,271.6 L89.5,270.2 L90.0,268.7 L90.4,267.3 L90.9,265.8 L91.3,264.3 L91.7,262.9 L92.2,261.4 L92.6,260.0 L93.0,258.5 L93.5,257.1 L93.9,255.6 L94.3,254.2 L94.8,252.8 L95.2,251.4 L95.7,250.0 L96.1,248.5 L96.6,247.1 L97.1,245.7 L97.5,244.4 L98.0,243.0 L98.5,241.6 L99.0,240.2 L99.5,238.8 L100.1,237.4 L100.6,236.0 L101.1,234.6 L101.7,233.2 L102.3,231.7 L102.8,230.3 L103.4,228.9 L104.0,227.4 L104.7,226.0 L105.3,224.5 L105.9,223.0 L106.6,221.6 L107.4,220.3 L108.3,219.5 L109.5,219.1 L110.7,219.1 L112.0,219.4 L113.1,220.1 L114.1,220.9 L115.0,222.0 L115.7,223.2 L116.4,224.5 L116.9,226.0 L117.4,227.5 L117.8,229.1 L118.2,230.7 L118.5,232.4 L118.9,234.0 L119.3,235.6 L119.6,237.2 L120.1,238.7 L120.5,240.2 L120.9,241.6 L121.3,243.1 L121.8,244.5 L122.2,245.9 L122.7,247.3 L123.1,248.7 L123.5,250.1 L124.0,251.5 L124.4,252.8 L124.8,254.2 L125.2,255.6 L125.7,257.1 L126.1,258.5 L126.5,259.9 L126.8,261.3 L127.2,262.7 L127.6,264.2 L128.0,265.6 L128.3,267.0 L128.7,268.5 L129.1,269.9 L129.4,271.4 L129.8,272.8 L130.1,274.3 L130.5,275.7 L130.8,277.2 L131.2,278.7 L131.5,280.1 L131.9,281.6 L132.2,283.0 L132.6,284.5 L132.9,286.0 L133.2,287.5 L133.6,288.9 L133.9,290.4 L134.3,291.9 L134.6,293.3 L135.0,294.8 L135.4,296.3 L135.7,297.7 L136.1,299.2 L136.5,300.7 L136.8,302.1 L137.2,303.6 L137.6,305.0 L138.0,306.5 L138.4,308.0 L138.8,309.4 L139.2,310.9 L139.6,312.3 L140.0,313.8 L140.4,315.2 L140.8,316.7 L141.2,318.1 L141.6,319.6 L142.1,321.0 L142.5,322.4 L142.9,323.9 L143.3,325.3 L143.8,326.8 L144.2,328.2 L144.7,329.6 L145.1,331.1 L145.5,332.5 L146.0,333.9 L146.4,335.4 L146.9,336.8 L147.3,338.2 L147.8,339.7 L148.3,341.1 L148.7,342.5 L149.2,344.0 L149.7,345.4 L150.1,346.8 L150.6,348.3 L151.1,349.7 L151.5,351.1 L152.0,352.5 L152.5,354.0 L152.9,355.4 L153.4,356.8 L153.9,358.2 L154.4,359.7 L154.9,361.1 L155.3,362.5 L155.8,363.9 L156.3,365.3 L156.8,366.8 L157.3,368.2 L157.7,369.6 L158.2,371.0 L158.7,372.5 L159.2,373.9 L159.7,375.3 L160.1,376.7 L160.6,378.1 L161.1,379.6 L161.6,381.0 L162.1,382.4 L162.5,383.8 L163.0,385.2 L163.5,386.7 L164.0,388.1 L164.5,389.5 L164.9,390.9 L165.4,392.4 L165.9,393.8 L166.3,395.2 L166.8,396.6 L167.3,398.1 L167.8,399.5 L168.2,400.9 L168.7,402.3 L169.1,403.8 L169.6,405.2 L170.1,406.6 L170.5,408.1 L171.0,409.5 L171.4,410.9 L171.9,412.3 L172.3,413.8 L172.8,415.2 L173.2,416.6 L173.7,418.1 L174.1,419.5 L174.5,420.9 L175.0,422.4 L175.4,423.8 L175.8,425.3 L176.3,426.7 L176.7,428.1 L177.1,429.6 L177.6,431.0 L178.0,432.4 L178.4,433.9 L178.9,435.3 L179.3,436.8 L179.7,438.2 L180.1,439.6 L180.6,441.1 L181.0,442.5 L181.4,444.0 L181.8,445.4 L182.2,446.8 L182.7,448.3 L183.1,449.7 L183.5,451.2 L183.9,452.6 L184.3,454.0 L184.8,455.5 L185.2,456.9 L185.6,458.4 L186.0,459.8 L186.4,461.3 L186.9,462.7 L187.3,464.1 L187.7,465.6 L188.1,467.0 L188.5,468.5 L189.0,469.9 L189.4,471.3 L189.8,472.8 L190.2,474.2 L190.7,475.7 L191.1,477.1 L191.5,478.5 L192.0,480.0 L192.4,481.4 L192.8,482.9 L193.2,484.3 L193.7,485.7 L194.1,487.2 L194.6,488.6 L195.0,490.0 L195.4,491.5 L195.9,492.9 L196.3,494.3 L196.8,495.8 L197.2,497.2 L197.7,498.6 L198.1,500.1 L198.6,501.5 L199.0,502.9 L199.5,504.4 L199.9,505.8 L200.4,507.2 L200.9,508.7 L201.3,510.1 L201.8,511.5 L202.3,512.9 L202.8,514.4 L203.2,515.8 L203.7,517.2 L204.2,518.6 L204.7,520.0 L205.2,521.5 L205.7,522.9 L206.2,524.3 L206.7,525.7 L207.2,527.1 L207.7,528.6 L208.2,530.0 L208.7,531.4 L209.2,532.8 L209.7,534.2 L210.3,535.6 L210.8,537.0 L211.3,538.4 L211.9,539.8 L212.4,541.2 L212.9,542.6 L213.5,544.0 L214.0,545.4 L214.6,546.8 L215.2,548.2 L215.7,549.6 L216.3,551.0 L216.9,552.4 L217.5,553.8 L218.0,555.2 L218.6,556.6 L219.2,558.0 L219.8,559.4 L220.4,560.8 L221.0,562.1 L221.6,563.5 L222.3,564.9 L222.9,566.3 L223.5,567.7 L224.2,569.0 L224.8,570.4 L225.5,571.7 L226.2,573.1 L226.9,574.4 L227.6,575.7 L228.4,577.0 L229.1,578.3 L229.9,579.5 L230.7,580.7 L231.6,581.9 L232.5,583.1 L233.4,584.3 L234.3,585.4 L235.3,586.5 L236.4,587.6 L237.4,588.6 L238.5,589.6 L239.7,590.5 L240.9,591.4 L242.2,592.2 L243.5,592.9 L244.9,593.5 L246.3,593.9 L247.9,594.0 L249.5,594.0 L251.1,593.9 L252.7,593.7 L254.4,593.5 L256.0,593.4 L257.5,593.4 L259.0,593.6 L260.4,594.0 L261.6,594.6 L262.8,595.4 L263.9,596.4 L265.0,597.4 L266.0,598.5 L267.0,599.6 L268.0,600.8 L268.9,601.9 L269.9,603.1 L270.8,604.3 L271.7,605.5 L272.6,606.7 L273.5,607.9 L274.3,609.1 L275.1,610.4 L275.9,611.6 L276.7,612.9 L277.5,614.2 L278.3,615.5 L279.0,616.8 L279.8,618.1 L280.5,619.4 L281.2,620.7 L281.9,622.0 L282.6,623.4 L283.2,624.7 L283.9,626.1 L284.5,627.4 L285.2,628.8 L285.8,630.2 L286.4,631.5 L287.0,632.9 L287.6,634.3 L288.2,635.7 L288.8,637.1 L289.4,638.5 L289.9,639.9 L290.5,641.3 L291.0,642.7 L291.6,644.1 L292.1,645.6 L292.7,647.0 L293.2,648.4 L293.7,649.8 L294.3,651.2 L294.8,652.7 L295.3,654.1 L295.8,655.5 L296.4,656.9 L296.9,658.3 L297.4,659.8 L297.9,661.2 L298.5,662.6 L299.0,664.0 L299.5,665.4 L300.1,666.8 L300.6,668.2 L301.2,669.6 L301.8,671.0 L302.3,672.4 L302.9,673.7 L303.5,675.1 L304.1,676.4 L304.8,677.8 L305.4,679.1 L306.1,680.5 L306.7,681.8 L307.4,683.1 L308.1,684.4 L308.9,685.7 L309.6,686.9 L310.4,688.2 L311.2,689.4 L312.0,690.7 L312.8,691.9 L313.6,693.1 L314.5,694.3 L315.4,695.5 L316.2,696.7 L317.1,697.9 L318.1,699.1 L319.0,700.2 L319.9,701.4 L320.9,702.6 L321.8,703.7 L322.8,704.8 L323.8,706.0 L324.8,707.1 L325.8,708.2 L326.8,709.3 L327.8,710.4 L328.9,711.5 L329.9,712.7 L330.9,713.8 L332.0,714.9 L333.0,715.9 L334.0,717.0 L335.1,718.1 L336.2,719.2 L337.2,720.3 L338.3,721.4 L339.3,722.5 L340.4,723.6 L341.4,724.7 L342.5,725.8 L343.5,726.9 L344.6,728.0 L345.6,729.1 L346.6,730.2 L347.7,731.3 L348.7,732.4 L349.7,733.5 L350.7,734.6 L351.7,735.7 L352.7,736.8 L353.7,738.0 L354.7,739.1 L355.6,740.3 L356.6,741.4 L357.5,742.6 L358.4,743.7 L359.3,744.9 L360.2,746.1 L361.1,747.3 L362.0,748.5 L362.8,749.7 L363.7,750.9 L364.5,752.1 L365.3,753.4 L366.1,754.6 L366.8,755.9 L367.6,757.2 L368.3,758.4 L369.1,759.7 L369.8,761.0 L370.5,762.3 L371.1,763.6 L371.8,765.0 L372.5,766.3 L373.1,767.6 L373.7,769.0 L374.3,770.3 L374.9,771.7 L375.5,773.0 L376.1,774.4 L376.7,775.8 L377.3,777.2 L377.8,778.6 L378.4,780.0 L378.9,781.4 L379.4,782.8 L379.9,784.2 L380.4,785.6 L380.9,787.0 L381.4,788.4 L381.9,789.9 L382.4,791.3 L382.9,792.7 L383.4,794.2 L383.8,795.6 L384.3,797.1 L384.7,798.5 L385.2,800.0 L385.6,801.4 L386.1,802.9 L386.5,804.3 L387.0,805.8 L387.4,807.2 L387.8,808.7 L388.3,810.2 L388.7,811.6 L389.2,813.1 L389.6,814.5 L390.0,816.0 L390.5,817.5 L390.9,818.9 L391.3,820.4 L391.8,821.8 L392.2,823.3 L392.7,824.8 L393.1,826.2 L393.6,827.7 L394.0,829.1 L394.5,830.6 L394.9,832.0 L395.4,833.5 L395.9,834.9 L396.4,836.3 L396.8,837.8 L397.3,839.2 L397.8,840.6 L398.3,842.1 L398.8,843.5 L399.4,844.9 L399.9,846.3 L400.4,847.7 L401.0,849.1 L401.5,850.5 L402.1,851.9 L402.7,853.3 L403.3,854.7 L403.9,856.0 L404.5,857.4 L405.1,858.7 L405.7,860.1 L406.4,861.4 L407.0,862.8 L407.7,864.1 L408.4,865.4 L409.1,866.7 L409.8,868.0 L410.5,869.3 L411.2,870.6 L412.0,871.9 L412.7,873.2 L413.5,874.5 L414.3,875.8 L415.1,877.0 L415.9,878.3 L416.7,879.5 L417.5,880.8 L418.3,882.0 L419.2,883.2 L420.0,884.5 L420.9,885.7 L421.7,886.9 L422.6,888.1 L423.5,889.3 L424.3,890.5 L425.2,891.7 L426.1,892.9 L427.0,894.1 L428.0,895.3 L428.9,896.5 L429.8,897.7 L430.7,898.9 L431.7,900.0 L432.6,901.2 L433.6,902.4 L434.5,903.5 L435.5,904.7 L436.4,905.9 L437.4,907.0 L438.4,908.2 L439.3,909.3 L440.3,910.5 L441.3,911.6 L442.3,912.8 L443.3,913.9 L444.3,915.1 L445.3,916.2 L446.2,917.3 L447.2,918.5 L448.2,919.6 L449.2,920.8 L450.2,921.9 L451.2,923.0 L452.2,924.2 L453.2,925.3 L454.2,926.5 L455.2,927.6 L456.2,928.7 L457.2,929.9 L458.2,931.0 L459.2,932.2 L460.2,933.3 L461.2,934.4 L462.2,935.6 L463.2,936.7 L464.1,937.9 L465.1,939.0 L466.1,940.2 L467.1,941.3 L468.0,942.5 L469.0,943.6 L470.0,944.8 L470.9,945.9 L471.9,947.1 L472.8,948.3 L473.8,949.4 L474.7,950.6 L475.7,951.8 L476.6,952.9 L477.6,954.1 L478.5,955.3 L479.4,956.4 L480.4,957.6 L481.3,958.8 L482.2,960.0 L483.2,961.1 L484.1,962.3 L485.0,963.5 L485.9,964.7 L486.9,965.8 L487.8,967.0 L488.7,968.2 L489.6,969.4 L490.5,970.5 L491.5,971.7 L492.4,972.9 L493.3,974.1 L494.2,975.3 L495.1,976.4 L496.1,977.6 L497.0,978.8 L497.9,980.0 L498.8,981.1 L499.8,982.3 L500.7,983.5 L501.6,984.7 L502.5,985.8 L503.5,987.0 L504.4,988.2 L505.3,989.3 L506.3,990.5 L507.2,991.7 L508.2,992.8 L509.1,994.0 L510.0,995.2 L511.0,996.3 L511.9,997.5 L512.9,998.6 L513.9,999.8 L514.8,1000.9 L515.8,1002.1 L516.8,1003.2 L517.7,1004.4 L518.7,1005.5 L519.7,1006.7 L520.7,1007.8 L521.6,1008.9 L522.6,1010.1 L523.6,1011.2 L524.6,1012.3 L525.6,1013.5 L526.6,1014.6 L527.6,1015.7 L528.6,1016.8 L529.6,1018.0 L530.6,1019.1 L531.7,1020.2 L532.7,1021.3 L533.7,1022.4 L534.7,1023.5 L535.7,1024.7 L536.7,1025.8 L537.8,1026.9 L538.8,1028.0 L539.8,1029.1 L540.8,1030.2 L541.8,1031.3 L542.9,1032.5 L543.9,1033.6 L544.9,1034.7 L545.9,1035.8 L546.9,1036.9 L548.0,1038.0 L549.0,1039.1 L550.0,1040.2 L551.0,1041.3 L552.0,1042.5 L553.0,1043.6 L554.1,1044.7 L555.1,1045.8 L556.1,1046.9 L557.1,1048.0 L558.1,1049.1 L559.1,1050.3 L560.1,1051.4 L561.1,1052.5 L562.1,1053.6 L563.1,1054.7 L564.1,1055.9 L565.0,1057.0 L566.0,1058.1 L567.0,1059.3 L568.0,1060.4 L568.9,1061.5 L569.9,1062.7 L570.9,1063.8 L571.8,1064.9 L572.8,1066.1 L573.7,1067.2 L574.7,1068.4 L575.6,1069.5 L576.6,1070.6 L577.5,1071.8 L578.5,1072.9 L579.4,1074.1 L580.4,1075.2 L581.4,1076.3 L582.3,1077.5 L583.3,1078.6 L584.2,1079.7 L585.2,1080.9 L586.2,1082.0 L587.2,1083.1 L588.1,1084.2 L589.1,1085.4 L590.1,1086.5 L591.1,1087.6 L592.1,1088.7 L593.1,1089.8 L594.2,1090.9 L595.2,1092.0 L596.2,1093.1 L597.3,1094.1 L598.4,1095.2 L599.4,1096.3 L600.5,1097.3 L601.6,1098.4 L602.7,1099.5 L603.8,1100.5 L604.9,1101.6 L606.0,1102.6 L607.1,1103.7 L608.2,1104.7 L609.3,1105.8 L610.4,1106.8 L611.5,1107.9 L612.6,1108.9 L613.7,1110.0 L614.8,1111.0 L615.9,1112.1 L617.0,1113.1 L618.1,1114.2 L619.1,1115.2 L620.2,1116.3 L621.3,1117.4 L622.3,1118.4 L623.4,1119.5 L624.4,1120.6 L625.5,1121.7 L626.5,1122.8 L627.5,1123.9 L628.5,1125.0 L629.5,1126.1 L630.4,1127.3 L631.4,1128.4 L632.3,1129.5 L633.3,1130.7 L634.2,1131.8 L635.1,1133.0 L636.0,1134.2 L636.9,1135.3 L637.8,1136.5 L638.6,1137.7 L639.5,1138.9 L640.4,1140.1 L641.2,1141.3 L642.0,1142.5 L642.9,1143.7 L643.7,1145.0 L644.5,1146.2 L645.3,1147.4 L646.1,1148.7 L646.9,1149.9 L647.7,1151.2 L648.5,1152.4 L649.3,1153.7 L650.0,1154.9 L650.8,1156.2 L651.6,1157.5 L652.3,1158.8 L653.1,1160.0 L653.8,1161.3 L654.6,1162.6 L655.3,1163.9 L656.1,1165.2 L656.8,1166.5 L657.6,1167.8 L658.3,1169.1 L659.1,1170.4 L659.8,1171.8 L660.5,1173.1 L661.3,1174.4 L662.0,1175.7 L662.8,1177.0 L663.5,1178.4 L664.2,1179.7 L665.0,1181.0 L665.7,1182.4 L666.5,1183.7 L667.2,1185.1 L668.0,1186.4 L668.7,1187.7 L669.5,1189.1 L670.3,1190.4 L671.0,1191.8 L671.8,1193.1 L672.6,1194.5 L673.4,1195.8 L674.2,1197.1 L675.0,1198.5 L675.8,1199.8 L676.6,1201.1 L677.4,1202.4 L678.2,1203.7 L679.0,1205.0 L679.9,1206.3 L680.7,1207.6 L681.6,1208.9 L682.4,1210.2 L683.3,1211.4 L684.2,1212.7 L685.0,1213.9 L685.9,1215.2 L686.9,1216.4 L687.8,1217.6 L688.7,1218.8 L689.6,1220.0 L690.6,1221.1 L691.6,1222.3 L692.5,1223.4 L693.5,1224.6 L694.5,1225.7 L695.5,1226.7 L696.6,1227.8 L697.6,1228.9 L698.7,1229.9 L699.7,1230.9 L700.8,1232.0 L701.9,1233.0 L703.0,1233.9 L704.1,1234.9 L705.2,1235.9 L706.3,1236.8 L707.5,1237.7 L708.6,1238.6 L709.8,1239.5 L710.9,1240.4 L712.1,1241.3 L713.3,1242.1 L714.5,1243.0 L715.7,1243.8 L716.9,1244.6 L718.2,1245.4 L719.4,1246.2 L720.6,1247.0 L721.9,1247.7 L723.2,1248.5 L724.4,1249.2 L725.7,1249.9 L727.0,1250.7 L728.3,1251.4 L729.6,1252.1 L730.9,1252.7 L732.2,1253.4 L733.6,1254.1 L734.9,1254.7 L736.2,1255.3 L737.6,1256.0 L738.9,1256.6 L740.3,1257.2 L741.6,1257.8 L743.0,1258.4 L744.4,1258.9 L745.8,1259.5 L747.2,1260.0 L748.6,1260.6 L750.0,1261.1 L751.4,1261.7 L752.8,1262.2 L754.2,1262.7 L755.6,1263.2 L757.0,1263.7 L758.5,1264.1 L759.9,1264.6 L761.3,1265.1 L762.8,1265.5 L764.2,1266.0 L765.7,1266.4 L767.1,1266.9 L768.6,1267.3 L770.0,1267.7 L771.5,1268.1 L772.9,1268.5 L774.4,1268.9 L775.9,1269.3 L777.4,1269.7 L778.8,1270.1 L780.3,1270.4 L781.8,1270.8 L783.3,1271.2 L784.7,1271.5 L786.2,1271.9 L787.7,1272.2 L789.2,1272.5 L790.7,1272.9 L792.1,1273.2 L793.6,1273.5 L795.1,1273.8 L796.6,1274.1 L798.1,1274.5 L799.6,1274.8 L801.1,1275.1 L802.5,1275.3 L804.0,1275.6 L805.5,1275.9 L807.0,1276.2 L808.5,1276.5 L810.0,1276.7 L811.5,1277.0 L813.0,1277.3 L814.4,1277.5 L815.9,1277.8 L817.4,1278.0 L818.9,1278.3 L820.4,1278.5 L821.9,1278.8 L823.4,1279.0 L824.9,1279.2 L826.4,1279.4 L827.8,1279.7 L829.3,1279.9 L830.8,1280.1 L832.3,1280.3 L833.8,1280.5 L835.3,1280.7 L836.8,1280.9 L838.3,1281.1 L839.8,1281.3 L841.3,1281.5 L842.7,1281.7 L844.2,1281.9 L845.7,1282.0 L847.2,1282.2 L848.7,1282.4 L850.2,1282.5 L851.7,1282.7 L853.2,1282.9 L854.7,1283.0 L856.2,1283.2 L857.7,1283.3 L859.2,1283.5 L860.7,1283.6 L862.2,1283.8 L863.6,1283.9 L865.1,1284.0 L866.6,1284.2 L868.1,1284.3 L869.6,1284.4 L871.1,1284.5 L872.6,1284.7 L874.1,1284.8 L875.6,1284.9 L877.1,1285.0 L878.6,1285.1 L880.1,1285.2 L881.6,1285.3 L883.1,1285.4 L884.6,1285.5 L886.1,1285.6 L887.6,1285.7 L889.1,1285.8 L890.6,1285.9 L892.1,1286.0 L893.6,1286.1 L895.0,1286.2 L896.5,1286.2 L898.0,1286.3 L899.5,1286.4 L901.0,1286.5 L902.5,1286.5 L904.0,1286.6 L905.5,1286.7 L907.0,1286.7 L908.5,1286.8 L910.0,1286.9 L911.5,1286.9 L913.0,1287.0 L914.5,1287.0 L916.0,1287.1 L917.5,1287.1 L919.0,1287.2 L920.5,1287.2 L922.0,1287.3 L923.5,1287.3 L925.0,1287.4 L926.5,1287.4 L928.0,1287.5 L929.5,1287.5 L931.0,1287.5 L932.5,1287.6 L934.0,1287.6 L935.5,1287.6 L937.0,1287.7 L938.5,1287.7 L940.0,1287.7 L941.5,1287.8 L943.0,1287.8 L944.5,1287.8 L946.0,1287.8 L947.5,1287.9 L949.0,1287.9 L950.5,1287.9 L952.0,1287.9 L953.5,1288.0 L955.0,1288.0 L956.5,1288.0 L958.0,1288.0 L959.5,1288.0 L961.0,1288.1 L962.5,1288.1 L964.0,1288.1 L965.5,1288.1 L967.0,1288.1 L968.5,1288.1 L970.0,1288.1 L971.5,1288.2 L973.0,1288.2 L974.5,1288.2 L976.0,1288.2 L977.5,1288.2 L979.0,1288.2 L980.5,1288.2 L982.0,1288.2 L983.5,1288.2 L985.0,1288.3 L986.5,1288.3 L988.0,1288.3 L989.5,1288.3 L991.0,1288.3 L992.5,1288.3 L994.0,1288.3 L995.5,1288.3 L997.0,1288.3 L998.5,1288.4 L1000.0,1288.4 L1001.5,1288.4 L1003.0,1288.4 L1004.5,1288.4 L1006.0,1288.4 L1007.5,1288.4 L1009.0,1288.4 L1010.5,1288.4 L1012.0,1288.4 L1013.5,1288.4 L1015.0,1288.5 L1016.5,1288.5 L1018.0,1288.5 L1019.5,1288.5 L1021.0,1288.5 L1022.5,1288.5 L1024.0,1288.5 L1025.5,1288.5 L1027.0,1288.5 L1028.5,1288.5 L1030.0,1288.6 L1031.5,1288.6 L1033.0,1288.6 L1034.5,1288.6 L1036.0,1288.6 L1037.5,1288.6 L1039.0,1288.6 L1040.5,1288.6 L1042.0,1288.6 L1043.5,1288.6 L1045.0,1288.6 L1046.5,1288.6 L1048.0,1288.7 L1049.5,1288.7 L1051.0,1288.7 L1052.5,1288.7 L1054.0,1288.7 L1055.5,1288.7 L1057.0,1288.7 L1058.5,1288.7 L1060.0,1288.7 L1061.5,1288.7 L1063.0,1288.7 L1064.5,1288.7 L1066.0,1288.8 L1067.5,1288.8 L1069.0,1288.8 L1070.5,1288.8 L1072.0,1288.8 L1073.5,1288.8 L1075.0,1288.8 L1076.5,1288.8 L1078.0,1288.8 L1079.5,1288.8 L1081.0,1288.8 L1082.5,1288.8 L1084.0,1288.9 L1085.6,1288.9 L1087.1,1288.9 L1088.6,1288.9 L1090.1,1288.9 L1091.6,1288.9 L1093.1,1288.9 L1094.6,1288.9 L1096.1,1288.9 L1097.6,1288.9 L1099.1,1288.9 L1100.6,1288.9 L1102.1,1288.9 L1103.6,1288.9 L1105.1,1289.0 L1106.6,1289.0 L1108.1,1289.0 L1109.6,1289.0 L1111.1,1289.0 L1112.6,1289.0 L1114.1,1289.0 L1115.6,1289.0 L1117.1,1289.0 L1118.6,1289.0 L1120.1,1289.0 L1121.6,1289.0 L1123.1,1289.0 L1124.6,1289.0 L1126.1,1289.0 L1127.6,1289.1 L1129.1,1289.1 L1130.6,1289.1 L1132.1,1289.1 L1133.6,1289.1 L1135.1,1289.1 L1136.6,1289.1 L1138.1,1289.1 L1139.6,1289.1 L1141.1,1289.1 L1142.6,1289.1 L1144.1,1289.1 L1145.6,1289.1 L1147.1,1289.1 L1148.6,1289.1 L1150.1,1289.1 L1151.6,1289.2 L1153.1,1289.2 L1154.6,1289.2 L1156.1,1289.2 L1157.6,1289.2 L1159.1,1289.2 L1160.6,1289.2 L1162.1,1289.2 L1163.6,1289.2 L1165.1,1289.2 L1166.6,1289.2 L1168.1,1289.2 L1169.6,1289.2 L1171.1,1289.2 L1172.6,1289.2 L1174.1,1289.2 L1175.6,1289.2 L1177.1,1289.2 L1178.6,1289.3 L1180.1,1289.3 L1181.6,1289.3 L1183.1,1289.3 L1184.7,1289.3 L1186.2,1289.3 L1187.7,1289.3 L1189.2,1289.3 L1190.7,1289.3 L1192.2,1289.3 L1193.7,1289.3 L1195.2,1289.3 L1196.7,1289.3 L1198.2,1289.3 L1199.7,1289.3 L1201.2,1289.3 L1202.7,1289.3 L1204.2,1289.3 L1205.7,1289.3 L1207.2,1289.3 L1208.7,1289.3 L1210.2,1289.4 L1211.7,1289.4 L1213.2,1289.4 L1214.7,1289.4 L1216.2,1289.4 L1217.7,1289.4 L1219.2,1289.4 L1220.7,1289.4 L1222.2,1289.4 L1223.7,1289.4 L1225.2,1289.4 L1226.7,1289.4 L1228.2,1289.4 L1229.7,1289.4 L1231.2,1289.4 L1232.7,1289.4 L1234.2,1289.4 L1235.7,1289.4 L1237.2,1289.4 L1238.7,1289.4 L1240.2,1289.4 L1241.7,1289.4 L1243.2,1289.4 L1244.7,1289.4 L1246.2,1289.5 L1247.7,1289.5 L1249.2,1289.5 L1250.7,1289.5 L1252.2,1289.5 L1253.7,1289.5 L1255.2,1289.5 L1256.7,1289.5 L1258.2,1289.5 L1259.7,1289.5 L1261.2,1289.5 L1262.8,1289.5 L1264.3,1289.5 L1265.8,1289.5 L1267.3,1289.5 L1268.8,1289.5 L1270.3,1289.5 L1271.8,1289.5 L1273.3,1289.5 L1274.8,1289.5 L1276.3,1289.5 L1277.8,1289.5 L1279.3,1289.5 L1280.8,1289.5 L1282.3,1289.5 L1283.8,1289.5 L1285.3,1289.5 L1286.8,1289.5 L1288.3,1289.5 L1289.8,1289.5 L1291.3,1289.6 L1292.8,1289.6 L1294.3,1289.6 L1295.8,1289.6 L1297.3,1289.6 L1298.8,1289.6 L1300.3,1289.6 L1301.8,1289.6 L1303.3,1289.6 L1304.8,1289.6 L1306.3,1289.6 L1307.8,1289.6 L1309.3,1289.6 L1310.8,1289.6 L1312.3,1289.6 L1313.8,1289.6 L1315.3,1289.6 L1316.8,1289.6 L1318.3,1289.6 L1319.8,1289.6 L1321.3,1289.6 L1322.8,1289.6 L1324.3,1289.6 L1325.8,1289.6 L1327.3,1289.6 L1328.8,1289.6 L1330.3,1289.6 L1331.8,1289.6 L1333.4,1289.6 L1334.9,1289.6 L1336.4,1289.6 L1337.9,1289.6 L1339.4,1289.6 L1340.9,1289.6 L1342.4,1289.6 L1343.9,1289.6 L1345.4,1289.6 L1346.9,1289.6 L1348.4,1289.6 L1349.9,1289.6 L1351.4,1289.6 L1352.9,1289.6 L1354.4,1289.7 L1355.9,1289.7 L1357.4,1289.7 L1358.9,1289.7 L1360.4,1289.7 L1361.9,1289.7 L1363.4,1289.7 L1364.9,1289.7 L1366.4,1289.7 L1367.9,1289.7 L1369.4,1289.7 L1370.9,1289.7 L1372.4,1289.7 L1373.9,1289.7 L1375.4,1289.7 L1376.9,1289.7 L1378.4,1289.7 L1379.9,1289.7 L1381.4,1289.7 L1382.9,1289.7 L1384.4,1289.7 L1385.9,1289.7 L1387.4,1289.7 L1388.9,1289.7 L1390.4,1289.7 L1391.9,1289.7 L1393.4,1289.7 L1394.9,1289.7 L1396.4,1289.7 L1397.9,1289.7 L1399.5,1289.7 L1401.0,1289.7 L1402.5,1289.7 L1404.0,1289.7 L1405.5,1289.7 L1407.0,1289.7 L1408.5,1289.7 L1410.0,1289.7 L1411.5,1289.7 L1413.0,1289.7 L1414.5,1289.7 L1416.0,1289.7 L1417.5,1289.7 L1419.0,1289.7 L1420.5,1289.7 L1422.0,1289.7 L1423.5,1289.7 L1425.0,1289.7 L1426.5,1289.7 L1428.0,1289.7 L1429.5,1289.7 L1431.0,1289.7 L1432.5,1289.7 L1434.0,1289.7 L1435.5,1289.7 L1437.0,1289.7 L1438.5,1289.7 L1440.0,1289.7 L1441.5,1289.7 L1443.0,1289.7 L1444.5,1289.7 L1446.0,1289.7 L1447.5,1289.7 L1449.0,1289.7 L1450.5,1289.7 L1452.0,1289.7 L1453.5,1289.7 L1455.0,1289.7 L1456.5,1289.7 L1458.0,1289.7 L1459.5,1289.7 L1461.0,1289.7 L1462.5,1289.7 L1464.1,1289.7 L1465.6,1289.7 L1467.1,1289.7 L1468.6,1289.7 L1470.1,1289.7 L1471.6,1289.7 L1473.1,1289.7 L1474.6,1289.7 L1476.1,1289.7 L1477.6,1289.7 L1479.1,1289.7 L1480.6,1289.7 L1482.1,1289.7 L1483.6,1289.7 L1485.1,1289.7 L1486.6,1289.7 L1488.1,1289.7 L1489.6,1289.7 L1491.1,1289.7 L1492.6,1289.7 L1494.1,1289.7 L1495.6,1289.7 L1497.1,1289.7 L1498.6,1289.7 L1500.1,1289.7 L1501.6,1289.7 L1503.1,1289.7 L1504.6,1289.7 L1506.1,1289.7 L1507.6,1289.7 L1509.1,1289.7 L1510.6,1289.7 L1512.1,1289.7 L1513.6,1289.7 L1515.1,1289.7 L1516.6,1289.7 L1518.1,1289.7 L1519.6,1289.7 L1521.1,1289.7 L1522.6,1289.7 L1524.1,1289.7 L1525.6,1289.7 L1527.1,1289.7 L1528.6,1289.7 L1530.1,1289.7 L1531.7,1289.7 L1533.2,1289.7 L1534.7,1289.7 L1536.2,1289.7 L1537.7,1289.7 L1539.2,1289.7 L1540.7,1289.7 L1542.2,1289.7 L1543.7,1289.7 L1545.2,1289.7 L1546.7,1289.7 L1548.2,1289.7 L1549.7,1289.7 L1551.2,1289.7 L1552.7,1289.7 L1554.2,1289.7 L1555.7,1289.7 L1557.2,1289.7 L1558.7,1289.7 L1560.2,1289.7 L1561.7,1289.7 L1563.2,1289.7 L1564.7,1289.7 L1566.2,1289.7 L1567.7,1289.7 L1569.2,1289.7 L1570.7,1289.7 L1572.2,1289.7 L1573.7,1289.7 L1575.2,1289.7 L1576.7,1289.7 L1578.2,1289.7 L1579.7,1289.7 L1581.2,1289.7 L1582.7,1289.7 L1584.2,1289.7 L1585.7,1289.7 L1587.2,1289.7 L1588.7,1289.7 L1590.2,1289.7 L1591.7,1289.7 L1593.2,1289.7 L1594.7,1289.7 L1596.2,1289.7 L1597.7,1289.7 L1599.2,1289.7 L1600.7,1289.7 L1602.3,1289.7 L1603.8,1289.7 L1605.3,1289.7 L1606.8,1289.7 L1608.3,1289.7 L1609.8,1289.7 L1611.3,1289.7 L1612.8,1289.7 L1614.3,1289.7 L1615.8,1289.7 L1617.3,1289.7 L1618.8,1289.7 L1620.3,1289.7 L1621.8,1289.7 L1623.3,1289.7 L1624.8,1289.7 L1626.3,1289.7 L1627.8,1289.7 L1629.3,1289.7 L1630.8,1289.7 L1632.3,1289.7 L1633.8,1289.7 L1635.3,1289.7 L1636.8,1289.7 L1638.3,1289.7 L1639.8,1289.7 L1641.3,1289.7 L1642.8,1289.7 L1644.3,1289.7 L1645.8,1289.7 L1647.3,1289.7 L1648.8,1289.7 L1650.3,1289.7 L1651.8,1289.7 L1653.3,1289.7 L1654.8,1289.7 L1656.3,1289.7 L1657.8,1289.7 L1659.3,1289.7 L1660.8,1289.7 L1662.3,1289.7 L1663.8,1289.7 L1665.3,1289.7 L1666.8,1289.7 L1668.3,1289.7 L1669.8,1289.7 L1671.3,1289.7 L1672.8,1289.7 L1674.3,1289.7 L1675.8,1289.7 L1677.3,1289.7 L1678.8,1289.7 L1680.3,1289.7 L1681.8,1289.7 L1683.4,1289.7 L1684.9,1289.7 L1686.4,1289.7 L1687.9,1289.7 L1689.4,1289.7 L1690.9,1289.7 L1692.4,1289.7 L1693.9,1289.7 L1695.4,1289.7 L1696.9,1289.7 L1698.4,1289.7 L1699.9,1289.7 L1701.4,1289.7 L1702.9,1289.7 L1704.4,1289.7 L1705.9,1289.7 L1707.4,1289.7 L1708.9,1289.7 L1710.4,1289.7 L1711.9,1289.7 L1713.4,1289.7 L1714.9,1289.7 L1716.4,1289.7 L1717.9,1289.7 L1719.4,1289.7 L1720.9,1289.7 L1722.4,1289.7 L1723.9,1289.7 L1725.4,1289.7 L1726.9,1289.7 L1728.4,1289.7 L1729.9,1289.7 L1731.4,1289.7 L1732.9,1289.7 L1734.4,1289.7 L1735.9,1289.7 L1737.4,1289.7 L1738.9,1289.7 L1740.4,1289.7 L1741.9,1289.7 L1743.4,1289.7 L1744.9,1289.7 L1746.4,1289.7 L1747.9,1289.7 L1749.4,1289.7 L1750.9,1289.7 L1752.4,1289.7 L1753.9,1289.7 L1755.4,1289.7 L1756.9,1289.7 L1758.4,1289.7 L1759.9,1289.7 L1761.4,1289.7 L1762.9,1289.7 L1764.4,1289.7 L1765.9,1289.7 L1767.4,1289.7 L1768.9,1289.7 L1770.4,1289.7 L1771.9,1289.7 L1773.4,1289.7 L1774.9,1289.7 L1776.4,1289.7 L1777.9,1289.7 L1779.4,1289.7 L1780.9,1289.7 L1782.4,1289.7 L1783.9,1289.7 L1785.4,1289.7 L1786.9,1289.7 L1788.4,1289.7 L1789.9,1289.7 L1791.4,1289.7 L1793.0,1289.7 L1794.5,1289.7 L1796.0,1289.7 L1797.5,1289.7 L1799.0,1289.7 L1800.5,1289.7 L1802.0,1289.7 L1803.5,1289.7 L1805.0,1289.7 L1806.5,1289.7 L1808.0,1289.7 L1809.5,1289.7 L1811.0,1289.7 L1812.5,1289.7 L1814.0,1289.7 L1815.5,1289.7 L1817.0,1289.7 L1818.5,1289.7 L1820.0,1289.7 L1821.5,1289.7 L1823.0,1289.7 L1824.5,1289.7 L1826.0,1289.7 L1827.5,1289.7 L1829.0,1289.7 L1830.5,1289.7 L1832.0,1289.7 L1833.5,1289.7 L1835.0,1289.7 L1836.5,1289.7 L1838.0,1289.7 L1839.5,1289.7 L1841.0,1289.7 L1842.5,1289.7 L1844.0,1289.7 L1845.5,1289.7 L1847.0,1289.7 L1848.5,1289.7 L1850.0,1289.7 L1851.5,1289.7 L1853.0,1289.7 L1854.5,1289.7 L1856.0,1289.7 L1857.5,1289.7 L1859.0,1289.7 L1860.5,1289.7 L1862.0,1289.7" stroke="#ff8000" stroke-width="9.2"/>
</g>
<text transform="translate(74.9,1504.9) scale(1,1.04)" font-size="62" text-anchor="middle">200</text>
<text transform="translate(372.4,1504.9) scale(1,1.04)" font-size="62" text-anchor="middle">300</text>
<text transform="translate(669.8,1504.9) scale(1,1.04)" font-size="62" text-anchor="middle">400</text>
<text transform="translate(967.2,1504.9) scale(1,1.04)" font-size="62" text-anchor="middle">500</text>
<text transform="translate(1264.6,1504.9) scale(1,1.04)" font-size="62" text-anchor="middle">600</text>
<text transform="translate(1562.0,1504.9) scale(1,1.04)" font-size="62" text-anchor="middle">700</text>
<text transform="translate(1859.4,1504.9) scale(1,1.04)" font-size="62" text-anchor="middle">800</text>
<text x="790.6" y="1576.1" font-size="61.6">Wavelength/nm</text>
<line x1="1403.6" y1="201.4" x2="1528.9" y2="201.4" stroke="#ff8000" stroke-width="9.2"/>
<line x1="1407.8" y1="270.2" x2="1533.2" y2="270.2" stroke="#0000ff" stroke-width="9.2"/>
<line x1="1403.6" y1="351.0" x2="1528.8" y2="351.0" stroke="#9900ff" stroke-width="9.2"/>
<line x1="1407.3" y1="421.5" x2="1532.4" y2="421.5" stroke="#008000" stroke-width="9.2"/>
<line x1="1404.8" y1="502.8" x2="1528.8" y2="502.8" stroke="#000" stroke-width="8.5"/>
<clipPath id="c1a"><path clip-rule="evenodd" d="M1380,146.0 H1860 V256.0 H1380 Z M1534.8,208.8 H1551.8 V219.0 H1534.8 Z M1561.4,208.8 H1577.8 V219.0 H1561.4 Z"/></clipPath>
<g clip-path="url(#c1a)"><text transform="translate(1537.8,216.0) scale(1,1.04)" font-size="62" font-weight="bold">1</text></g>
<clipPath id="c1b"><path clip-rule="evenodd" d="M1380,214.7 H1860 V324.7 H1380 Z M1775.2,277.5 H1792.2 V287.7 H1775.2 Z M1801.8,277.5 H1818.2 V287.7 H1801.8 Z"/></clipPath>
<g clip-path="url(#c1b)"><text transform="translate(0,284.7) scale(1,1.04)" font-size="62" x="1539.6 1577.8 1611.7 1645.8 1686.5 1712.4" y="0.0 0.0 17.9 0.0 17.9 0.0">Fe3O4@<tspan font-weight="bold" x="1778.2" y="0">1</tspan></text></g>
<text transform="translate(1535.4,365.0) scale(1,1.04)" font-size="62" font-weight="bold">2</text>
<text transform="translate(0,436.2) scale(1,1.04)" font-size="62" x="1538.8 1577.0 1610.9 1645.0 1685.7 1711.6" y="0.0 0.0 17.9 0.0 17.9 0.0">Fe3O4@<tspan font-weight="bold" x="1775.9" y="0">2</tspan></text>
<text transform="translate(0,518.8) scale(1,1.04)" font-size="62" x="1535.3 1573.5 1607.4 1641.5 1682.2" y="0.0 0.0 15.6 0.0 15.6">Fe3O4</text>
</svg></body></html>
